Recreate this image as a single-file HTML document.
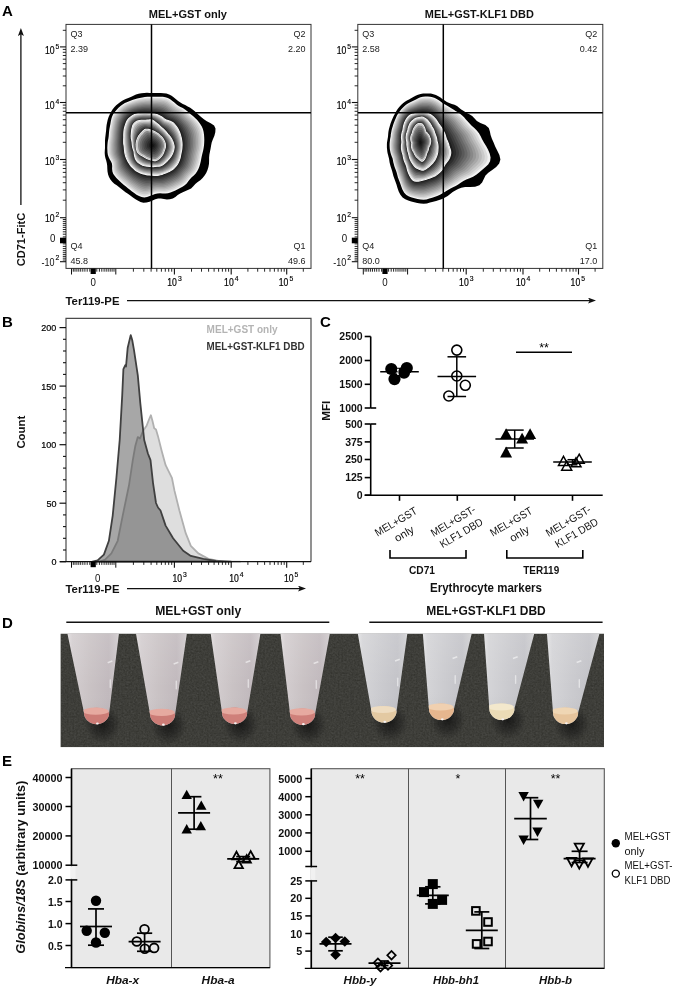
<!DOCTYPE html><html><head><meta charset="utf-8"><title>Figure</title><style>html,body{margin:0;padding:0;background:#fff}svg{display:block}text{font-family:"Liberation Sans",sans-serif}</style></head><body>
<svg width="675" height="989" viewBox="0 0 675 989">
<rect width="675" height="989" fill="#fff"/>
<defs>
<marker id="ah" markerWidth="8" markerHeight="6" refX="2" refY="3" orient="auto" markerUnits="userSpaceOnUse"><path d="M0,0 L8,3 L0,6 L1.8,3 Z" fill="#111"/></marker>
</defs>
<text x="2.0" y="15.8" font-size="15" font-weight="bold" text-anchor="start" fill="#000" >A</text>
<text x="187.8" y="17.7" font-size="11" font-weight="bold" text-anchor="middle" fill="#111" textLength="78.2" lengthAdjust="spacingAndGlyphs" >MEL+GST only</text>
<text x="479.3" y="17.7" font-size="11" font-weight="bold" text-anchor="middle" fill="#111" textLength="109.0" lengthAdjust="spacingAndGlyphs" >MEL+GST-KLF1 DBD</text>
<line x1="20.9" y1="205.0" x2="20.9" y2="34.0" stroke="#111" stroke-width="1.3" marker-end="url(#ah)"/>
<text transform="translate(25,266.3) rotate(-90)" font-size="11.5" font-weight="bold" fill="#111" textLength="53.5" lengthAdjust="spacingAndGlyphs">CD71-FitC</text>
<text x="65.5" y="304.7" font-size="11.5" font-weight="bold" text-anchor="start" fill="#111" textLength="54.0" lengthAdjust="spacingAndGlyphs" >Ter119-PE</text>
<line x1="127.0" y1="300.6" x2="590.0" y2="300.6" stroke="#111" stroke-width="1.3" marker-end="url(#ah)"/>
<polygon points="105.0,145.5 105.0,143.0 105.0,140.5 105.2,138.0 105.5,135.5 105.8,133.0 106.1,130.4 106.3,127.8 106.6,125.1 107.1,122.4 107.7,119.7 108.6,117.0 109.7,114.4 111.0,111.9 112.5,109.5 114.3,107.3 116.2,105.2 118.4,103.4 120.7,101.7 123.1,100.3 125.7,99.0 128.3,97.9 130.8,96.9 133.4,95.7 136.0,94.6 138.6,93.8 141.4,93.2 144.2,93.0 147.0,92.8 149.7,92.9 152.5,93.0 155.2,93.1 158.0,93.1 160.8,93.1 163.6,93.2 166.4,93.6 169.1,94.4 171.6,95.8 173.9,97.5 176.0,99.3 178.1,101.1 180.4,102.6 182.8,103.9 185.2,105.1 187.7,106.4 190.2,107.8 192.6,109.4 194.8,111.2 196.9,113.2 199.1,115.3 201.4,117.3 203.9,119.3 206.8,121.3 210.7,123.2 214.1,125.5 215.5,128.6 215.3,132.2 214.4,135.7 212.9,139.2 211.7,142.4 211.1,145.5 210.6,148.5 210.0,151.5 209.4,154.5 209.1,157.5 209.1,160.7 209.0,163.8 208.4,167.0 207.5,170.0 206.2,172.9 204.6,175.6 202.6,178.0 200.3,180.2 197.7,182.1 195.3,184.1 193.3,186.3 191.1,188.4 188.4,189.8 185.6,191.0 182.8,192.2 180.2,193.5 177.7,195.0 175.4,196.9 172.8,198.4 169.9,199.2 166.9,199.4 163.9,199.0 160.9,198.4 158.1,198.4 155.3,199.2 152.5,200.5 149.6,201.8 146.5,202.5 143.4,202.7 140.5,201.9 137.7,200.6 135.1,199.1 132.6,197.2 130.3,195.5 127.9,193.8 125.5,192.2 123.3,190.5 121.1,188.7 118.9,186.9 116.7,185.3 114.3,183.7 112.2,181.8 110.4,179.6 109.0,177.1 108.1,174.4 107.5,171.5 107.3,168.5 107.2,165.7 106.8,163.0 106.2,160.6 105.4,158.1 104.9,155.6 104.7,153.1 104.8,150.5 105.0,148.0" fill="#000"/>
<polygon points="107.4,145.5 107.6,143.1 107.9,140.8 108.4,138.5 108.7,136.2 108.9,133.8 109.1,131.4 109.4,129.0 109.9,126.5 110.4,124.0 110.8,121.4 111.4,118.8 112.2,116.2 113.4,113.8 115.0,111.7 116.7,109.7 118.5,107.8 120.5,105.9 122.6,104.4 124.9,103.1 127.4,102.0 129.8,101.0 132.3,100.1 134.7,99.3 137.2,98.5 139.7,97.9 142.3,97.4 144.8,97.0 147.4,96.8 149.9,96.7 152.5,96.7 155.1,96.8 157.6,96.7 160.2,96.7 162.8,96.8 165.4,97.2 167.9,98.0 170.2,99.3 172.4,100.9 174.4,102.5 176.3,104.2 178.3,105.7 180.5,106.9 182.8,108.1 185.0,109.4 187.0,111.0 189.0,112.7 191.0,114.4 193.0,116.1 195.1,117.9 197.0,119.8 198.8,121.9 200.4,124.2 201.8,126.6 202.9,129.1 203.6,131.8 204.0,134.6 204.2,137.3 204.3,140.1 204.2,142.8 204.0,145.5 203.6,148.2 203.1,150.8 202.4,153.4 201.8,156.0 201.3,158.6 200.8,161.2 200.2,163.8 199.4,166.4 198.4,168.9 197.2,171.3 195.7,173.6 193.8,175.5 191.7,177.3 189.9,179.2 188.3,181.3 186.7,183.5 184.7,185.3 182.5,186.7 180.1,188.0 177.8,189.3 175.4,190.5 173.0,191.5 170.5,192.4 168.0,193.2 165.4,193.6 162.7,193.6 160.1,193.3 157.5,193.4 155.0,194.0 152.5,195.0 149.8,196.1 147.1,197.0 144.3,197.5 141.5,197.1 139.0,196.0 136.5,194.7 134.2,193.1 132.0,191.5 129.9,189.8 127.9,188.2 125.9,186.5 123.9,184.9 121.9,183.2 120.0,181.6 118.2,179.8 116.4,178.0 114.8,176.1 113.3,174.0 112.4,171.5 112.1,168.8 112.2,166.1 111.9,163.6 111.0,161.4 109.8,159.4 108.7,157.2 107.9,155.0 107.5,152.6 107.4,150.2 107.3,147.9" fill="rgb(242,242,242)"/>
<polygon points="108.6,145.5 108.8,143.2 109.1,140.9 109.5,138.7 109.8,136.4 109.9,134.1 110.1,131.7 110.4,129.4 110.9,127.0 111.3,124.5 111.8,122.0 112.3,119.4 113.1,116.9 114.3,114.6 115.8,112.5 117.5,110.5 119.3,108.6 121.1,106.8 123.2,105.2 125.5,103.9 127.9,102.9 130.3,101.9 132.7,101.1 135.1,100.3 137.6,99.6 140.0,99.0 142.5,98.5 145.0,98.2 147.5,98.0 150.0,97.9 152.5,97.9 155.0,98.0 157.5,98.0 160.0,98.0 162.6,98.2 165.1,98.5 167.5,99.3 169.7,100.6 171.8,102.2 173.8,103.8 175.7,105.3 177.7,106.8 179.8,107.9 182.0,109.1 184.1,110.4 186.1,111.9 188.0,113.5 189.9,115.2 191.9,116.9 193.8,118.6 195.7,120.6 197.4,122.6 198.9,124.8 200.2,127.2 201.3,129.6 202.0,132.2 202.4,134.9 202.6,137.6 202.7,140.2 202.6,142.9 202.4,145.5 202.1,148.1 201.5,150.7 200.9,153.2 200.3,155.7 199.8,158.2 199.4,160.7 198.7,163.3 198.0,165.8 197.1,168.2 195.9,170.6 194.5,172.8 192.6,174.7 190.7,176.4 188.9,178.3 187.4,180.4 185.7,182.4 183.8,184.1 181.6,185.6 179.3,186.8 177.1,188.0 174.8,189.2 172.4,190.2 170.0,191.1 167.6,191.8 165.0,192.3 162.4,192.3 159.9,192.0 157.4,192.1 155.0,192.6 152.5,193.6 149.9,194.6 147.2,195.5 144.5,195.9 141.9,195.5 139.4,194.5 137.0,193.2 134.7,191.7 132.6,190.1 130.6,188.6 128.6,187.0 126.6,185.4 124.7,183.8 122.8,182.2 120.9,180.6 119.1,178.9 117.4,177.1 115.8,175.2 114.4,173.2 113.5,170.8 113.2,168.2 113.2,165.5 112.9,163.1 112.0,161.0 110.9,159.0 109.9,156.9 109.1,154.7 108.7,152.4 108.6,150.1 108.5,147.8" fill="rgb(220,220,220)"/>
<polygon points="109.8,145.5 109.9,143.3 110.2,141.1 110.5,138.9 110.8,136.6 111.0,134.4 111.2,132.1 111.5,129.7 111.9,127.4 112.3,125.0 112.7,122.5 113.3,120.0 114.0,117.6 115.2,115.3 116.6,113.2 118.2,111.2 120.0,109.4 121.8,107.6 123.9,106.1 126.1,104.8 128.4,103.8 130.8,102.9 133.1,102.0 135.5,101.3 137.9,100.6 140.3,100.1 142.8,99.6 145.2,99.3 147.6,99.2 150.1,99.1 152.5,99.2 154.9,99.2 157.4,99.2 159.8,99.3 162.3,99.5 164.7,99.9 167.1,100.7 169.2,102.0 171.2,103.5 173.1,105.0 175.0,106.5 177.0,107.8 179.1,108.9 181.2,110.0 183.3,111.3 185.2,112.8 187.0,114.4 188.8,116.1 190.7,117.7 192.6,119.4 194.4,121.3 196.0,123.3 197.5,125.5 198.7,127.8 199.7,130.2 200.4,132.7 200.8,135.2 201.0,137.8 201.1,140.4 201.1,143.0 200.9,145.5 200.5,148.0 200.0,150.5 199.4,152.9 198.8,155.4 198.4,157.8 197.9,160.3 197.3,162.7 196.6,165.1 195.7,167.5 194.7,169.8 193.2,172.0 191.5,173.8 189.6,175.5 187.9,177.4 186.4,179.4 184.8,181.4 182.9,183.0 180.8,184.4 178.6,185.6 176.3,186.8 174.1,187.9 171.8,188.9 169.5,189.8 167.1,190.5 164.7,190.9 162.2,190.9 159.7,190.8 157.3,190.8 154.9,191.3 152.5,192.2 150.0,193.1 147.4,193.9 144.8,194.2 142.2,193.9 139.8,192.9 137.5,191.7 135.3,190.3 133.2,188.8 131.2,187.3 129.2,185.8 127.3,184.2 125.5,182.7 123.6,181.2 121.8,179.6 120.1,177.9 118.4,176.2 116.9,174.3 115.5,172.4 114.7,170.1 114.3,167.5 114.2,165.0 113.9,162.7 113.1,160.6 112.0,158.7 111.1,156.6 110.3,154.5 109.9,152.2 109.8,150.0 109.7,147.7" fill="rgb(202,202,202)"/>
<polygon points="111.0,145.5 111.1,143.3 111.3,141.2 111.6,139.0 111.9,136.9 112.1,134.7 112.2,132.4 112.5,130.1 112.9,127.9 113.3,125.5 113.7,123.1 114.2,120.6 115.0,118.2 116.1,116.0 117.5,114.0 119.0,112.0 120.7,110.2 122.5,108.4 124.5,106.9 126.7,105.7 128.9,104.7 131.2,103.8 133.6,103.0 135.9,102.3 138.3,101.6 140.6,101.2 143.0,100.8 145.4,100.5 147.8,100.4 150.1,100.3 152.5,100.4 154.9,100.4 157.2,100.5 159.6,100.6 162.0,100.8 164.4,101.3 166.6,102.0 168.7,103.3 170.6,104.7 172.5,106.2 174.4,107.6 176.3,108.9 178.3,110.0 180.4,111.0 182.4,112.3 184.3,113.7 186.0,115.3 187.8,116.9 189.6,118.5 191.4,120.2 193.1,122.1 194.6,124.0 196.0,126.1 197.2,128.3 198.1,130.7 198.8,133.1 199.2,135.6 199.4,138.1 199.5,140.6 199.5,143.0 199.3,145.5 199.0,147.9 198.5,150.3 197.9,152.7 197.4,155.0 196.9,157.4 196.5,159.8 195.9,162.2 195.2,164.5 194.4,166.8 193.4,169.1 192.0,171.2 190.3,173.0 188.5,174.7 186.9,176.4 185.4,178.4 183.8,180.3 182.0,181.9 179.9,183.3 177.8,184.5 175.6,185.6 173.5,186.6 171.2,187.6 169.0,188.4 166.7,189.1 164.3,189.6 161.9,189.6 159.5,189.5 157.1,189.5 154.8,190.0 152.5,190.8 150.1,191.6 147.6,192.3 145.0,192.6 142.6,192.3 140.2,191.4 138.0,190.3 135.8,188.9 133.8,187.5 131.8,186.0 129.9,184.6 128.1,183.1 126.3,181.6 124.5,180.1 122.7,178.6 121.0,177.0 119.4,175.3 117.9,173.5 116.6,171.6 115.8,169.4 115.4,166.9 115.3,164.5 114.9,162.2 114.1,160.2 113.1,158.3 112.2,156.3 111.5,154.2 111.2,152.0 111.0,149.9 110.9,147.7" fill="rgb(185,185,185)"/>
<polygon points="112.2,145.5 112.3,143.4 112.5,141.3 112.7,139.2 113.0,137.1 113.1,134.9 113.3,132.8 113.5,130.5 113.9,128.3 114.3,126.0 114.7,123.7 115.2,121.3 115.9,118.9 116.9,116.7 118.3,114.7 119.8,112.8 121.4,110.9 123.2,109.3 125.1,107.8 127.2,106.6 129.4,105.6 131.7,104.7 134.0,104.0 136.3,103.3 138.6,102.7 140.9,102.2 143.2,101.9 145.6,101.7 147.9,101.5 150.2,101.5 152.5,101.6 154.8,101.7 157.1,101.8 159.4,101.9 161.7,102.2 164.0,102.6 166.2,103.4 168.2,104.6 170.1,106.0 171.9,107.4 173.7,108.8 175.6,110.0 177.6,111.0 179.6,112.0 181.6,113.2 183.4,114.6 185.0,116.2 186.7,117.8 188.5,119.4 190.2,121.0 191.8,122.8 193.2,124.7 194.5,126.8 195.7,128.9 196.6,131.2 197.2,133.5 197.6,135.9 197.8,138.3 197.9,140.7 197.9,143.1 197.7,145.5 197.4,147.9 197.0,150.2 196.4,152.5 195.9,154.7 195.5,157.0 195.1,159.3 194.5,161.6 193.8,163.9 193.0,166.2 192.1,168.3 190.8,170.4 189.2,172.1 187.5,173.8 185.9,175.5 184.4,177.4 182.9,179.2 181.1,180.8 179.1,182.1 177.0,183.3 174.9,184.3 172.8,185.4 170.7,186.3 168.5,187.1 166.2,187.8 164.0,188.2 161.6,188.3 159.3,188.2 157.0,188.2 154.8,188.6 152.5,189.4 150.2,190.1 147.7,190.7 145.3,191.0 142.9,190.7 140.6,189.8 138.4,188.8 136.4,187.5 134.4,186.2 132.5,184.8 130.6,183.4 128.8,182.0 127.0,180.5 125.3,179.1 123.6,177.6 122.0,176.0 120.5,174.4 119.0,172.6 117.7,170.8 116.9,168.6 116.5,166.3 116.3,163.9 115.9,161.8 115.2,159.8 114.2,157.9 113.4,156.0 112.7,154.0 112.4,151.9 112.2,149.7 112.2,147.6" fill="rgb(168,168,168)"/>
<polygon points="113.4,145.5 113.4,143.5 113.6,141.4 113.8,139.4 114.0,137.3 114.2,135.2 114.3,133.1 114.5,130.9 114.9,128.7 115.2,126.5 115.6,124.2 116.1,121.9 116.8,119.6 117.8,117.4 119.1,115.4 120.5,113.5 122.1,111.7 123.8,110.1 125.7,108.7 127.8,107.5 130.0,106.5 132.2,105.6 134.4,104.9 136.7,104.3 138.9,103.7 141.2,103.3 143.5,103.0 145.7,102.8 148.0,102.7 150.3,102.7 152.5,102.8 154.7,102.9 157.0,103.0 159.2,103.2 161.4,103.5 163.6,104.0 165.7,104.8 167.7,105.9 169.5,107.3 171.3,108.7 173.0,109.9 174.9,111.0 176.8,112.0 178.8,113.0 180.7,114.2 182.4,115.6 184.1,117.1 185.7,118.6 187.3,120.2 189.0,121.8 190.5,123.6 191.8,125.5 193.1,127.4 194.1,129.5 195.0,131.7 195.6,134.0 196.0,136.3 196.2,138.6 196.3,140.9 196.3,143.2 196.1,145.5 195.9,147.8 195.5,150.0 195.0,152.2 194.5,154.4 194.0,156.6 193.6,158.9 193.1,161.1 192.5,163.3 191.7,165.5 190.8,167.6 189.5,169.6 188.0,171.3 186.4,172.9 184.8,174.6 183.4,176.4 181.9,178.2 180.2,179.7 178.3,181.0 176.3,182.1 174.2,183.1 172.2,184.1 170.1,185.0 168.0,185.8 165.8,186.5 163.6,186.9 161.3,187.0 159.1,186.9 156.9,186.9 154.7,187.3 152.5,187.9 150.2,188.6 147.9,189.2 145.5,189.4 143.2,189.1 141.0,188.3 138.9,187.3 136.9,186.1 135.0,184.8 133.1,183.5 131.3,182.2 129.5,180.9 127.8,179.5 126.1,178.1 124.5,176.6 122.9,175.1 121.5,173.4 120.1,171.8 118.8,170.0 118.0,167.9 117.6,165.7 117.3,163.4 117.0,161.3 116.2,159.4 115.3,157.6 114.5,155.7 113.9,153.7 113.6,151.7 113.4,149.6 113.4,147.6" fill="rgb(152,152,152)"/>
<polygon points="114.5,145.5 114.6,143.5 114.7,141.5 114.9,139.5 115.1,137.6 115.2,135.5 115.4,133.4 115.6,131.3 115.9,129.2 116.2,127.0 116.6,124.8 117.1,122.5 117.7,120.2 118.7,118.1 119.9,116.2 121.3,114.3 122.8,112.5 124.5,110.9 126.4,109.5 128.4,108.3 130.5,107.4 132.7,106.6 134.9,105.9 137.1,105.3 139.3,104.8 141.5,104.4 143.7,104.1 145.9,104.0 148.1,103.9 150.3,103.9 152.5,104.0 154.7,104.1 156.8,104.3 159.0,104.5 161.1,104.8 163.3,105.3 165.3,106.1 167.2,107.3 168.9,108.6 170.7,109.9 172.4,111.1 174.2,112.1 176.1,113.0 178.0,114.0 179.8,115.1 181.5,116.5 183.1,118.0 184.6,119.5 186.2,121.0 187.7,122.6 189.2,124.3 190.4,126.2 191.6,128.1 192.6,130.1 193.4,132.2 194.0,134.4 194.3,136.6 194.6,138.8 194.7,141.1 194.7,143.3 194.6,145.5 194.3,147.7 194.0,149.9 193.5,152.0 193.0,154.1 192.6,156.2 192.2,158.4 191.7,160.5 191.1,162.7 190.4,164.8 189.5,166.8 188.3,168.8 186.9,170.5 185.3,172.1 183.8,173.7 182.4,175.4 181.0,177.1 179.3,178.6 177.4,179.8 175.5,180.9 173.5,181.9 171.5,182.8 169.5,183.7 167.5,184.5 165.4,185.1 163.2,185.6 161.0,185.7 158.9,185.6 156.7,185.6 154.6,186.0 152.5,186.5 150.3,187.1 148.1,187.6 145.8,187.8 143.6,187.4 141.5,186.7 139.4,185.8 137.5,184.7 135.6,183.5 133.8,182.3 132.0,181.0 130.3,179.7 128.6,178.4 127.0,177.0 125.4,175.6 123.9,174.1 122.5,172.5 121.1,170.9 119.9,169.2 119.1,167.2 118.6,165.1 118.4,162.9 118.0,160.9 117.2,159.0 116.4,157.2 115.7,155.4 115.1,153.4 114.8,151.5 114.7,149.5 114.6,147.5" fill="rgb(136,136,136)"/>
<polygon points="115.7,145.5 115.7,143.6 115.8,141.6 116.0,139.7 116.2,137.8 116.3,135.8 116.4,133.8 116.6,131.7 116.9,129.6 117.2,127.5 117.6,125.3 118.0,123.1 118.7,120.9 119.6,118.9 120.8,116.9 122.1,115.1 123.5,113.3 125.2,111.8 127.0,110.4 128.9,109.2 131.0,108.3 133.1,107.5 135.3,106.8 137.4,106.3 139.6,105.8 141.8,105.5 143.9,105.2 146.1,105.1 148.3,105.1 150.4,105.1 152.5,105.2 154.6,105.3 156.7,105.5 158.8,105.8 160.9,106.2 162.9,106.7 164.8,107.5 166.7,108.6 168.4,109.9 170.0,111.1 171.7,112.2 173.5,113.2 175.3,114.1 177.2,115.0 179.0,116.1 180.6,117.4 182.1,118.9 183.6,120.3 185.1,121.8 186.5,123.4 187.9,125.1 189.1,126.9 190.1,128.7 191.1,130.7 191.8,132.7 192.4,134.8 192.7,136.9 193.0,139.1 193.1,141.2 193.1,143.4 193.0,145.5 192.8,147.6 192.4,149.7 192.0,151.8 191.5,153.8 191.1,155.9 190.8,157.9 190.3,160.0 189.7,162.1 189.0,164.1 188.2,166.1 187.1,168.0 185.7,169.6 184.2,171.2 182.8,172.8 181.5,174.5 180.0,176.1 178.4,177.5 176.6,178.7 174.7,179.7 172.8,180.7 170.9,181.6 168.9,182.4 166.9,183.1 164.9,183.8 162.9,184.2 160.8,184.3 158.6,184.3 156.6,184.4 154.6,184.6 152.5,185.1 150.4,185.6 148.2,186.0 146.1,186.2 143.9,185.8 141.9,185.2 139.9,184.3 138.0,183.3 136.2,182.2 134.4,181.0 132.7,179.9 131.0,178.6 129.4,177.3 127.8,176.0 126.3,174.6 124.9,173.1 123.5,171.6 122.2,170.0 121.0,168.4 120.2,166.5 119.7,164.4 119.4,162.4 119.0,160.4 118.3,158.6 117.5,156.9 116.8,155.1 116.3,153.2 116.0,151.3 115.9,149.3 115.8,147.4" fill="rgb(120,120,120)"/>
<polygon points="116.9,145.5 116.9,143.6 117.0,141.8 117.1,139.9 117.3,138.0 117.4,136.1 117.5,134.1 117.6,132.1 117.9,130.1 118.2,128.0 118.5,125.9 119.0,123.7 119.6,121.6 120.5,119.6 121.6,117.7 122.8,115.8 124.2,114.1 125.9,112.6 127.6,111.3 129.5,110.1 131.5,109.2 133.6,108.4 135.7,107.8 137.8,107.3 139.9,106.9 142.1,106.6 144.2,106.4 146.3,106.3 148.4,106.3 150.4,106.3 152.5,106.4 154.5,106.6 156.6,106.8 158.6,107.1 160.6,107.5 162.5,108.0 164.4,108.9 166.1,109.9 167.8,111.2 169.4,112.3 171.1,113.3 172.8,114.2 174.6,115.1 176.4,116.0 178.1,117.0 179.7,118.3 181.1,119.7 182.5,121.2 183.9,122.7 185.3,124.2 186.5,125.8 187.7,127.6 188.7,129.4 189.5,131.3 190.3,133.2 190.8,135.2 191.1,137.3 191.4,139.3 191.5,141.4 191.5,143.5 191.4,145.5 191.2,147.5 190.9,149.5 190.5,151.5 190.1,153.5 189.7,155.5 189.3,157.5 188.9,159.5 188.3,161.5 187.7,163.4 186.9,165.3 185.8,167.2 184.6,168.8 183.2,170.3 181.8,171.9 180.5,173.5 179.1,175.0 177.5,176.4 175.7,177.5 173.9,178.5 172.1,179.4 170.2,180.3 168.3,181.1 166.4,181.8 164.5,182.4 162.5,182.9 160.5,183.0 158.4,183.0 156.4,183.1 154.5,183.3 152.5,183.7 150.5,184.1 148.4,184.5 146.3,184.5 144.3,184.2 142.3,183.6 140.4,182.8 138.5,181.9 136.8,180.8 135.0,179.8 133.4,178.7 131.7,177.5 130.2,176.2 128.7,174.9 127.2,173.6 125.8,172.2 124.5,170.7 123.2,169.2 122.1,167.6 121.3,165.7 120.8,163.8 120.4,161.8 120.0,160.0 119.3,158.2 118.6,156.5 118.0,154.7 117.5,152.9 117.2,151.1 117.1,149.2 117.0,147.4" fill="rgb(104,104,104)"/>
<polygon points="118.1,145.5 118.0,143.7 118.1,141.9 118.2,140.1 118.3,138.2 118.4,136.4 118.5,134.5 118.7,132.5 118.9,130.5 119.1,128.5 119.5,126.4 119.9,124.3 120.5,122.3 121.4,120.3 122.4,118.4 123.6,116.6 125.0,114.9 126.5,113.4 128.2,112.1 130.1,111.0 132.0,110.1 134.1,109.3 136.1,108.8 138.2,108.3 140.3,107.9 142.4,107.6 144.4,107.5 146.5,107.4 148.5,107.4 150.5,107.5 152.5,107.6 154.5,107.8 156.4,108.0 158.4,108.4 160.3,108.8 162.2,109.4 164.0,110.2 165.6,111.3 167.2,112.5 168.8,113.6 170.4,114.5 172.1,115.3 173.9,116.1 175.6,116.9 177.3,118.0 178.8,119.2 180.1,120.6 181.5,122.0 182.8,123.5 184.1,125.0 185.2,126.6 186.3,128.3 187.2,130.0 188.0,131.9 188.7,133.7 189.2,135.7 189.5,137.6 189.8,139.6 189.9,141.6 189.9,143.5 189.9,145.5 189.7,147.4 189.4,149.4 189.0,151.3 188.6,153.2 188.2,155.1 187.9,157.0 187.5,158.9 187.0,160.8 186.3,162.7 185.6,164.6 184.6,166.4 183.4,168.0 182.1,169.5 180.8,171.0 179.5,172.5 178.1,174.0 176.6,175.3 174.9,176.3 173.2,177.3 171.4,178.2 169.6,179.0 167.8,179.8 165.9,180.5 164.1,181.1 162.2,181.5 160.2,181.7 158.2,181.7 156.3,181.8 154.4,182.0 152.5,182.3 150.6,182.6 148.6,182.9 146.6,182.9 144.6,182.6 142.7,182.1 140.9,181.3 139.1,180.5 137.4,179.5 135.7,178.5 134.0,177.5 132.5,176.4 131.0,175.2 129.5,173.9 128.1,172.6 126.8,171.2 125.5,169.8 124.3,168.3 123.2,166.8 122.4,165.0 121.9,163.2 121.5,161.3 121.0,159.5 120.4,157.8 119.7,156.2 119.1,154.4 118.7,152.7 118.4,150.9 118.3,149.1 118.2,147.3" fill="rgb(89,89,89)"/>
<polygon points="119.3,145.5 119.2,143.8 119.2,142.0 119.3,140.2 119.4,138.5 119.5,136.7 119.6,134.8 119.7,132.9 119.9,131.0 120.1,129.0 120.4,127.0 120.9,125.0 121.5,122.9 122.2,121.0 123.2,119.1 124.3,117.3 125.7,115.7 127.2,114.3 128.9,113.0 130.7,111.9 132.6,111.0 134.6,110.3 136.6,109.7 138.6,109.3 140.6,108.9 142.6,108.7 144.7,108.6 146.7,108.6 148.6,108.6 150.6,108.7 152.5,108.8 154.4,109.0 156.3,109.3 158.2,109.6 160.0,110.1 161.8,110.8 163.5,111.6 165.1,112.6 166.6,113.7 168.2,114.8 169.7,115.6 171.4,116.4 173.1,117.1 174.8,117.9 176.4,118.9 177.8,120.2 179.1,121.5 180.4,122.9 181.7,124.3 182.9,125.8 183.9,127.4 184.9,129.0 185.8,130.7 186.5,132.5 187.1,134.3 187.6,136.1 187.9,138.0 188.2,139.9 188.3,141.7 188.3,143.6 188.3,145.5 188.1,147.4 187.9,149.2 187.5,151.1 187.2,152.9 186.8,154.7 186.5,156.5 186.1,158.4 185.6,160.2 185.0,162.1 184.3,163.8 183.4,165.6 182.3,167.1 181.0,168.6 179.7,170.0 178.5,171.5 177.2,172.9 175.7,174.1 174.1,175.2 172.4,176.1 170.7,177.0 168.9,177.8 167.2,178.5 165.4,179.2 163.6,179.7 161.8,180.2 159.9,180.4 158.0,180.4 156.2,180.5 154.3,180.6 152.5,180.9 150.6,181.1 148.7,181.3 146.8,181.3 144.9,181.0 143.1,180.5 141.3,179.9 139.6,179.1 137.9,178.2 136.3,177.3 134.7,176.3 133.2,175.2 131.7,174.1 130.3,172.9 129.0,171.6 127.7,170.3 126.5,168.9 125.4,167.5 124.4,165.9 123.5,164.3 123.0,162.6 122.5,160.8 122.0,159.1 121.4,157.4 120.8,155.8 120.3,154.1 119.9,152.4 119.6,150.7 119.5,149.0 119.4,147.2" fill="rgb(74,74,74)"/>
<polygon points="120.5,145.5 120.4,143.8 120.3,142.1 120.4,140.4 120.5,138.7 120.6,136.9 120.6,135.1 120.7,133.3 120.9,131.4 121.1,129.5 121.4,127.5 121.8,125.6 122.4,123.6 123.1,121.7 124.0,119.9 125.1,118.1 126.4,116.5 127.9,115.1 129.5,113.8 131.2,112.8 133.1,111.9 135.0,111.2 137.0,110.7 139.0,110.3 141.0,110.0 142.9,109.8 144.9,109.7 146.8,109.7 148.7,109.8 150.6,109.9 152.5,110.0 154.3,110.2 156.2,110.5 158.0,110.9 159.7,111.5 161.4,112.1 163.1,112.9 164.6,113.9 166.1,115.0 167.5,116.0 169.1,116.8 170.7,117.5 172.4,118.1 174.0,118.9 175.6,119.9 176.9,121.1 178.2,122.4 179.4,123.7 180.5,125.1 181.6,126.6 182.6,128.1 183.5,129.7 184.3,131.3 185.0,133.0 185.5,134.8 186.0,136.5 186.3,138.3 186.5,140.1 186.7,141.9 186.8,143.7 186.7,145.5 186.6,147.3 186.4,149.1 186.1,150.8 185.7,152.6 185.4,154.3 185.0,156.1 184.7,157.8 184.2,159.6 183.6,161.4 183.0,163.1 182.1,164.8 181.1,166.3 179.9,167.7 178.7,169.1 177.5,170.5 176.2,171.9 174.8,173.0 173.2,174.0 171.6,174.9 170.0,175.7 168.3,176.5 166.6,177.2 164.9,177.8 163.2,178.4 161.4,178.8 159.6,179.1 157.8,179.1 156.0,179.2 154.3,179.3 152.5,179.4 150.7,179.6 148.9,179.7 147.1,179.7 145.3,179.4 143.5,179.0 141.8,178.4 140.2,177.7 138.5,176.9 137.0,176.0 135.4,175.1 133.9,174.1 132.5,173.0 131.2,171.8 129.9,170.6 128.7,169.3 127.5,168.0 126.4,166.6 125.5,165.1 124.7,163.6 124.0,161.9 123.6,160.2 123.1,158.6 122.5,157.0 121.9,155.4 121.4,153.8 121.1,152.2 120.9,150.5 120.7,148.8 120.6,147.2" fill="rgb(59,59,59)"/>
<polygon points="121.7,145.5 121.5,143.9 121.5,142.2 121.5,140.6 121.5,138.9 121.6,137.2 121.7,135.5 121.7,133.7 121.9,131.9 122.1,130.0 122.4,128.1 122.8,126.2 123.3,124.3 124.0,122.4 124.9,120.6 125.9,118.9 127.1,117.3 128.5,115.9 130.1,114.7 131.8,113.6 133.6,112.8 135.5,112.1 137.4,111.7 139.4,111.3 141.3,111.0 143.2,110.9 145.1,110.8 147.0,110.9 148.9,111.0 150.7,111.1 152.5,111.2 154.3,111.4 156.0,111.8 157.8,112.2 159.4,112.8 161.1,113.5 162.6,114.3 164.1,115.3 165.5,116.3 166.9,117.2 168.4,117.9 170.0,118.5 171.6,119.2 173.2,119.9 174.7,120.9 176.0,122.0 177.2,123.3 178.3,124.6 179.4,125.9 180.4,127.4 181.3,128.9 182.1,130.4 182.8,132.0 183.4,133.6 183.9,135.3 184.4,137.0 184.7,138.7 184.9,140.4 185.1,142.1 185.2,143.8 185.1,145.5 185.0,147.2 184.9,148.9 184.6,150.6 184.2,152.2 183.9,153.9 183.6,155.6 183.3,157.3 182.8,159.0 182.3,160.7 181.7,162.3 180.9,163.9 180.0,165.5 178.9,166.9 177.7,168.2 176.5,169.5 175.3,170.8 173.9,171.9 172.4,172.9 170.8,173.7 169.2,174.5 167.6,175.2 166.0,175.9 164.4,176.5 162.8,177.1 161.1,177.5 159.4,177.7 157.6,177.9 155.9,177.9 154.2,178.0 152.5,178.0 150.8,178.1 149.1,178.2 147.3,178.1 145.6,177.8 143.9,177.4 142.3,176.9 140.7,176.3 139.1,175.5 137.6,174.8 136.1,173.9 134.7,173.0 133.3,171.9 132.0,170.8 130.8,169.6 129.6,168.4 128.5,167.1 127.5,165.7 126.6,164.3 125.8,162.9 125.1,161.3 124.6,159.7 124.1,158.2 123.5,156.6 123.0,155.1 122.6,153.5 122.3,151.9 122.1,150.3 122.0,148.7 121.8,147.1" fill="rgb(44,44,44)"/>
<polygon points="122.9,145.5 122.7,143.9 122.6,142.4 122.6,140.8 122.6,139.1 122.7,137.5 122.7,135.8 122.8,134.1 122.9,132.3 123.0,130.5 123.3,128.7 123.7,126.8 124.2,125.0 124.9,123.2 125.7,121.4 126.6,119.6 127.8,118.1 129.2,116.7 130.8,115.6 132.4,114.5 134.1,113.7 136.0,113.1 137.9,112.6 139.8,112.3 141.6,112.1 143.5,112.0 145.4,111.9 147.2,112.0 149.0,112.2 150.8,112.3 152.5,112.4 154.2,112.7 155.9,113.0 157.6,113.5 159.2,114.1 160.7,114.8 162.2,115.7 163.6,116.6 164.9,117.6 166.3,118.5 167.8,119.1 169.3,119.6 170.9,120.2 172.4,120.9 173.8,121.8 175.1,122.9 176.2,124.2 177.3,125.4 178.3,126.8 179.2,128.2 180.0,129.6 180.7,131.1 181.4,132.6 181.9,134.2 182.4,135.8 182.8,137.4 183.1,139.0 183.3,140.6 183.5,142.2 183.6,143.9 183.6,145.5 183.5,147.1 183.3,148.7 183.1,150.3 182.8,151.9 182.5,153.5 182.2,155.1 181.8,156.8 181.4,158.4 181.0,160.0 180.4,161.6 179.7,163.1 178.8,164.6 177.8,166.0 176.7,167.3 175.6,168.6 174.3,169.7 173.0,170.8 171.6,171.7 170.1,172.5 168.5,173.3 167.0,173.9 165.4,174.6 163.9,175.2 162.3,175.7 160.7,176.1 159.1,176.4 157.4,176.6 155.8,176.6 154.1,176.6 152.5,176.6 150.9,176.6 149.2,176.6 147.6,176.5 146.0,176.2 144.4,175.9 142.8,175.4 141.2,174.8 139.7,174.2 138.2,173.5 136.8,172.7 135.4,171.8 134.1,170.8 132.9,169.8 131.7,168.6 130.6,167.4 129.5,166.2 128.6,164.9 127.7,163.5 126.9,162.1 126.2,160.7 125.6,159.2 125.1,157.7 124.6,156.2 124.1,154.7 123.8,153.2 123.5,151.7 123.3,150.1 123.2,148.6 123.1,147.0" fill="rgb(29,29,29)"/>
<polygon points="124.1,145.5 123.8,144.0 123.7,142.5 123.7,140.9 123.7,139.4 123.8,137.8 123.8,136.2 123.8,134.5 123.9,132.7 124.0,131.0 124.3,129.2 124.7,127.4 125.2,125.6 125.8,123.9 126.5,122.1 127.4,120.4 128.5,118.9 129.9,117.6 131.4,116.4 132.9,115.4 134.6,114.6 136.4,114.0 138.3,113.6 140.1,113.3 142.0,113.1 143.8,113.0 145.6,113.1 147.4,113.2 149.1,113.3 150.8,113.5 152.5,113.7 154.2,113.9 155.8,114.3 157.4,114.8 158.9,115.5 160.4,116.2 161.8,117.0 163.1,117.9 164.4,118.9 165.7,119.7 167.1,120.2 168.6,120.7 170.2,121.2 171.6,121.9 173.0,122.8 174.2,123.8 175.2,125.0 176.2,126.3 177.1,127.6 178.0,129.0 178.7,130.4 179.3,131.8 179.9,133.3 180.4,134.8 180.8,136.3 181.2,137.8 181.5,139.3 181.7,140.9 181.9,142.4 182.0,144.0 182.0,145.5 181.9,147.0 181.8,148.6 181.6,150.1 181.3,151.6 181.0,153.1 180.7,154.7 180.4,156.2 180.1,157.8 179.6,159.3 179.1,160.8 178.4,162.3 177.7,163.8 176.7,165.1 175.7,166.4 174.6,167.6 173.4,168.7 172.1,169.7 170.7,170.6 169.3,171.4 167.8,172.0 166.3,172.7 164.9,173.3 163.4,173.8 161.9,174.4 160.3,174.8 158.8,175.1 157.2,175.3 155.6,175.3 154.1,175.3 152.5,175.2 150.9,175.1 149.4,175.0 147.8,174.9 146.3,174.6 144.8,174.3 143.3,173.9 141.8,173.4 140.3,172.9 138.9,172.3 137.5,171.5 136.1,170.7 134.9,169.8 133.7,168.7 132.6,167.6 131.5,166.5 130.5,165.3 129.6,164.0 128.8,162.7 128.0,161.4 127.3,160.1 126.7,158.7 126.1,157.3 125.6,155.8 125.2,154.4 124.9,152.9 124.7,151.4 124.5,149.9 124.4,148.5 124.3,147.0" fill="none" stroke="#fff" stroke-width="1.15"/>
<polygon points="124.1,145.5 123.8,144.0 123.7,142.5 123.7,140.9 123.7,139.4 123.8,137.8 123.8,136.2 123.8,134.5 123.9,132.7 124.0,131.0 124.3,129.2 124.7,127.4 125.2,125.6 125.8,123.9 126.5,122.1 127.4,120.4 128.5,118.9 129.9,117.6 131.4,116.4 132.9,115.4 134.6,114.6 136.4,114.0 138.3,113.6 140.1,113.3 142.0,113.1 143.8,113.0 145.6,113.1 147.4,113.2 149.1,113.3 150.8,113.5 152.5,113.7 154.2,113.9 155.8,114.3 157.4,114.8 158.9,115.5 160.4,116.2 161.8,117.0 163.1,117.9 164.4,118.9 165.7,119.7 167.1,120.2 168.6,120.7 170.2,121.2 171.6,121.9 173.0,122.8 174.2,123.8 175.2,125.0 176.2,126.3 177.1,127.6 178.0,129.0 178.7,130.4 179.3,131.8 179.9,133.3 180.4,134.8 180.8,136.3 181.2,137.8 181.5,139.3 181.7,140.9 181.9,142.4 182.0,144.0 182.0,145.5 181.9,147.0 181.8,148.6 181.6,150.1 181.3,151.6 181.0,153.1 180.7,154.7 180.4,156.2 180.1,157.8 179.6,159.3 179.1,160.8 178.4,162.3 177.7,163.8 176.7,165.1 175.7,166.4 174.6,167.6 173.4,168.7 172.1,169.7 170.7,170.6 169.3,171.4 167.8,172.0 166.3,172.7 164.9,173.3 163.4,173.8 161.9,174.4 160.3,174.8 158.8,175.1 157.2,175.3 155.6,175.3 154.1,175.3 152.5,175.2 150.9,175.1 149.4,175.0 147.8,174.9 146.3,174.6 144.8,174.3 143.3,173.9 141.8,173.4 140.3,172.9 138.9,172.3 137.5,171.5 136.1,170.7 134.9,169.8 133.7,168.7 132.6,167.6 131.5,166.5 130.5,165.3 129.6,164.0 128.8,162.7 128.0,161.4 127.3,160.1 126.7,158.7 126.1,157.3 125.6,155.8 125.2,154.4 124.9,152.9 124.7,151.4 124.5,149.9 124.4,148.5 124.3,147.0" fill="rgb(232,232,232)"/>
<polygon points="125.1,145.5 124.9,144.1 124.8,142.6 124.7,141.1 124.7,139.6 124.7,138.1 124.8,136.5 124.7,134.8 124.8,133.2 124.9,131.4 125.2,129.7 125.5,128.0 126.0,126.2 126.6,124.5 127.2,122.8 128.1,121.1 129.1,119.5 130.4,118.3 131.9,117.1 133.4,116.1 135.1,115.3 136.9,114.8 138.7,114.4 140.5,114.2 142.3,114.0 144.0,113.9 145.8,113.9 147.5,114.0 149.2,114.2 150.9,114.3 152.5,114.5 154.1,114.8 155.7,115.2 157.2,115.8 158.7,116.5 160.1,117.2 161.4,118.1 162.7,119.0 163.9,119.9 165.1,120.7 166.5,121.2 168.0,121.7 169.4,122.3 170.8,122.9 172.0,123.8 173.1,124.9 174.2,126.0 175.1,127.2 176.0,128.4 176.8,129.7 177.5,131.0 178.2,132.4 178.7,133.8 179.2,135.2 179.7,136.7 180.0,138.1 180.4,139.6 180.6,141.0 180.8,142.5 181.0,144.0 181.0,145.5 181.0,147.0 180.9,148.5 180.7,150.0 180.4,151.4 180.1,152.9 179.8,154.4 179.5,155.8 179.1,157.3 178.6,158.8 178.1,160.3 177.4,161.7 176.7,163.1 175.8,164.3 174.8,165.5 173.7,166.7 172.6,167.8 171.3,168.8 170.0,169.6 168.7,170.4 167.3,171.1 165.9,171.7 164.4,172.3 163.0,172.8 161.5,173.3 160.1,173.7 158.6,174.0 157.0,174.2 155.5,174.2 154.0,174.2 152.5,174.1 151.0,174.0 149.5,174.0 148.0,173.8 146.5,173.6 145.1,173.3 143.6,172.9 142.1,172.5 140.7,172.0 139.3,171.4 138.0,170.7 136.7,169.9 135.4,169.0 134.3,168.0 133.2,166.9 132.2,165.8 131.2,164.6 130.4,163.4 129.6,162.2 128.9,160.9 128.2,159.5 127.6,158.2 127.1,156.8 126.7,155.4 126.3,154.0 126.0,152.6 125.8,151.2 125.6,149.8 125.4,148.3 125.3,146.9" fill="rgb(194,194,194)"/>
<polygon points="126.1,145.5 125.9,144.1 125.8,142.7 125.8,141.3 125.7,139.8 125.7,138.3 125.7,136.8 125.7,135.2 125.7,133.6 125.8,131.9 126.1,130.2 126.4,128.5 126.8,126.8 127.3,125.1 128.0,123.4 128.7,121.7 129.7,120.2 131.0,119.0 132.4,117.8 133.9,116.9 135.5,116.1 137.3,115.6 139.0,115.3 140.8,115.0 142.5,114.9 144.3,114.8 146.0,114.8 147.7,114.9 149.3,115.0 150.9,115.1 152.5,115.3 154.1,115.7 155.6,116.2 157.0,116.8 158.5,117.5 159.8,118.3 161.1,119.1 162.3,120.0 163.5,120.9 164.6,121.7 165.9,122.2 167.3,122.7 168.6,123.3 169.9,124.0 171.1,124.8 172.1,125.9 173.1,127.0 174.0,128.1 174.8,129.3 175.6,130.5 176.4,131.7 177.0,133.0 177.6,134.3 178.1,135.7 178.5,137.0 178.9,138.4 179.3,139.8 179.6,141.2 179.8,142.6 179.9,144.1 180.0,145.5 180.0,146.9 179.9,148.4 179.7,149.8 179.4,151.2 179.1,152.6 178.8,154.0 178.5,155.5 178.1,156.9 177.6,158.3 177.1,159.7 176.4,161.0 175.7,162.4 174.8,163.6 173.8,164.7 172.8,165.8 171.7,166.9 170.6,167.8 169.3,168.7 168.0,169.4 166.7,170.1 165.4,170.7 164.0,171.3 162.6,171.9 161.2,172.3 159.8,172.7 158.3,172.9 156.9,173.0 155.4,173.1 153.9,173.1 152.5,173.1 151.1,173.0 149.6,172.9 148.2,172.7 146.8,172.5 145.3,172.3 143.9,171.9 142.5,171.5 141.1,171.0 139.8,170.5 138.5,169.8 137.2,169.1 136.0,168.2 134.9,167.2 133.9,166.2 132.9,165.1 131.9,164.0 131.1,162.8 130.4,161.6 129.7,160.3 129.1,159.0 128.6,157.7 128.2,156.3 127.8,155.0 127.4,153.6 127.1,152.3 126.9,151.0 126.6,149.6 126.5,148.2 126.3,146.9" fill="rgb(163,163,163)"/>
<polygon points="127.2,145.5 127.0,144.2 126.9,142.8 126.8,141.4 126.8,140.0 126.7,138.6 126.7,137.1 126.6,135.6 126.6,134.0 126.7,132.4 126.9,130.7 127.2,129.1 127.6,127.4 128.1,125.7 128.7,124.1 129.4,122.4 130.4,120.9 131.6,119.7 132.9,118.6 134.4,117.6 136.0,116.9 137.7,116.4 139.4,116.1 141.1,115.9 142.8,115.8 144.5,115.7 146.2,115.7 147.8,115.7 149.4,115.8 150.9,115.9 152.5,116.1 154.0,116.5 155.5,117.1 156.9,117.8 158.2,118.5 159.5,119.3 160.8,120.1 161.9,121.0 163.0,121.9 164.1,122.7 165.3,123.3 166.6,123.8 167.8,124.4 169.0,125.1 170.2,125.9 171.1,126.9 172.0,127.9 172.9,129.0 173.7,130.1 174.5,131.2 175.2,132.4 175.8,133.6 176.4,134.8 176.9,136.1 177.4,137.4 177.8,138.7 178.2,140.0 178.5,141.4 178.7,142.7 178.9,144.1 179.0,145.5 179.0,146.9 178.9,148.3 178.7,149.7 178.5,151.0 178.2,152.4 177.8,153.7 177.5,155.1 177.1,156.5 176.6,157.8 176.1,159.1 175.4,160.4 174.7,161.6 173.9,162.8 172.9,163.9 171.9,164.9 170.9,165.9 169.8,166.9 168.6,167.7 167.4,168.5 166.2,169.2 164.9,169.8 163.6,170.4 162.2,170.9 160.9,171.3 159.5,171.6 158.1,171.8 156.7,171.9 155.3,172.0 153.9,172.0 152.5,172.0 151.1,171.9 149.7,171.8 148.4,171.7 147.0,171.5 145.6,171.2 144.2,170.9 142.9,170.5 141.5,170.1 140.2,169.6 139.0,169.0 137.7,168.2 136.6,167.4 135.5,166.5 134.5,165.5 133.5,164.5 132.6,163.4 131.9,162.2 131.2,161.0 130.6,159.7 130.0,158.5 129.6,157.2 129.2,155.9 128.8,154.6 128.6,153.3 128.2,152.0 127.9,150.7 127.7,149.4 127.5,148.1 127.4,146.8" fill="rgb(135,135,135)"/>
<polygon points="128.2,145.5 128.1,144.2 128.0,142.9 127.9,141.6 127.8,140.2 127.7,138.9 127.6,137.4 127.6,135.9 127.5,134.4 127.6,132.8 127.8,131.3 128.1,129.7 128.4,128.0 128.9,126.4 129.4,124.7 130.1,123.1 131.0,121.6 132.1,120.3 133.4,119.3 134.9,118.3 136.4,117.7 138.1,117.2 139.8,116.9 141.5,116.7 143.1,116.6 144.8,116.6 146.4,116.6 147.9,116.6 149.5,116.6 151.0,116.7 152.5,117.0 154.0,117.4 155.4,118.1 156.7,118.8 158.0,119.5 159.3,120.3 160.4,121.1 161.5,122.0 162.6,122.9 163.6,123.7 164.8,124.3 165.9,124.8 167.1,125.4 168.2,126.1 169.2,126.9 170.1,127.9 171.0,128.9 171.8,129.9 172.5,130.9 173.3,132.0 174.0,133.1 174.7,134.2 175.3,135.4 175.8,136.6 176.3,137.8 176.7,139.0 177.1,140.3 177.4,141.6 177.7,142.9 177.9,144.2 178.0,145.5 178.0,146.8 178.0,148.2 177.8,149.5 177.5,150.8 177.2,152.1 176.9,153.4 176.5,154.7 176.1,156.0 175.6,157.3 175.1,158.5 174.4,159.7 173.7,160.9 172.9,162.0 172.0,163.0 171.0,164.0 170.1,165.0 169.0,165.9 167.9,166.7 166.8,167.5 165.6,168.2 164.4,168.8 163.1,169.4 161.9,169.9 160.5,170.2 159.2,170.5 157.9,170.7 156.5,170.8 155.2,170.9 153.8,170.9 152.5,170.9 151.2,170.8 149.8,170.8 148.5,170.6 147.2,170.4 145.9,170.2 144.6,169.9 143.3,169.6 142.0,169.2 140.7,168.7 139.5,168.1 138.3,167.4 137.2,166.6 136.1,165.7 135.1,164.8 134.2,163.8 133.4,162.7 132.6,161.6 132.0,160.4 131.4,159.2 131.0,157.9 130.5,156.7 130.2,155.4 129.9,154.2 129.7,152.9 129.3,151.7 129.0,150.5 128.8,149.3 128.6,148.0 128.4,146.8" fill="rgb(108,108,108)"/>
<polygon points="129.3,145.5 129.1,144.3 129.0,143.0 128.9,141.8 128.8,140.5 128.7,139.1 128.6,137.7 128.5,136.3 128.5,134.8 128.5,133.3 128.7,131.8 129.0,130.2 129.3,128.6 129.6,127.0 130.1,125.4 130.7,123.7 131.6,122.3 132.7,121.0 133.9,120.0 135.3,119.1 136.9,118.5 138.5,118.1 140.2,117.8 141.8,117.6 143.4,117.5 145.0,117.5 146.5,117.5 148.1,117.4 149.5,117.4 151.0,117.5 152.5,117.8 153.9,118.3 155.3,119.0 156.6,119.8 157.8,120.6 159.0,121.3 160.1,122.1 161.1,123.0 162.1,123.9 163.1,124.7 164.2,125.3 165.3,125.9 166.3,126.5 167.3,127.2 168.3,128.0 169.1,128.9 169.9,129.8 170.6,130.8 171.4,131.8 172.2,132.7 172.9,133.7 173.5,134.8 174.1,135.9 174.7,137.0 175.1,138.1 175.6,139.3 176.0,140.5 176.3,141.7 176.6,143.0 176.8,144.2 177.0,145.5 177.0,146.8 177.0,148.1 176.8,149.4 176.6,150.6 176.3,151.9 175.9,153.1 175.6,154.4 175.1,155.6 174.6,156.8 174.1,158.0 173.4,159.1 172.7,160.2 171.9,161.2 171.1,162.2 170.2,163.2 169.2,164.1 168.3,165.0 167.2,165.8 166.2,166.5 165.0,167.2 163.9,167.9 162.7,168.4 161.5,168.9 160.2,169.2 158.9,169.4 157.6,169.6 156.3,169.7 155.1,169.8 153.8,169.8 152.5,169.8 151.2,169.8 150.0,169.7 148.7,169.6 147.4,169.4 146.1,169.2 144.9,168.9 143.6,168.6 142.4,168.2 141.2,167.8 140.0,167.2 138.8,166.6 137.8,165.8 136.7,165.0 135.8,164.1 134.9,163.1 134.1,162.1 133.4,161.0 132.8,159.8 132.3,158.6 131.9,157.4 131.5,156.2 131.2,155.0 131.0,153.8 130.8,152.6 130.5,151.4 130.1,150.3 129.9,149.1 129.6,147.9 129.5,146.7" fill="rgb(83,83,83)"/>
<polygon points="130.3,145.5 130.2,144.3 130.1,143.1 130.0,141.9 129.9,140.7 129.7,139.4 129.5,138.0 129.4,136.6 129.4,135.2 129.5,133.8 129.6,132.3 129.8,130.8 130.1,129.2 130.4,127.6 130.8,126.0 131.4,124.4 132.2,123.0 133.3,121.7 134.5,120.7 135.8,119.8 137.3,119.2 138.9,118.9 140.5,118.6 142.1,118.5 143.7,118.4 145.2,118.4 146.7,118.4 148.2,118.3 149.6,118.2 151.1,118.3 152.5,118.6 153.9,119.2 155.2,120.0 156.4,120.8 157.6,121.6 158.7,122.4 159.8,123.2 160.7,124.0 161.7,124.9 162.6,125.7 163.6,126.3 164.6,126.9 165.5,127.5 166.5,128.3 167.3,129.0 168.1,129.9 168.8,130.8 169.5,131.7 170.3,132.6 171.0,133.5 171.7,134.4 172.4,135.4 173.0,136.4 173.5,137.4 174.0,138.5 174.5,139.6 174.9,140.7 175.2,141.9 175.6,143.1 175.8,144.3 176.0,145.5 176.1,146.7 176.0,148.0 175.9,149.2 175.6,150.4 175.3,151.6 175.0,152.8 174.6,154.0 174.1,155.1 173.6,156.3 173.1,157.4 172.4,158.4 171.7,159.5 171.0,160.5 170.1,161.4 169.3,162.3 168.4,163.2 167.5,164.0 166.5,164.8 165.5,165.6 164.5,166.3 163.4,166.9 162.3,167.5 161.1,167.9 159.9,168.2 158.6,168.4 157.4,168.5 156.2,168.6 154.9,168.7 153.7,168.8 152.5,168.8 151.3,168.7 150.1,168.6 148.9,168.5 147.6,168.4 146.4,168.2 145.2,168.0 144.0,167.7 142.8,167.3 141.6,166.9 140.5,166.4 139.4,165.7 138.3,165.0 137.3,164.2 136.4,163.4 135.5,162.5 134.8,161.5 134.1,160.4 133.6,159.2 133.2,158.1 132.8,156.9 132.5,155.7 132.2,154.5 132.1,153.3 131.9,152.2 131.6,151.1 131.2,150.0 130.9,148.9 130.7,147.8 130.5,146.7" fill="rgb(58,58,58)"/>
<polygon points="131.3,145.5 131.2,144.4 131.1,143.3 131.1,142.1 130.9,140.9 130.7,139.7 130.5,138.3 130.4,137.0 130.3,135.6 130.4,134.2 130.5,132.8 130.7,131.3 130.9,129.8 131.2,128.2 131.6,126.7 132.1,125.1 132.8,123.6 133.8,122.4 135.0,121.4 136.3,120.5 137.8,120.0 139.3,119.7 140.9,119.5 142.5,119.3 144.0,119.3 145.5,119.3 146.9,119.3 148.3,119.2 149.7,119.1 151.1,119.1 152.5,119.4 153.8,120.1 155.1,120.9 156.3,121.8 157.4,122.6 158.4,123.4 159.4,124.2 160.3,125.1 161.2,125.9 162.1,126.7 163.0,127.3 163.9,127.9 164.8,128.6 165.6,129.3 166.4,130.1 167.1,130.9 167.8,131.8 168.4,132.6 169.1,133.4 169.8,134.2 170.5,135.1 171.2,136.0 171.8,136.9 172.4,137.9 172.9,138.9 173.4,139.9 173.8,141.0 174.2,142.1 174.5,143.2 174.8,144.3 175.0,145.5 175.1,146.7 175.1,147.9 174.9,149.0 174.7,150.2 174.4,151.4 174.0,152.5 173.6,153.6 173.1,154.7 172.6,155.8 172.1,156.8 171.4,157.8 170.8,158.8 170.0,159.7 169.2,160.6 168.4,161.4 167.6,162.3 166.7,163.1 165.9,163.9 164.9,164.6 163.9,165.3 162.9,165.9 161.8,166.5 160.7,166.9 159.5,167.1 158.3,167.3 157.2,167.4 156.0,167.5 154.8,167.6 153.7,167.7 152.5,167.7 151.3,167.7 150.2,167.6 149.0,167.4 147.9,167.3 146.7,167.2 145.5,167.0 144.4,166.7 143.2,166.4 142.1,166.0 141.0,165.5 139.9,164.9 138.9,164.2 138.0,163.5 137.0,162.7 136.2,161.8 135.5,160.8 134.9,159.8 134.4,158.6 134.0,157.5 133.7,156.3 133.5,155.2 133.3,154.1 133.1,152.9 133.0,151.8 132.7,150.8 132.3,149.8 132.0,148.7 131.7,147.7 131.5,146.6" fill="rgb(33,33,33)"/>
<polygon points="132.4,145.5 132.3,144.4 132.2,143.4 132.1,142.3 131.9,141.1 131.7,139.9 131.4,138.7 131.3,137.4 131.2,136.0 131.3,134.7 131.4,133.3 131.5,131.9 131.7,130.4 131.9,128.9 132.3,127.3 132.7,125.7 133.4,124.3 134.4,123.1 135.5,122.1 136.8,121.3 138.2,120.8 139.8,120.5 141.3,120.3 142.8,120.2 144.3,120.2 145.7,120.2 147.1,120.1 148.5,120.0 149.8,119.9 151.2,119.9 152.5,120.3 153.8,121.0 155.0,121.9 156.1,122.8 157.2,123.6 158.2,124.4 159.1,125.2 160.0,126.1 160.8,126.9 161.6,127.7 162.4,128.3 163.2,129.0 164.0,129.7 164.7,130.4 165.4,131.1 166.1,131.9 166.7,132.7 167.3,133.5 168.0,134.3 168.7,135.0 169.4,135.8 170.0,136.6 170.6,137.4 171.2,138.3 171.8,139.2 172.2,140.2 172.7,141.2 173.1,142.2 173.4,143.3 173.7,144.4 174.0,145.5 174.1,146.6 174.1,147.8 173.9,148.9 173.7,150.0 173.4,151.1 173.0,152.2 172.6,153.2 172.2,154.3 171.6,155.3 171.1,156.2 170.4,157.2 169.8,158.0 169.1,158.9 168.3,159.7 167.5,160.5 166.8,161.3 166.0,162.1 165.2,162.9 164.3,163.6 163.4,164.3 162.4,165.0 161.4,165.5 160.3,165.9 159.2,166.1 158.1,166.2 156.9,166.3 155.8,166.4 154.7,166.5 153.6,166.6 152.5,166.6 151.4,166.6 150.3,166.5 149.2,166.4 148.1,166.3 147.0,166.1 145.8,166.0 144.7,165.7 143.6,165.4 142.5,165.1 141.5,164.6 140.4,164.1 139.5,163.4 138.6,162.7 137.7,162.0 136.9,161.1 136.2,160.2 135.6,159.1 135.2,158.0 134.9,156.9 134.6,155.8 134.4,154.7 134.3,153.6 134.2,152.5 134.1,151.5 133.8,150.5 133.4,149.6 133.1,148.6 132.8,147.6 132.6,146.5" fill="none" stroke="#fff" stroke-width="1.15"/>
<polygon points="132.4,145.5 132.3,144.4 132.2,143.4 132.1,142.3 131.9,141.1 131.7,139.9 131.4,138.7 131.3,137.4 131.2,136.0 131.3,134.7 131.4,133.3 131.5,131.9 131.7,130.4 131.9,128.9 132.3,127.3 132.7,125.7 133.4,124.3 134.4,123.1 135.5,122.1 136.8,121.3 138.2,120.8 139.8,120.5 141.3,120.3 142.8,120.2 144.3,120.2 145.7,120.2 147.1,120.1 148.5,120.0 149.8,119.9 151.2,119.9 152.5,120.3 153.8,121.0 155.0,121.9 156.1,122.8 157.2,123.6 158.2,124.4 159.1,125.2 160.0,126.1 160.8,126.9 161.6,127.7 162.4,128.3 163.2,129.0 164.0,129.7 164.7,130.4 165.4,131.1 166.1,131.9 166.7,132.7 167.3,133.5 168.0,134.3 168.7,135.0 169.4,135.8 170.0,136.6 170.6,137.4 171.2,138.3 171.8,139.2 172.2,140.2 172.7,141.2 173.1,142.2 173.4,143.3 173.7,144.4 174.0,145.5 174.1,146.6 174.1,147.8 173.9,148.9 173.7,150.0 173.4,151.1 173.0,152.2 172.6,153.2 172.2,154.3 171.6,155.3 171.1,156.2 170.4,157.2 169.8,158.0 169.1,158.9 168.3,159.7 167.5,160.5 166.8,161.3 166.0,162.1 165.2,162.9 164.3,163.6 163.4,164.3 162.4,165.0 161.4,165.5 160.3,165.9 159.2,166.1 158.1,166.2 156.9,166.3 155.8,166.4 154.7,166.5 153.6,166.6 152.5,166.6 151.4,166.6 150.3,166.5 149.2,166.4 148.1,166.3 147.0,166.1 145.8,166.0 144.7,165.7 143.6,165.4 142.5,165.1 141.5,164.6 140.4,164.1 139.5,163.4 138.6,162.7 137.7,162.0 136.9,161.1 136.2,160.2 135.6,159.1 135.2,158.0 134.9,156.9 134.6,155.8 134.4,154.7 134.3,153.6 134.2,152.5 134.1,151.5 133.8,150.5 133.4,149.6 133.1,148.6 132.8,147.6 132.6,146.5" fill="rgb(228,228,228)"/>
<polygon points="132.9,145.5 132.8,144.5 132.8,143.4 132.7,142.4 132.6,141.3 132.4,140.1 132.2,138.9 132.1,137.7 132.1,136.4 132.2,135.1 132.3,133.9 132.5,132.5 132.7,131.1 133.0,129.7 133.4,128.3 133.9,126.9 134.5,125.6 135.4,124.4 136.5,123.5 137.7,122.7 139.0,122.2 140.4,121.8 141.9,121.6 143.3,121.5 144.7,121.5 146.1,121.5 147.4,121.5 148.7,121.4 150.0,121.3 151.2,121.4 152.5,121.8 153.7,122.4 154.8,123.2 155.9,124.0 156.9,124.8 157.8,125.6 158.7,126.3 159.6,127.1 160.3,127.9 161.1,128.6 161.9,129.2 162.7,129.8 163.4,130.5 164.1,131.2 164.8,131.9 165.4,132.6 166.0,133.4 166.6,134.1 167.2,134.8 167.9,135.5 168.5,136.3 169.1,137.0 169.7,137.8 170.2,138.7 170.7,139.6 171.2,140.5 171.6,141.4 172.0,142.4 172.3,143.4 172.5,144.5 172.7,145.5 172.9,146.6 172.9,147.6 172.7,148.7 172.5,149.7 172.2,150.8 171.8,151.8 171.5,152.8 171.0,153.7 170.5,154.7 170.0,155.6 169.5,156.5 168.8,157.4 168.2,158.2 167.5,159.0 166.8,159.8 166.0,160.5 165.3,161.3 164.5,162.1 163.7,162.8 162.9,163.4 162.0,164.1 161.0,164.6 160.0,165.0 158.9,165.2 157.8,165.4 156.7,165.5 155.7,165.5 154.6,165.6 153.6,165.7 152.5,165.7 151.4,165.7 150.4,165.6 149.3,165.4 148.3,165.3 147.2,165.2 146.2,165.0 145.1,164.7 144.1,164.4 143.0,164.1 142.0,163.6 141.1,163.1 140.2,162.5 139.3,161.8 138.4,161.1 137.6,160.4 136.9,159.5 136.4,158.5 135.9,157.5 135.6,156.5 135.2,155.5 135.0,154.4 134.8,153.4 134.6,152.4 134.5,151.3 134.2,150.4 133.9,149.5 133.5,148.5 133.3,147.5 133.1,146.5" fill="rgb(186,186,186)"/>
<polygon points="133.5,145.5 133.4,144.5 133.3,143.5 133.3,142.5 133.2,141.4 133.1,140.3 133.0,139.2 132.9,138.0 133.0,136.8 133.1,135.6 133.3,134.4 133.5,133.2 133.8,131.9 134.1,130.6 134.5,129.3 135.0,128.0 135.7,126.8 136.5,125.7 137.5,124.8 138.6,124.1 139.8,123.5 141.1,123.2 142.4,122.9 143.8,122.8 145.1,122.7 146.4,122.8 147.7,122.8 148.9,122.8 150.1,122.8 151.3,122.9 152.5,123.3 153.6,123.9 154.7,124.6 155.7,125.3 156.6,126.0 157.5,126.7 158.4,127.4 159.2,128.1 159.9,128.8 160.7,129.5 161.4,130.1 162.1,130.7 162.8,131.3 163.5,131.9 164.1,132.6 164.7,133.3 165.3,134.0 165.8,134.7 166.4,135.4 167.1,136.1 167.7,136.8 168.2,137.5 168.7,138.3 169.2,139.1 169.7,139.9 170.1,140.8 170.5,141.7 170.8,142.6 171.1,143.5 171.3,144.5 171.5,145.5 171.6,146.5 171.6,147.5 171.5,148.5 171.3,149.5 171.0,150.5 170.6,151.4 170.3,152.3 169.9,153.2 169.5,154.1 169.0,155.0 168.5,155.9 167.9,156.7 167.3,157.5 166.7,158.3 166.0,159.0 165.3,159.7 164.6,160.5 163.9,161.2 163.1,161.9 162.3,162.5 161.5,163.1 160.6,163.7 159.6,164.1 158.6,164.3 157.6,164.5 156.6,164.7 155.5,164.7 154.5,164.8 153.5,164.8 152.5,164.8 151.5,164.7 150.5,164.6 149.5,164.5 148.5,164.3 147.5,164.2 146.5,164.0 145.5,163.7 144.5,163.4 143.5,163.1 142.6,162.7 141.7,162.1 140.8,161.5 140.0,160.9 139.2,160.3 138.4,159.6 137.7,158.8 137.1,158.0 136.6,157.0 136.2,156.1 135.8,155.1 135.5,154.2 135.2,153.2 135.1,152.2 134.9,151.2 134.6,150.3 134.3,149.4 134.0,148.4 133.8,147.5 133.6,146.5" fill="rgb(152,152,152)"/>
<polygon points="134.0,145.5 133.9,144.5 133.9,143.5 133.9,142.6 133.8,141.5 133.8,140.5 133.7,139.4 133.8,138.3 133.9,137.2 134.0,136.1 134.2,135.0 134.5,133.8 134.8,132.7 135.2,131.5 135.6,130.3 136.1,129.1 136.8,128.0 137.6,127.1 138.5,126.2 139.5,125.5 140.6,124.9 141.8,124.5 143.0,124.2 144.3,124.0 145.5,124.0 146.8,124.1 148.0,124.2 149.1,124.2 150.3,124.3 151.4,124.4 152.5,124.8 153.6,125.3 154.6,125.9 155.5,126.6 156.4,127.2 157.2,127.9 158.0,128.5 158.8,129.1 159.5,129.8 160.2,130.4 160.9,130.9 161.6,131.5 162.2,132.1 162.8,132.7 163.5,133.3 164.0,134.0 164.6,134.6 165.1,135.3 165.7,135.9 166.2,136.6 166.8,137.2 167.3,138.0 167.8,138.7 168.3,139.5 168.7,140.2 169.0,141.1 169.4,141.9 169.7,142.8 169.9,143.7 170.1,144.6 170.3,145.5 170.4,146.4 170.4,147.4 170.2,148.3 170.0,149.2 169.8,150.1 169.4,151.0 169.1,151.9 168.7,152.7 168.4,153.6 168.0,154.4 167.5,155.2 167.0,156.0 166.4,156.8 165.8,157.5 165.2,158.2 164.6,158.9 164.0,159.7 163.3,160.3 162.6,161.0 161.8,161.6 161.0,162.2 160.2,162.7 159.3,163.2 158.3,163.5 157.4,163.7 156.4,163.8 155.4,163.9 154.4,163.9 153.5,164.0 152.5,163.9 151.5,163.8 150.6,163.7 149.6,163.5 148.7,163.4 147.8,163.2 146.8,163.0 145.9,162.7 145.0,162.4 144.0,162.1 143.2,161.7 142.3,161.2 141.5,160.6 140.7,160.0 139.9,159.5 139.2,158.8 138.5,158.1 137.9,157.4 137.3,156.5 136.9,155.7 136.4,154.8 136.0,153.9 135.7,153.0 135.5,152.0 135.3,151.1 135.0,150.2 134.8,149.3 134.5,148.4 134.3,147.4 134.1,146.5" fill="rgb(121,121,121)"/>
<polygon points="134.5,145.5 134.5,144.6 134.5,143.6 134.5,142.6 134.5,141.7 134.5,140.7 134.5,139.7 134.6,138.6 134.7,137.6 134.9,136.6 135.2,135.5 135.5,134.5 135.9,133.4 136.3,132.3 136.7,131.3 137.2,130.2 137.9,129.3 138.6,128.4 139.5,127.6 140.4,126.8 141.4,126.3 142.5,125.8 143.6,125.5 144.8,125.3 145.9,125.3 147.1,125.4 148.3,125.5 149.4,125.6 150.4,125.7 151.5,125.9 152.5,126.3 153.5,126.7 154.4,127.3 155.3,127.9 156.1,128.5 156.9,129.0 157.7,129.6 158.4,130.1 159.1,130.7 159.7,131.3 160.4,131.8 161.0,132.4 161.6,132.9 162.2,133.5 162.8,134.1 163.3,134.7 163.9,135.3 164.4,135.9 164.9,136.5 165.4,137.1 165.9,137.7 166.4,138.4 166.9,139.1 167.3,139.8 167.6,140.6 168.0,141.4 168.3,142.1 168.5,143.0 168.8,143.8 168.9,144.6 169.1,145.5 169.1,146.4 169.1,147.2 169.0,148.1 168.8,149.0 168.5,149.8 168.3,150.6 167.9,151.4 167.6,152.2 167.3,153.0 166.9,153.8 166.5,154.6 166.1,155.3 165.6,156.1 165.0,156.8 164.5,157.5 163.9,158.2 163.3,158.8 162.7,159.5 162.0,160.1 161.3,160.7 160.6,161.3 159.8,161.8 158.9,162.2 158.1,162.6 157.1,162.9 156.2,163.0 155.3,163.1 154.3,163.1 153.4,163.1 152.5,163.0 151.6,162.9 150.7,162.7 149.8,162.6 148.9,162.4 148.0,162.2 147.1,162.0 146.3,161.7 145.4,161.4 144.6,161.1 143.7,160.7 142.9,160.2 142.2,159.7 141.4,159.2 140.7,158.6 139.9,158.1 139.2,157.5 138.6,156.8 138.0,156.0 137.5,155.2 137.0,154.4 136.6,153.6 136.2,152.8 136.0,151.9 135.7,150.9 135.5,150.1 135.2,149.2 135.0,148.3 134.8,147.4 134.6,146.4" fill="rgb(92,92,92)"/>
<polygon points="135.1,145.5 135.0,144.6 135.0,143.7 135.1,142.7 135.1,141.8 135.2,140.9 135.3,139.9 135.4,138.9 135.6,138.0 135.9,137.0 136.2,136.1 136.5,135.1 136.9,134.2 137.3,133.2 137.8,132.3 138.4,131.4 139.0,130.5 139.7,129.7 140.5,128.9 141.3,128.2 142.2,127.7 143.2,127.2 144.2,126.8 145.2,126.6 146.4,126.6 147.5,126.7 148.5,126.9 149.6,127.0 150.6,127.2 151.6,127.5 152.5,127.8 153.4,128.2 154.3,128.6 155.1,129.2 155.9,129.7 156.6,130.2 157.3,130.7 158.0,131.2 158.7,131.7 159.3,132.2 159.9,132.7 160.5,133.2 161.0,133.7 161.6,134.3 162.1,134.8 162.7,135.3 163.2,135.9 163.7,136.5 164.1,137.0 164.6,137.6 165.1,138.2 165.5,138.9 165.9,139.5 166.3,140.2 166.6,140.9 166.9,141.6 167.2,142.4 167.4,143.1 167.6,143.9 167.7,144.7 167.9,145.5 167.9,146.3 167.9,147.1 167.8,147.9 167.6,148.7 167.3,149.5 167.1,150.2 166.8,151.0 166.5,151.7 166.2,152.5 165.9,153.2 165.5,154.0 165.1,154.7 164.7,155.4 164.2,156.0 163.7,156.7 163.2,157.4 162.6,158.0 162.0,158.6 161.4,159.2 160.8,159.8 160.1,160.4 159.4,160.9 158.6,161.3 157.8,161.7 156.9,162.0 156.0,162.2 155.2,162.3 154.3,162.2 153.4,162.2 152.5,162.1 151.6,162.0 150.8,161.8 149.9,161.6 149.1,161.4 148.3,161.2 147.5,161.0 146.6,160.7 145.8,160.4 145.1,160.1 144.3,159.7 143.6,159.3 142.9,158.8 142.2,158.3 141.4,157.8 140.7,157.3 140.0,156.8 139.3,156.2 138.7,155.5 138.2,154.8 137.6,154.1 137.1,153.3 136.7,152.5 136.4,151.7 136.1,150.8 135.9,149.9 135.7,149.1 135.5,148.2 135.3,147.3 135.2,146.4" fill="rgb(64,64,64)"/>
<polygon points="135.6,145.5 135.6,144.6 135.6,143.7 135.7,142.8 135.8,141.9 135.9,141.0 136.0,140.1 136.2,139.3 136.5,138.4 136.8,137.5 137.1,136.6 137.5,135.8 137.9,134.9 138.4,134.1 138.9,133.3 139.5,132.5 140.1,131.7 140.8,131.0 141.4,130.3 142.2,129.6 143.0,129.0 143.8,128.5 144.7,128.1 145.7,127.9 146.8,127.9 147.8,128.1 148.8,128.2 149.8,128.4 150.7,128.7 151.6,129.0 152.5,129.3 153.3,129.6 154.1,130.0 154.9,130.4 155.6,130.9 156.3,131.3 157.0,131.7 157.6,132.2 158.2,132.6 158.8,133.1 159.4,133.6 159.9,134.1 160.4,134.6 161.0,135.1 161.5,135.5 162.0,136.0 162.5,136.5 162.9,137.1 163.4,137.6 163.8,138.1 164.2,138.7 164.6,139.3 165.0,140.0 165.3,140.6 165.6,141.3 165.8,141.9 166.1,142.6 166.3,143.3 166.4,144.0 166.5,144.8 166.6,145.5 166.7,146.2 166.6,147.0 166.5,147.7 166.4,148.4 166.1,149.2 165.9,149.8 165.6,150.5 165.3,151.2 165.1,151.9 164.8,152.6 164.5,153.3 164.2,154.0 163.8,154.7 163.4,155.3 162.9,155.9 162.5,156.6 161.9,157.2 161.4,157.8 160.9,158.4 160.3,158.9 159.6,159.5 158.9,160.0 158.2,160.4 157.5,160.8 156.7,161.2 155.9,161.4 155.0,161.4 154.2,161.4 153.3,161.3 152.5,161.2 151.7,161.1 150.9,160.9 150.1,160.6 149.3,160.4 148.6,160.2 147.8,160.0 147.0,159.7 146.3,159.4 145.6,159.1 144.9,158.7 144.2,158.3 143.5,157.8 142.9,157.4 142.2,157.0 141.4,156.6 140.7,156.1 140.1,155.6 139.4,155.0 138.8,154.4 138.2,153.7 137.7,153.1 137.2,152.3 136.8,151.5 136.6,150.7 136.3,149.8 136.1,149.0 135.9,148.1 135.8,147.3 135.7,146.4" fill="rgb(36,36,36)"/>
<polygon points="136.2,145.5 136.1,144.6 136.2,143.8 136.3,142.9 136.4,142.1 136.6,141.2 136.8,140.4 137.1,139.6 137.4,138.8 137.7,138.0 138.1,137.2 138.5,136.4 139.0,135.7 139.5,135.0 140.0,134.3 140.6,133.6 141.2,133.0 141.8,132.3 142.4,131.7 143.1,131.0 143.8,130.4 144.5,129.8 145.3,129.4 146.2,129.2 147.2,129.2 148.2,129.4 149.1,129.6 150.0,129.8 150.9,130.2 151.7,130.5 152.5,130.8 153.3,131.1 154.0,131.4 154.7,131.7 155.4,132.1 156.0,132.5 156.6,132.8 157.2,133.2 157.8,133.6 158.4,134.0 158.9,134.4 159.4,134.9 159.9,135.4 160.3,135.8 160.8,136.3 161.3,136.7 161.8,137.2 162.2,137.6 162.6,138.1 163.0,138.7 163.4,139.2 163.7,139.8 164.0,140.4 164.3,141.0 164.5,141.6 164.8,142.2 165.0,142.8 165.1,143.5 165.3,144.2 165.4,144.8 165.4,145.5 165.4,146.2 165.4,146.9 165.3,147.5 165.1,148.2 164.9,148.8 164.7,149.5 164.4,150.1 164.2,150.7 164.0,151.4 163.8,152.0 163.5,152.7 163.3,153.3 162.9,153.9 162.6,154.6 162.2,155.2 161.7,155.8 161.3,156.3 160.8,156.9 160.3,157.5 159.7,158.0 159.2,158.6 158.5,159.1 157.9,159.5 157.2,160.0 156.5,160.3 155.7,160.6 154.9,160.6 154.1,160.6 153.3,160.5 152.5,160.3 151.7,160.1 151.0,159.9 150.3,159.7 149.5,159.5 148.8,159.2 148.1,159.0 147.4,158.7 146.7,158.4 146.1,158.1 145.4,157.7 144.8,157.3 144.2,156.9 143.6,156.5 142.9,156.1 142.2,155.8 141.5,155.4 140.8,155.0 140.1,154.5 139.5,154.0 138.8,153.4 138.2,152.8 137.7,152.1 137.3,151.4 137.0,150.5 136.7,149.7 136.5,148.9 136.4,148.0 136.3,147.2 136.2,146.4" fill="none" stroke="#fff" stroke-width="1.15"/>
<polygon points="136.2,145.5 136.1,144.6 136.2,143.8 136.3,142.9 136.4,142.1 136.6,141.2 136.8,140.4 137.1,139.6 137.4,138.8 137.7,138.0 138.1,137.2 138.5,136.4 139.0,135.7 139.5,135.0 140.0,134.3 140.6,133.6 141.2,133.0 141.8,132.3 142.4,131.7 143.1,131.0 143.8,130.4 144.5,129.8 145.3,129.4 146.2,129.2 147.2,129.2 148.2,129.4 149.1,129.6 150.0,129.8 150.9,130.2 151.7,130.5 152.5,130.8 153.3,131.1 154.0,131.4 154.7,131.7 155.4,132.1 156.0,132.5 156.6,132.8 157.2,133.2 157.8,133.6 158.4,134.0 158.9,134.4 159.4,134.9 159.9,135.4 160.3,135.8 160.8,136.3 161.3,136.7 161.8,137.2 162.2,137.6 162.6,138.1 163.0,138.7 163.4,139.2 163.7,139.8 164.0,140.4 164.3,141.0 164.5,141.6 164.8,142.2 165.0,142.8 165.1,143.5 165.3,144.2 165.4,144.8 165.4,145.5 165.4,146.2 165.4,146.9 165.3,147.5 165.1,148.2 164.9,148.8 164.7,149.5 164.4,150.1 164.2,150.7 164.0,151.4 163.8,152.0 163.5,152.7 163.3,153.3 162.9,153.9 162.6,154.6 162.2,155.2 161.7,155.8 161.3,156.3 160.8,156.9 160.3,157.5 159.7,158.0 159.2,158.6 158.5,159.1 157.9,159.5 157.2,160.0 156.5,160.3 155.7,160.6 154.9,160.6 154.1,160.6 153.3,160.5 152.5,160.3 151.7,160.1 151.0,159.9 150.3,159.7 149.5,159.5 148.8,159.2 148.1,159.0 147.4,158.7 146.7,158.4 146.1,158.1 145.4,157.7 144.8,157.3 144.2,156.9 143.6,156.5 142.9,156.1 142.2,155.8 141.5,155.4 140.8,155.0 140.1,154.5 139.5,154.0 138.8,153.4 138.2,152.8 137.7,152.1 137.3,151.4 137.0,150.5 136.7,149.7 136.5,148.9 136.4,148.0 136.3,147.2 136.2,146.4" fill="rgb(200,200,200)"/>
<polygon points="138.0,145.5 138.0,144.7 138.0,144.0 138.1,143.2 138.2,142.5 138.3,141.7 138.5,141.0 138.8,140.2 139.0,139.5 139.3,138.8 139.7,138.1 140.1,137.4 140.5,136.8 140.9,136.1 141.4,135.5 141.9,134.9 142.5,134.4 143.0,133.8 143.6,133.2 144.1,132.6 144.8,132.1 145.4,131.6 146.1,131.2 146.9,131.0 147.8,131.0 148.7,131.2 149.5,131.4 150.3,131.6 151.1,131.9 151.8,132.1 152.5,132.4 153.2,132.7 153.8,132.9 154.4,133.2 155.0,133.6 155.6,133.9 156.2,134.2 156.7,134.6 157.2,134.9 157.7,135.3 158.2,135.7 158.6,136.1 159.0,136.5 159.4,136.9 159.9,137.3 160.3,137.7 160.7,138.1 161.1,138.5 161.5,139.0 161.8,139.4 162.2,139.9 162.5,140.4 162.7,140.9 163.0,141.5 163.2,142.0 163.4,142.6 163.6,143.1 163.7,143.7 163.8,144.3 163.9,144.9 164.0,145.5 164.0,146.1 164.0,146.7 163.9,147.3 163.7,147.9 163.5,148.5 163.3,149.0 163.1,149.6 162.9,150.1 162.7,150.7 162.5,151.3 162.3,151.9 162.1,152.4 161.8,153.0 161.5,153.6 161.1,154.1 160.7,154.6 160.3,155.1 159.9,155.6 159.4,156.2 158.9,156.6 158.4,157.1 157.9,157.5 157.3,158.0 156.7,158.3 156.0,158.7 155.3,158.9 154.6,158.9 153.9,158.9 153.2,158.8 152.5,158.7 151.8,158.5 151.2,158.3 150.5,158.1 149.9,157.9 149.2,157.7 148.6,157.5 148.0,157.3 147.4,157.0 146.8,156.7 146.2,156.4 145.7,156.0 145.1,155.6 144.6,155.3 144.0,155.0 143.4,154.6 142.7,154.3 142.1,153.9 141.5,153.5 140.9,153.0 140.3,152.5 139.8,152.0 139.3,151.4 139.0,150.7 138.7,150.0 138.5,149.3 138.3,148.5 138.2,147.8 138.1,147.0 138.0,146.3" fill="rgb(136,136,136)"/>
<polygon points="139.8,145.5 139.8,144.8 139.8,144.2 139.9,143.5 140.0,142.8 140.1,142.2 140.3,141.5 140.5,140.9 140.7,140.3 141.0,139.6 141.3,139.0 141.6,138.4 142.0,137.9 142.4,137.3 142.8,136.8 143.2,136.2 143.7,135.7 144.2,135.2 144.7,134.7 145.2,134.2 145.7,133.8 146.3,133.3 146.9,133.0 147.6,132.8 148.4,132.8 149.1,133.0 149.9,133.1 150.6,133.3 151.2,133.6 151.9,133.8 152.5,134.0 153.1,134.3 153.7,134.5 154.2,134.8 154.7,135.1 155.2,135.4 155.7,135.6 156.2,135.9 156.6,136.2 157.1,136.6 157.5,136.9 157.9,137.3 158.2,137.6 158.6,138.0 159.0,138.3 159.3,138.7 159.7,139.0 160.0,139.4 160.4,139.8 160.7,140.2 161.0,140.6 161.2,141.1 161.5,141.5 161.7,142.0 161.9,142.5 162.0,142.9 162.2,143.4 162.3,143.9 162.4,144.5 162.5,145.0 162.5,145.5 162.6,146.0 162.5,146.6 162.5,147.1 162.3,147.6 162.2,148.1 162.0,148.6 161.8,149.1 161.6,149.6 161.5,150.1 161.3,150.6 161.1,151.1 160.9,151.6 160.6,152.1 160.3,152.6 160.0,153.0 159.7,153.5 159.3,153.9 158.9,154.4 158.6,154.8 158.1,155.2 157.7,155.7 157.2,156.0 156.7,156.4 156.2,156.7 155.6,157.0 155.0,157.2 154.4,157.2 153.7,157.2 153.1,157.1 152.5,157.0 151.9,156.9 151.3,156.7 150.8,156.5 150.2,156.4 149.6,156.2 149.1,156.0 148.5,155.8 148.0,155.6 147.5,155.3 147.0,155.0 146.5,154.7 146.1,154.4 145.6,154.0 145.1,153.8 144.5,153.5 143.9,153.2 143.4,152.9 142.9,152.5 142.4,152.1 141.9,151.6 141.4,151.2 141.0,150.6 140.6,150.1 140.4,149.4 140.2,148.8 140.1,148.1 140.0,147.5 139.9,146.8 139.8,146.2" fill="rgb(110,110,110)"/>
<polygon points="141.6,145.5 141.6,144.9 141.6,144.4 141.7,143.8 141.8,143.2 141.9,142.7 142.0,142.1 142.2,141.5 142.4,141.0 142.6,140.5 142.9,140.0 143.2,139.4 143.5,138.9 143.8,138.5 144.2,138.0 144.6,137.6 145.0,137.1 145.4,136.7 145.8,136.3 146.2,135.8 146.7,135.4 147.2,135.1 147.7,134.8 148.3,134.6 149.0,134.6 149.6,134.7 150.2,134.9 150.8,135.1 151.4,135.3 152.0,135.5 152.5,135.7 153.0,135.9 153.5,136.1 154.0,136.3 154.4,136.6 154.8,136.8 155.2,137.0 155.7,137.3 156.0,137.6 156.4,137.8 156.8,138.1 157.1,138.4 157.4,138.8 157.7,139.1 158.0,139.4 158.4,139.6 158.7,139.9 159.0,140.3 159.2,140.6 159.5,140.9 159.7,141.3 160.0,141.7 160.2,142.1 160.4,142.5 160.5,142.9 160.7,143.3 160.8,143.7 160.9,144.2 161.0,144.6 161.1,145.1 161.1,145.5 161.1,146.0 161.1,146.4 161.0,146.9 160.9,147.3 160.8,147.7 160.6,148.1 160.4,148.5 160.3,149.0 160.2,149.4 160.0,149.8 159.9,150.3 159.7,150.7 159.5,151.1 159.2,151.5 158.9,151.9 158.7,152.3 158.3,152.7 158.0,153.1 157.7,153.5 157.3,153.9 156.9,154.2 156.5,154.5 156.1,154.8 155.6,155.1 155.1,155.4 154.6,155.5 154.1,155.6 153.6,155.5 153.0,155.5 152.5,155.4 152.0,155.3 151.5,155.1 151.0,155.0 150.5,154.8 150.0,154.7 149.6,154.5 149.1,154.3 148.7,154.1 148.2,153.9 147.8,153.7 147.4,153.4 147.0,153.1 146.6,152.8 146.1,152.6 145.6,152.4 145.2,152.1 144.7,151.8 144.2,151.5 143.8,151.1 143.4,150.8 143.0,150.4 142.6,149.9 142.3,149.4 142.1,148.9 142.0,148.3 141.9,147.8 141.8,147.2 141.7,146.6 141.6,146.1" fill="rgb(90,90,90)"/>
<polygon points="143.4,145.5 143.4,145.0 143.4,144.5 143.5,144.1 143.6,143.6 143.7,143.1 143.8,142.7 143.9,142.2 144.1,141.8 144.3,141.3 144.5,140.9 144.7,140.5 145.0,140.0 145.3,139.6 145.6,139.3 145.9,138.9 146.2,138.5 146.6,138.2 146.9,137.8 147.3,137.5 147.7,137.1 148.1,136.8 148.5,136.5 149.0,136.4 149.6,136.5 150.1,136.5 150.6,136.7 151.1,136.8 151.6,137.0 152.1,137.2 152.5,137.3 152.9,137.5 153.3,137.6 153.7,137.8 154.1,138.0 154.4,138.3 154.8,138.5 155.1,138.7 155.4,138.9 155.8,139.1 156.0,139.4 156.3,139.6 156.6,139.9 156.8,140.1 157.1,140.4 157.4,140.6 157.6,140.9 157.9,141.1 158.1,141.4 158.3,141.7 158.5,142.0 158.7,142.3 158.9,142.7 159.1,143.0 159.2,143.3 159.3,143.7 159.4,144.0 159.5,144.4 159.6,144.8 159.6,145.1 159.7,145.5 159.7,145.9 159.7,146.3 159.6,146.6 159.5,147.0 159.4,147.3 159.3,147.7 159.1,148.0 159.0,148.4 158.9,148.8 158.8,149.1 158.6,149.5 158.5,149.8 158.3,150.2 158.1,150.5 157.9,150.9 157.6,151.2 157.4,151.5 157.1,151.8 156.8,152.2 156.5,152.5 156.2,152.8 155.9,153.0 155.5,153.3 155.1,153.5 154.7,153.7 154.3,153.9 153.8,153.9 153.4,153.9 152.9,153.8 152.5,153.7 152.1,153.6 151.7,153.5 151.3,153.4 150.9,153.3 150.5,153.1 150.1,153.0 149.7,152.9 149.3,152.7 148.9,152.5 148.6,152.3 148.2,152.1 147.9,151.8 147.6,151.6 147.2,151.4 146.8,151.2 146.4,151.0 146.0,150.8 145.6,150.5 145.3,150.2 144.9,149.9 144.6,149.5 144.3,149.2 144.0,148.8 143.9,148.3 143.7,147.8 143.6,147.4 143.6,146.9 143.5,146.4 143.4,146.0" fill="rgb(73,73,73)"/>
<polygon points="145.2,145.5 145.2,145.1 145.2,144.7 145.3,144.4 145.3,144.0 145.4,143.6 145.5,143.2 145.6,142.9 145.8,142.5 145.9,142.1 146.1,141.8 146.3,141.5 146.5,141.1 146.7,140.8 147.0,140.5 147.2,140.2 147.5,139.9 147.8,139.6 148.0,139.3 148.3,139.1 148.6,138.8 149.0,138.5 149.3,138.3 149.7,138.2 150.1,138.3 150.6,138.3 151.0,138.4 151.4,138.5 151.8,138.7 152.2,138.8 152.5,139.0 152.8,139.1 153.2,139.2 153.5,139.4 153.8,139.5 154.1,139.7 154.3,139.9 154.6,140.0 154.9,140.2 155.1,140.4 155.3,140.6 155.6,140.8 155.8,141.0 156.0,141.2 156.2,141.4 156.4,141.6 156.6,141.8 156.8,142.0 157.0,142.2 157.2,142.5 157.3,142.7 157.5,143.0 157.6,143.2 157.7,143.5 157.9,143.8 158.0,144.0 158.0,144.3 158.1,144.6 158.2,144.9 158.2,145.2 158.2,145.5 158.2,145.8 158.2,146.1 158.2,146.4 158.1,146.7 158.0,147.0 157.9,147.3 157.8,147.5 157.7,147.8 157.6,148.1 157.5,148.4 157.4,148.7 157.3,149.0 157.1,149.3 157.0,149.5 156.8,149.8 156.6,150.1 156.4,150.3 156.2,150.6 156.0,150.8 155.7,151.1 155.5,151.3 155.2,151.5 154.9,151.7 154.6,151.9 154.3,152.1 153.9,152.2 153.6,152.2 153.2,152.2 152.8,152.1 152.5,152.1 152.2,152.0 151.8,151.9 151.5,151.8 151.2,151.7 150.9,151.6 150.5,151.5 150.2,151.4 149.9,151.3 149.6,151.1 149.4,150.9 149.1,150.8 148.8,150.6 148.5,150.4 148.2,150.2 147.9,150.1 147.6,149.9 147.3,149.7 147.0,149.5 146.7,149.3 146.4,149.0 146.1,148.7 145.9,148.4 145.7,148.1 145.6,147.7 145.5,147.4 145.4,147.0 145.3,146.6 145.3,146.3 145.3,145.9" fill="rgb(58,58,58)"/>
<polygon points="147.1,145.5 147.0,145.2 147.1,144.9 147.1,144.6 147.1,144.4 147.2,144.1 147.3,143.8 147.4,143.5 147.5,143.3 147.6,143.0 147.7,142.7 147.8,142.5 148.0,142.2 148.2,142.0 148.3,141.8 148.5,141.5 148.7,141.3 148.9,141.1 149.1,140.9 149.4,140.7 149.6,140.5 149.8,140.3 150.1,140.1 150.4,140.1 150.7,140.1 151.1,140.1 151.4,140.2 151.7,140.3 152.0,140.4 152.2,140.5 152.5,140.6 152.8,140.7 153.0,140.8 153.2,140.9 153.5,141.0 153.7,141.2 153.9,141.3 154.1,141.4 154.3,141.5 154.5,141.7 154.6,141.8 154.8,142.0 155.0,142.1 155.1,142.3 155.3,142.4 155.4,142.6 155.6,142.7 155.7,142.9 155.9,143.0 156.0,143.2 156.1,143.4 156.2,143.6 156.3,143.8 156.4,144.0 156.5,144.2 156.6,144.4 156.7,144.6 156.7,144.8 156.8,145.1 156.8,145.3 156.8,145.5 156.8,145.7 156.8,146.0 156.8,146.2 156.7,146.4 156.6,146.6 156.6,146.8 156.5,147.0 156.4,147.2 156.3,147.5 156.3,147.7 156.2,147.9 156.1,148.1 156.0,148.3 155.9,148.5 155.7,148.7 155.6,148.9 155.4,149.1 155.3,149.3 155.1,149.5 154.9,149.7 154.7,149.9 154.5,150.0 154.3,150.2 154.1,150.3 153.8,150.4 153.6,150.5 153.3,150.5 153.0,150.5 152.8,150.5 152.5,150.4 152.2,150.4 152.0,150.3 151.8,150.2 151.5,150.2 151.3,150.1 151.0,150.0 150.8,149.9 150.6,149.8 150.4,149.7 150.1,149.6 149.9,149.4 149.7,149.3 149.5,149.2 149.3,149.0 149.1,148.9 148.8,148.8 148.6,148.7 148.4,148.5 148.2,148.3 147.9,148.1 147.7,147.9 147.6,147.7 147.4,147.5 147.3,147.2 147.2,146.9 147.2,146.6 147.1,146.3 147.1,146.1 147.1,145.8" fill="rgb(44,44,44)"/>
<polygon points="148.9,145.5 148.9,145.3 148.9,145.1 148.9,144.9 148.9,144.7 149.0,144.6 149.0,144.4 149.1,144.2 149.1,144.0 149.2,143.8 149.3,143.7 149.4,143.5 149.5,143.3 149.6,143.2 149.7,143.0 149.9,142.9 150.0,142.7 150.1,142.6 150.3,142.4 150.4,142.3 150.6,142.1 150.7,142.0 150.9,141.9 151.1,141.9 151.3,141.9 151.5,141.9 151.7,142.0 151.9,142.0 152.1,142.1 152.3,142.2 152.5,142.2 152.7,142.3 152.8,142.4 153.0,142.4 153.1,142.5 153.3,142.6 153.4,142.7 153.6,142.8 153.7,142.9 153.8,142.9 153.9,143.0 154.0,143.1 154.1,143.3 154.2,143.4 154.3,143.5 154.5,143.5 154.6,143.6 154.7,143.8 154.7,143.9 154.8,144.0 154.9,144.1 155.0,144.2 155.1,144.4 155.1,144.5 155.2,144.6 155.2,144.8 155.3,144.9 155.3,145.1 155.3,145.2 155.4,145.4 155.4,145.5 155.4,145.7 155.4,145.8 155.3,146.0 155.3,146.1 155.3,146.2 155.2,146.4 155.1,146.5 155.1,146.7 155.1,146.8 155.0,146.9 155.0,147.1 154.9,147.2 154.8,147.4 154.7,147.5 154.6,147.6 154.6,147.8 154.4,147.9 154.3,148.0 154.2,148.2 154.1,148.3 154.0,148.4 153.8,148.5 153.7,148.6 153.5,148.7 153.4,148.8 153.2,148.8 153.0,148.9 152.9,148.8 152.7,148.8 152.5,148.8 152.3,148.8 152.2,148.7 152.0,148.7 151.8,148.6 151.7,148.6 151.5,148.5 151.4,148.4 151.2,148.4 151.1,148.3 150.9,148.2 150.8,148.1 150.7,148.0 150.5,147.9 150.4,147.9 150.2,147.8 150.1,147.7 149.9,147.6 149.7,147.5 149.6,147.4 149.5,147.3 149.3,147.1 149.2,147.0 149.1,146.8 149.0,146.6 149.0,146.4 149.0,146.3 148.9,146.1 148.9,145.9 148.9,145.7" fill="rgb(32,32,32)"/>
<polygon points="150.7,145.5 150.7,145.4 150.7,145.3 150.7,145.2 150.7,145.1 150.7,145.0 150.8,144.9 150.8,144.8 150.8,144.8 150.9,144.7 150.9,144.6 150.9,144.5 151.0,144.4 151.1,144.3 151.1,144.3 151.2,144.2 151.2,144.1 151.3,144.0 151.4,144.0 151.5,143.9 151.5,143.8 151.6,143.8 151.7,143.7 151.8,143.7 151.9,143.7 152.0,143.7 152.1,143.7 152.2,143.8 152.3,143.8 152.4,143.8 152.5,143.9 152.6,143.9 152.7,143.9 152.7,144.0 152.8,144.0 152.9,144.1 153.0,144.1 153.0,144.1 153.1,144.2 153.2,144.2 153.2,144.3 153.3,144.3 153.3,144.4 153.4,144.4 153.4,144.5 153.5,144.5 153.5,144.6 153.6,144.6 153.6,144.7 153.7,144.7 153.7,144.8 153.7,144.9 153.8,144.9 153.8,145.0 153.8,145.1 153.9,145.1 153.9,145.2 153.9,145.3 153.9,145.4 153.9,145.4 153.9,145.5 153.9,145.6 153.9,145.7 153.9,145.7 153.9,145.8 153.9,145.9 153.9,145.9 153.8,146.0 153.8,146.1 153.8,146.2 153.8,146.2 153.7,146.3 153.7,146.4 153.7,146.4 153.6,146.5 153.6,146.6 153.5,146.6 153.5,146.7 153.4,146.8 153.4,146.8 153.3,146.9 153.2,147.0 153.2,147.0 153.1,147.1 153.0,147.1 152.9,147.1 152.9,147.2 152.8,147.2 152.7,147.2 152.6,147.2 152.5,147.1 152.4,147.1 152.3,147.1 152.3,147.1 152.2,147.1 152.1,147.0 152.0,147.0 151.9,147.0 151.9,146.9 151.8,146.9 151.7,146.9 151.6,146.8 151.6,146.8 151.5,146.7 151.4,146.7 151.4,146.6 151.3,146.6 151.2,146.6 151.1,146.5 151.1,146.4 151.0,146.4 150.9,146.3 150.9,146.2 150.8,146.2 150.8,146.1 150.7,146.0 150.7,145.9 150.7,145.8 150.7,145.7 150.7,145.6" fill="rgb(20,20,20)"/>
<rect x="66" y="24.4" width="245" height="244" fill="none" stroke="#333" stroke-width="1"/>
<line x1="151.5" y1="24.4" x2="151.5" y2="268.4" stroke="#000" stroke-width="1.5" />
<line x1="66.0" y1="112.8" x2="311.0" y2="112.8" stroke="#000" stroke-width="1.5" />
<text x="70.5" y="37.3" font-size="9" font-weight="normal" text-anchor="start" fill="#222" >Q3</text>
<text x="70.5" y="51.8" font-size="9" font-weight="normal" text-anchor="start" fill="#222" >2.39</text>
<text x="305.5" y="37.3" font-size="9" font-weight="normal" text-anchor="end" fill="#222" >Q2</text>
<text x="305.5" y="51.8" font-size="9" font-weight="normal" text-anchor="end" fill="#222" >2.20</text>
<text x="70.5" y="249.3" font-size="9" font-weight="normal" text-anchor="start" fill="#222" >Q4</text>
<text x="70.5" y="263.5" font-size="9" font-weight="normal" text-anchor="start" fill="#222" >45.8</text>
<text x="305.5" y="249.3" font-size="9" font-weight="normal" text-anchor="end" fill="#222" >Q1</text>
<text x="305.5" y="263.5" font-size="9" font-weight="normal" text-anchor="end" fill="#222" >49.6</text>
<line x1="71.5" y1="268.5" x2="71.5" y2="274.5" stroke="#111" stroke-width="1.0" />
<line x1="115.8" y1="268.5" x2="115.8" y2="274.5" stroke="#111" stroke-width="1.0" />
<line x1="96.8" y1="268.5" x2="96.8" y2="271.7" stroke="#111" stroke-width="0.9" />
<line x1="89.8" y1="268.5" x2="89.8" y2="271.7" stroke="#111" stroke-width="0.9" />
<line x1="99.4" y1="268.5" x2="99.4" y2="271.7" stroke="#111" stroke-width="0.9" />
<line x1="87.2" y1="268.5" x2="87.2" y2="271.7" stroke="#111" stroke-width="0.9" />
<line x1="101.8" y1="268.5" x2="101.8" y2="271.7" stroke="#111" stroke-width="0.9" />
<line x1="84.9" y1="268.5" x2="84.9" y2="271.7" stroke="#111" stroke-width="0.9" />
<line x1="104.1" y1="268.5" x2="104.1" y2="271.7" stroke="#111" stroke-width="0.9" />
<line x1="82.8" y1="268.5" x2="82.8" y2="271.7" stroke="#111" stroke-width="0.9" />
<line x1="106.2" y1="268.5" x2="106.2" y2="271.7" stroke="#111" stroke-width="0.9" />
<line x1="80.7" y1="268.5" x2="80.7" y2="271.7" stroke="#111" stroke-width="0.9" />
<line x1="108.2" y1="268.5" x2="108.2" y2="271.7" stroke="#111" stroke-width="0.9" />
<line x1="78.8" y1="268.5" x2="78.8" y2="271.7" stroke="#111" stroke-width="0.9" />
<line x1="110.2" y1="268.5" x2="110.2" y2="271.7" stroke="#111" stroke-width="0.9" />
<line x1="76.9" y1="268.5" x2="76.9" y2="271.7" stroke="#111" stroke-width="0.9" />
<line x1="112.1" y1="268.5" x2="112.1" y2="271.7" stroke="#111" stroke-width="0.9" />
<line x1="75.0" y1="268.5" x2="75.0" y2="271.7" stroke="#111" stroke-width="0.9" />
<line x1="114.0" y1="268.5" x2="114.0" y2="271.7" stroke="#111" stroke-width="0.9" />
<line x1="73.3" y1="268.5" x2="73.3" y2="271.7" stroke="#111" stroke-width="0.9" />
<rect x="90.6" y="268.5" width="5.2" height="5.5" fill="#000"/>
<line x1="133.4" y1="268.5" x2="133.4" y2="271.7" stroke="#111" stroke-width="0.9" />
<line x1="143.8" y1="268.5" x2="143.8" y2="271.7" stroke="#111" stroke-width="0.9" />
<line x1="151.1" y1="268.5" x2="151.1" y2="271.7" stroke="#111" stroke-width="0.9" />
<line x1="156.8" y1="268.5" x2="156.8" y2="271.7" stroke="#111" stroke-width="0.9" />
<line x1="161.4" y1="268.5" x2="161.4" y2="271.7" stroke="#111" stroke-width="0.9" />
<line x1="165.3" y1="268.5" x2="165.3" y2="271.7" stroke="#111" stroke-width="0.9" />
<line x1="168.7" y1="268.5" x2="168.7" y2="271.7" stroke="#111" stroke-width="0.9" />
<line x1="171.7" y1="268.5" x2="171.7" y2="271.7" stroke="#111" stroke-width="0.9" />
<line x1="174.4" y1="268.5" x2="174.4" y2="274.5" stroke="#111" stroke-width="1.1" />
<line x1="191.5" y1="268.5" x2="191.5" y2="271.7" stroke="#111" stroke-width="0.9" />
<line x1="201.5" y1="268.5" x2="201.5" y2="271.7" stroke="#111" stroke-width="0.9" />
<line x1="208.6" y1="268.5" x2="208.6" y2="271.7" stroke="#111" stroke-width="0.9" />
<line x1="214.1" y1="268.5" x2="214.1" y2="271.7" stroke="#111" stroke-width="0.9" />
<line x1="218.6" y1="268.5" x2="218.6" y2="271.7" stroke="#111" stroke-width="0.9" />
<line x1="222.4" y1="268.5" x2="222.4" y2="271.7" stroke="#111" stroke-width="0.9" />
<line x1="225.7" y1="268.5" x2="225.7" y2="271.7" stroke="#111" stroke-width="0.9" />
<line x1="228.6" y1="268.5" x2="228.6" y2="271.7" stroke="#111" stroke-width="0.9" />
<line x1="231.2" y1="268.5" x2="231.2" y2="274.5" stroke="#111" stroke-width="1.1" />
<line x1="247.9" y1="268.5" x2="247.9" y2="271.7" stroke="#111" stroke-width="0.9" />
<line x1="257.7" y1="268.5" x2="257.7" y2="271.7" stroke="#111" stroke-width="0.9" />
<line x1="264.6" y1="268.5" x2="264.6" y2="271.7" stroke="#111" stroke-width="0.9" />
<line x1="270.0" y1="268.5" x2="270.0" y2="271.7" stroke="#111" stroke-width="0.9" />
<line x1="274.4" y1="268.5" x2="274.4" y2="271.7" stroke="#111" stroke-width="0.9" />
<line x1="278.1" y1="268.5" x2="278.1" y2="271.7" stroke="#111" stroke-width="0.9" />
<line x1="281.3" y1="268.5" x2="281.3" y2="271.7" stroke="#111" stroke-width="0.9" />
<line x1="284.2" y1="268.5" x2="284.2" y2="271.7" stroke="#111" stroke-width="0.9" />
<line x1="286.7" y1="268.5" x2="286.7" y2="274.5" stroke="#111" stroke-width="1.1" />
<line x1="303.3" y1="268.5" x2="303.3" y2="271.7" stroke="#111" stroke-width="0.9" />
<text x="93.2" y="286.1" font-size="10" font-weight="normal" text-anchor="middle" fill="#111" textLength="5.4" lengthAdjust="spacingAndGlyphs" >0</text>
<text x="167.3" y="286.1" font-size="10" fill="#000" stroke="#000" stroke-width="0.2" textLength="9.6" lengthAdjust="spacingAndGlyphs">10</text>
<text x="177.9" y="280.9" font-size="6.8" fill="#000" stroke="#000" stroke-width="0.15">3</text>
<text x="224.1" y="286.1" font-size="10" fill="#000" stroke="#000" stroke-width="0.2" textLength="9.6" lengthAdjust="spacingAndGlyphs">10</text>
<text x="234.7" y="280.9" font-size="6.8" fill="#000" stroke="#000" stroke-width="0.15">4</text>
<text x="278.8" y="286.1" font-size="10" fill="#000" stroke="#000" stroke-width="0.2" textLength="9.6" lengthAdjust="spacingAndGlyphs">10</text>
<text x="289.4" y="280.9" font-size="6.8" fill="#000" stroke="#000" stroke-width="0.15">5</text>
<line x1="60.0" y1="46.9" x2="66.0" y2="46.9" stroke="#111" stroke-width="1.1" />
<line x1="62.8" y1="30.3" x2="66.0" y2="30.3" stroke="#111" stroke-width="0.9" />
<line x1="60.0" y1="102.5" x2="66.0" y2="102.5" stroke="#111" stroke-width="1.1" />
<line x1="62.8" y1="85.8" x2="66.0" y2="85.8" stroke="#111" stroke-width="0.9" />
<line x1="62.8" y1="76.0" x2="66.0" y2="76.0" stroke="#111" stroke-width="0.9" />
<line x1="62.8" y1="69.0" x2="66.0" y2="69.0" stroke="#111" stroke-width="0.9" />
<line x1="62.8" y1="63.6" x2="66.0" y2="63.6" stroke="#111" stroke-width="0.9" />
<line x1="62.8" y1="59.2" x2="66.0" y2="59.2" stroke="#111" stroke-width="0.9" />
<line x1="62.8" y1="55.5" x2="66.0" y2="55.5" stroke="#111" stroke-width="0.9" />
<line x1="62.8" y1="52.3" x2="66.0" y2="52.3" stroke="#111" stroke-width="0.9" />
<line x1="62.8" y1="49.4" x2="66.0" y2="49.4" stroke="#111" stroke-width="0.9" />
<line x1="60.0" y1="159.5" x2="66.0" y2="159.5" stroke="#111" stroke-width="1.1" />
<line x1="62.8" y1="142.3" x2="66.0" y2="142.3" stroke="#111" stroke-width="0.9" />
<line x1="62.8" y1="132.3" x2="66.0" y2="132.3" stroke="#111" stroke-width="0.9" />
<line x1="62.8" y1="125.2" x2="66.0" y2="125.2" stroke="#111" stroke-width="0.9" />
<line x1="62.8" y1="119.7" x2="66.0" y2="119.7" stroke="#111" stroke-width="0.9" />
<line x1="62.8" y1="115.1" x2="66.0" y2="115.1" stroke="#111" stroke-width="0.9" />
<line x1="62.8" y1="111.3" x2="66.0" y2="111.3" stroke="#111" stroke-width="0.9" />
<line x1="62.8" y1="108.0" x2="66.0" y2="108.0" stroke="#111" stroke-width="0.9" />
<line x1="62.8" y1="105.1" x2="66.0" y2="105.1" stroke="#111" stroke-width="0.9" />
<line x1="60.0" y1="217.7" x2="66.0" y2="217.7" stroke="#111" stroke-width="1.1" />
<line x1="62.8" y1="200.2" x2="66.0" y2="200.2" stroke="#111" stroke-width="0.9" />
<line x1="62.8" y1="189.9" x2="66.0" y2="189.9" stroke="#111" stroke-width="0.9" />
<line x1="62.8" y1="182.7" x2="66.0" y2="182.7" stroke="#111" stroke-width="0.9" />
<line x1="62.8" y1="177.0" x2="66.0" y2="177.0" stroke="#111" stroke-width="0.9" />
<line x1="62.8" y1="172.4" x2="66.0" y2="172.4" stroke="#111" stroke-width="0.9" />
<line x1="62.8" y1="168.5" x2="66.0" y2="168.5" stroke="#111" stroke-width="0.9" />
<line x1="62.8" y1="165.1" x2="66.0" y2="165.1" stroke="#111" stroke-width="0.9" />
<line x1="62.8" y1="162.2" x2="66.0" y2="162.2" stroke="#111" stroke-width="0.9" />
<line x1="62.8" y1="236.9" x2="66.0" y2="236.9" stroke="#111" stroke-width="0.9" />
<line x1="62.8" y1="243.9" x2="66.0" y2="243.9" stroke="#111" stroke-width="0.9" />
<line x1="62.8" y1="234.2" x2="66.0" y2="234.2" stroke="#111" stroke-width="0.9" />
<line x1="62.8" y1="246.4" x2="66.0" y2="246.4" stroke="#111" stroke-width="0.9" />
<line x1="62.8" y1="231.8" x2="66.0" y2="231.8" stroke="#111" stroke-width="0.9" />
<line x1="62.8" y1="248.6" x2="66.0" y2="248.6" stroke="#111" stroke-width="0.9" />
<line x1="62.8" y1="229.5" x2="66.0" y2="229.5" stroke="#111" stroke-width="0.9" />
<line x1="62.8" y1="250.7" x2="66.0" y2="250.7" stroke="#111" stroke-width="0.9" />
<line x1="62.8" y1="227.4" x2="66.0" y2="227.4" stroke="#111" stroke-width="0.9" />
<line x1="62.8" y1="252.7" x2="66.0" y2="252.7" stroke="#111" stroke-width="0.9" />
<line x1="62.8" y1="225.3" x2="66.0" y2="225.3" stroke="#111" stroke-width="0.9" />
<line x1="62.8" y1="254.6" x2="66.0" y2="254.6" stroke="#111" stroke-width="0.9" />
<line x1="62.8" y1="223.4" x2="66.0" y2="223.4" stroke="#111" stroke-width="0.9" />
<line x1="62.8" y1="256.4" x2="66.0" y2="256.4" stroke="#111" stroke-width="0.9" />
<line x1="62.8" y1="221.4" x2="66.0" y2="221.4" stroke="#111" stroke-width="0.9" />
<line x1="62.8" y1="258.2" x2="66.0" y2="258.2" stroke="#111" stroke-width="0.9" />
<line x1="62.8" y1="219.5" x2="66.0" y2="219.5" stroke="#111" stroke-width="0.9" />
<line x1="62.8" y1="260.0" x2="66.0" y2="260.0" stroke="#111" stroke-width="0.9" />
<line x1="60.0" y1="261.7" x2="66.0" y2="261.7" stroke="#111" stroke-width="1.1" />
<rect x="60.0" y="237.7" width="6" height="5.6" fill="#000"/>
<text x="45.0" y="54.2" font-size="10" fill="#000" stroke="#000" stroke-width="0.2" textLength="9.6" lengthAdjust="spacingAndGlyphs">10</text>
<text x="55.4" y="49.0" font-size="6.8" fill="#000" stroke="#000" stroke-width="0.15">5</text>
<text x="45.0" y="108.7" font-size="10" fill="#000" stroke="#000" stroke-width="0.2" textLength="9.6" lengthAdjust="spacingAndGlyphs">10</text>
<text x="55.4" y="103.5" font-size="6.8" fill="#000" stroke="#000" stroke-width="0.15">4</text>
<text x="45.0" y="165.0" font-size="10" fill="#000" stroke="#000" stroke-width="0.2" textLength="9.6" lengthAdjust="spacingAndGlyphs">10</text>
<text x="55.4" y="159.8" font-size="6.8" fill="#000" stroke="#000" stroke-width="0.15">3</text>
<text x="45.0" y="222.3" font-size="10" fill="#000" stroke="#000" stroke-width="0.2" textLength="9.6" lengthAdjust="spacingAndGlyphs">10</text>
<text x="55.4" y="217.1" font-size="6.8" fill="#000" stroke="#000" stroke-width="0.15">2</text>
<text x="52.6" y="242.2" font-size="10" font-weight="normal" text-anchor="middle" fill="#111" textLength="5.4" lengthAdjust="spacingAndGlyphs" >0</text>
<text x="41.4" y="265.6" font-size="10" fill="#111" textLength="13" lengthAdjust="spacingAndGlyphs">-10</text>
<text x="55.4" y="260.4" font-size="6.8" fill="#000" stroke="#000" stroke-width="0.15">2</text>
<polygon points="387.0,142.5 387.3,140.8 387.6,139.0 387.9,137.3 388.1,135.6 388.2,133.9 388.4,132.1 388.7,130.3 389.1,128.5 389.6,126.7 390.1,124.9 390.7,123.1 391.4,121.3 392.1,119.5 392.9,117.7 393.8,115.8 394.8,114.0 395.8,112.1 397.0,110.1 398.2,108.2 399.7,106.5 401.3,104.8 403.0,103.2 404.9,101.8 406.9,100.6 409.0,99.4 411.1,98.3 413.3,97.0 415.6,95.8 418.0,94.7 420.5,93.9 423.1,93.5 425.7,93.4 428.3,93.4 430.9,93.6 433.5,94.2 435.9,95.0 438.3,96.2 440.5,97.6 442.6,99.2 444.7,100.6 446.9,101.9 449.2,103.0 451.8,103.9 454.5,104.7 457.0,106.0 459.1,107.7 461.2,109.5 463.7,111.1 466.4,112.7 469.4,114.3 472.2,116.1 474.6,118.4 476.9,120.9 480.4,123.0 485.4,125.1 488.8,128.0 489.9,131.5 490.6,135.1 491.9,138.8 493.6,142.5 495.2,146.4 497.2,150.6 499.4,155.0 500.4,159.5 499.2,163.6 496.2,167.1 492.2,170.0 488.3,172.7 485.5,175.6 483.8,179.0 482.1,182.5 479.4,185.3 475.1,186.7 469.9,187.0 465.1,187.1 461.3,187.8 458.1,188.9 455.3,190.4 452.7,192.1 450.2,194.0 447.7,195.9 445.0,197.6 442.1,198.9 439.1,199.9 436.1,200.9 433.1,201.8 430.0,202.6 426.9,203.4 423.7,203.8 420.5,203.6 417.3,203.0 414.2,202.2 411.2,201.4 408.2,200.5 405.3,199.3 402.6,197.5 400.4,194.8 398.7,191.5 397.4,187.8 396.4,184.3 395.3,181.3 394.3,178.6 393.4,176.0 392.7,173.3 392.1,170.9 391.4,168.7 390.7,166.7 390.1,164.6 389.6,162.6 389.3,160.5 389.0,158.6 388.5,156.7 388.1,155.0 387.6,153.2 387.3,151.4 387.1,149.6 386.9,147.8 386.9,146.0 386.9,144.3" fill="#000"/>
<polygon points="389.7,142.5 389.9,140.9 390.1,139.3 390.4,137.7 390.7,136.2 390.8,134.6 391.1,132.9 391.4,131.3 391.7,129.7 392.2,128.1 392.7,126.5 393.2,124.8 393.8,123.1 394.4,121.4 395.1,119.7 395.9,117.9 396.7,116.1 397.7,114.3 398.8,112.6 400.0,110.9 401.3,109.3 402.8,107.7 404.3,106.2 406.0,104.8 407.9,103.6 409.8,102.5 411.8,101.5 413.9,100.5 416.0,99.4 418.2,98.3 420.5,97.3 422.9,96.8 425.3,96.6 427.8,96.6 430.2,96.8 432.6,97.3 434.9,98.1 437.1,99.2 439.2,100.5 441.2,102.0 443.1,103.4 445.1,104.6 447.2,105.8 449.3,107.0 451.3,108.3 453.4,109.6 455.6,110.9 457.9,112.2 460.1,113.7 462.2,115.4 464.1,117.3 465.9,119.4 467.8,121.5 469.6,123.6 471.7,125.8 474.3,128.1 476.8,130.5 479.0,133.2 480.7,136.2 482.1,139.3 483.9,142.5 486.1,145.9 488.0,149.6 489.7,153.5 490.6,157.4 490.1,161.2 488.2,164.5 485.2,167.3 482.0,169.9 479.1,172.4 476.3,174.7 473.1,176.7 469.6,178.2 466.3,179.6 463.4,181.1 460.7,182.7 458.2,184.4 455.7,185.9 453.0,187.3 450.5,188.6 448.0,190.0 445.5,191.5 443.0,193.0 440.5,194.5 437.8,195.8 435.1,196.8 432.2,197.8 429.4,198.6 426.5,199.4 423.5,199.8 420.5,199.6 417.5,199.0 414.6,198.3 411.8,197.5 409.0,196.6 406.4,195.0 404.2,192.7 402.4,189.6 401.1,186.0 400.0,182.7 398.9,179.9 397.9,177.3 397.2,174.6 396.5,172.1 395.8,169.9 395.0,168.0 394.3,166.0 393.8,164.1 393.3,162.2 393.0,160.4 392.6,158.6 392.0,157.0 391.4,155.5 390.9,153.9 390.4,152.3 390.1,150.6 389.8,149.0 389.7,147.4 389.6,145.7 389.6,144.1" fill="rgb(242,242,242)"/>
<polygon points="390.6,142.5 390.7,140.9 391.0,139.4 391.2,137.9 391.5,136.3 391.6,134.8 391.8,133.2 392.1,131.6 392.5,130.0 392.9,128.5 393.4,126.9 393.9,125.2 394.4,123.6 395.0,121.9 395.7,120.2 396.5,118.5 397.3,116.7 398.2,114.9 399.2,113.2 400.4,111.5 401.7,109.9 403.1,108.4 404.7,106.9 406.3,105.6 408.1,104.4 410.0,103.3 412.0,102.4 414.0,101.4 416.1,100.4 418.2,99.3 420.5,98.4 422.8,97.9 425.2,97.8 427.6,97.8 430.0,98.0 432.3,98.5 434.5,99.3 436.7,100.3 438.7,101.6 440.6,103.0 442.5,104.5 444.4,105.7 446.4,106.8 448.4,108.0 450.4,109.3 452.4,110.6 454.5,111.9 456.6,113.3 458.8,114.7 460.7,116.4 462.5,118.2 464.3,120.2 466.1,122.2 467.8,124.3 469.8,126.5 472.2,128.6 474.6,131.0 476.7,133.6 478.3,136.4 479.6,139.4 481.3,142.5 483.4,145.8 485.2,149.3 486.8,153.0 487.7,156.8 487.3,160.4 485.5,163.6 482.7,166.4 479.7,168.9 477.0,171.3 474.4,173.6 471.3,175.5 468.0,177.0 464.9,178.4 462.1,179.9 459.6,181.6 457.1,183.2 454.7,184.7 452.2,186.1 449.7,187.5 447.3,188.9 444.9,190.3 442.5,191.8 440.0,193.2 437.4,194.4 434.7,195.5 432.0,196.4 429.2,197.2 426.3,198.0 423.4,198.4 420.5,198.2 417.6,197.7 414.8,197.1 412.0,196.3 409.3,195.4 406.8,193.8 404.6,191.5 402.9,188.4 401.6,185.0 400.5,181.7 399.5,178.9 398.5,176.4 397.7,173.8 397.1,171.4 396.4,169.2 395.7,167.3 395.0,165.5 394.5,163.6 394.0,161.7 393.7,159.9 393.3,158.2 392.8,156.6 392.1,155.1 391.6,153.6 391.2,152.0 390.9,150.4 390.7,148.8 390.5,147.2 390.5,145.7 390.5,144.1" fill="rgb(220,220,220)"/>
<polygon points="391.4,142.5 391.6,141.0 391.8,139.5 392.0,138.0 392.2,136.5 392.4,135.0 392.6,133.4 392.8,131.9 393.2,130.3 393.6,128.8 394.1,127.3 394.6,125.7 395.1,124.0 395.7,122.4 396.3,120.7 397.0,119.0 397.8,117.3 398.7,115.6 399.7,113.9 400.8,112.2 402.1,110.6 403.5,109.1 405.0,107.6 406.6,106.3 408.4,105.1 410.2,104.1 412.2,103.3 414.1,102.4 416.2,101.4 418.3,100.4 420.5,99.5 422.8,99.1 425.1,98.9 427.4,99.0 429.7,99.1 432.0,99.6 434.2,100.4 436.3,101.4 438.2,102.7 440.1,104.1 441.9,105.5 443.7,106.7 445.7,107.8 447.6,109.1 449.4,110.4 451.3,111.7 453.3,113.0 455.4,114.3 457.4,115.7 459.3,117.3 461.0,119.1 462.7,121.0 464.4,123.0 466.0,125.0 467.9,127.1 470.2,129.2 472.4,131.5 474.3,134.0 475.8,136.7 477.1,139.5 478.8,142.5 480.7,145.7 482.4,149.0 483.9,152.5 484.8,156.2 484.5,159.6 482.8,162.7 480.3,165.4 477.5,167.9 474.9,170.2 472.4,172.5 469.5,174.4 466.4,175.8 463.4,177.3 460.8,178.8 458.4,180.4 456.1,182.0 453.7,183.5 451.3,184.9 448.9,186.3 446.6,187.7 444.3,189.1 441.9,190.6 439.5,191.9 436.9,193.1 434.3,194.1 431.7,195.0 428.9,195.8 426.2,196.6 423.4,197.0 420.5,196.9 417.7,196.4 414.9,195.9 412.2,195.2 409.5,194.1 407.1,192.6 405.0,190.2 403.3,187.3 402.1,183.9 401.1,180.7 400.0,177.9 399.1,175.5 398.3,173.0 397.7,170.7 397.0,168.6 396.3,166.7 395.7,164.9 395.1,163.0 394.7,161.2 394.4,159.5 394.0,157.8 393.5,156.3 392.9,154.8 392.4,153.3 392.0,151.8 391.7,150.2 391.5,148.7 391.4,147.1 391.3,145.6 391.3,144.0" fill="rgb(202,202,202)"/>
<polygon points="392.3,142.5 392.5,141.0 392.6,139.6 392.8,138.1 393.0,136.7 393.1,135.2 393.3,133.7 393.6,132.2 393.9,130.7 394.3,129.2 394.8,127.7 395.3,126.1 395.8,124.5 396.3,122.9 396.9,121.3 397.6,119.6 398.3,117.9 399.2,116.2 400.1,114.5 401.2,112.9 402.5,111.3 403.8,109.8 405.3,108.4 406.9,107.0 408.6,105.9 410.4,105.0 412.3,104.1 414.3,103.3 416.3,102.3 418.3,101.4 420.5,100.6 422.7,100.2 425.0,100.1 427.2,100.1 429.5,100.3 431.7,100.8 433.8,101.6 435.8,102.6 437.7,103.8 439.5,105.2 441.3,106.6 443.1,107.7 444.9,108.9 446.7,110.1 448.5,111.4 450.3,112.7 452.2,114.0 454.1,115.3 456.1,116.7 457.8,118.3 459.5,120.0 461.1,121.8 462.7,123.7 464.2,125.7 466.0,127.7 468.1,129.7 470.2,131.9 472.0,134.3 473.4,136.9 474.6,139.7 476.2,142.5 478.0,145.5 479.6,148.7 481.0,152.1 481.9,155.6 481.6,158.9 480.1,161.9 477.8,164.5 475.2,166.9 472.8,169.1 470.5,171.3 467.8,173.2 464.8,174.7 462.0,176.1 459.4,177.6 457.2,179.2 455.0,180.8 452.8,182.4 450.5,183.8 448.2,185.1 445.9,186.5 443.6,187.9 441.4,189.3 439.0,190.7 436.5,191.8 434.0,192.8 431.4,193.6 428.7,194.5 426.0,195.2 423.3,195.6 420.5,195.5 417.7,195.2 415.0,194.7 412.3,194.0 409.8,192.9 407.4,191.3 405.4,189.0 403.8,186.1 402.6,182.8 401.6,179.7 400.6,177.0 399.7,174.6 398.9,172.2 398.3,169.9 397.6,167.9 396.9,166.1 396.3,164.3 395.8,162.5 395.4,160.7 395.1,159.0 394.7,157.4 394.2,155.9 393.6,154.5 393.2,153.0 392.8,151.5 392.5,150.0 392.3,148.5 392.2,147.0 392.2,145.5 392.2,144.0" fill="rgb(185,185,185)"/>
<polygon points="393.2,142.5 393.3,141.1 393.5,139.7 393.6,138.2 393.8,136.8 393.9,135.4 394.1,133.9 394.3,132.4 394.6,131.0 395.0,129.5 395.5,128.1 395.9,126.5 396.4,125.0 396.9,123.4 397.5,121.8 398.1,120.1 398.8,118.4 399.7,116.8 400.6,115.1 401.7,113.5 402.9,112.0 404.2,110.5 405.6,109.1 407.2,107.8 408.9,106.7 410.7,105.8 412.5,105.0 414.4,104.2 416.4,103.3 418.4,102.4 420.5,101.7 422.7,101.4 424.8,101.2 427.0,101.3 429.2,101.5 431.4,101.9 433.4,102.7 435.4,103.7 437.2,104.9 439.0,106.3 440.6,107.6 442.4,108.8 444.2,109.9 445.9,111.2 447.5,112.5 449.3,113.7 451.0,115.0 452.9,116.3 454.7,117.6 456.4,119.2 457.9,120.9 459.5,122.7 460.9,124.5 462.4,126.4 464.1,128.3 466.0,130.3 468.0,132.4 469.6,134.7 471.0,137.2 472.1,139.8 473.6,142.5 475.4,145.4 476.9,148.4 478.1,151.6 479.0,154.9 478.8,158.1 477.5,161.0 475.3,163.5 472.9,165.8 470.7,168.1 468.5,170.2 466.0,172.0 463.1,173.5 460.5,174.9 458.1,176.4 456.0,178.0 453.9,179.6 451.8,181.2 449.6,182.6 447.4,183.9 445.2,185.3 443.0,186.7 440.8,188.1 438.5,189.4 436.1,190.5 433.6,191.4 431.1,192.3 428.5,193.1 425.9,193.8 423.2,194.2 420.5,194.2 417.8,193.9 415.1,193.4 412.5,192.8 410.0,191.7 407.7,190.1 405.8,187.8 404.2,184.9 403.0,181.7 402.1,178.6 401.2,176.0 400.3,173.7 399.5,171.4 398.9,169.2 398.2,167.2 397.6,165.4 397.0,163.7 396.5,161.9 396.1,160.2 395.8,158.5 395.4,157.0 394.9,155.5 394.4,154.1 393.9,152.7 393.6,151.2 393.3,149.8 393.2,148.3 393.1,146.8 393.0,145.4 393.1,143.9" fill="rgb(168,168,168)"/>
<polygon points="394.1,142.5 394.2,141.1 394.3,139.7 394.4,138.4 394.6,137.0 394.7,135.6 394.8,134.2 395.0,132.7 395.4,131.3 395.7,129.9 396.2,128.5 396.6,127.0 397.1,125.5 397.6,123.9 398.1,122.3 398.7,120.7 399.4,119.0 400.2,117.4 401.1,115.7 402.1,114.2 403.3,112.6 404.5,111.2 405.9,109.8 407.5,108.5 409.1,107.5 410.9,106.6 412.7,105.9 414.6,105.1 416.5,104.3 418.5,103.5 420.5,102.9 422.6,102.5 424.7,102.4 426.8,102.4 429.0,102.6 431.1,103.1 433.1,103.9 435.0,104.8 436.7,106.0 438.4,107.3 440.0,108.6 441.7,109.8 443.4,111.0 445.0,112.2 446.6,113.5 448.2,114.8 449.9,116.0 451.7,117.3 453.4,118.6 455.0,120.1 456.4,121.8 457.8,123.5 459.2,125.3 460.6,127.1 462.2,129.0 464.0,130.8 465.8,132.9 467.3,135.1 468.5,137.4 469.7,139.9 471.0,142.5 472.7,145.2 474.1,148.1 475.3,151.2 476.1,154.3 476.0,157.4 474.8,160.1 472.8,162.6 470.6,164.8 468.6,167.0 466.5,169.1 464.2,170.9 461.5,172.3 459.0,173.7 456.8,175.2 454.8,176.8 452.8,178.4 450.8,180.0 448.8,181.4 446.6,182.7 444.5,184.1 442.4,185.5 440.2,186.9 438.0,188.1 435.7,189.2 433.2,190.1 430.8,190.9 428.3,191.7 425.7,192.4 423.1,192.8 420.5,192.9 417.9,192.6 415.3,192.2 412.7,191.6 410.3,190.5 408.1,188.9 406.2,186.6 404.7,183.8 403.5,180.6 402.6,177.6 401.7,175.0 400.9,172.8 400.1,170.6 399.5,168.5 398.8,166.6 398.2,164.8 397.6,163.1 397.2,161.4 396.8,159.7 396.5,158.1 396.1,156.6 395.6,155.2 395.1,153.8 394.7,152.4 394.4,151.0 394.1,149.6 394.0,148.1 393.9,146.7 393.9,145.3 393.9,143.9" fill="rgb(152,152,152)"/>
<polygon points="394.9,142.5 395.0,141.2 395.1,139.8 395.2,138.5 395.3,137.2 395.4,135.8 395.6,134.4 395.8,133.0 396.1,131.6 396.4,130.2 396.9,128.8 397.3,127.4 397.7,126.0 398.2,124.4 398.7,122.9 399.3,121.3 399.9,119.6 400.6,118.0 401.5,116.4 402.5,114.8 403.6,113.3 404.9,111.9 406.3,110.5 407.7,109.3 409.4,108.3 411.1,107.4 412.9,106.7 414.7,106.0 416.6,105.3 418.5,104.5 420.5,104.0 422.5,103.6 424.6,103.6 426.7,103.6 428.7,103.8 430.7,104.3 432.7,105.0 434.5,106.0 436.3,107.1 437.9,108.4 439.4,109.7 441.0,110.9 442.6,112.0 444.2,113.3 445.7,114.6 447.2,115.8 448.8,117.1 450.4,118.3 452.0,119.6 453.5,121.1 454.9,122.6 456.2,124.3 457.5,126.0 458.8,127.8 460.3,129.6 461.9,131.4 463.5,133.4 465.0,135.5 466.1,137.7 467.2,140.1 468.5,142.5 470.0,145.1 471.3,147.8 472.4,150.7 473.2,153.7 473.1,156.6 472.1,159.3 470.4,161.6 468.4,163.8 466.5,165.9 464.6,168.0 462.4,169.7 459.9,171.1 457.6,172.5 455.5,174.0 453.6,175.6 451.8,177.2 449.9,178.8 447.9,180.2 445.9,181.6 443.8,182.9 441.8,184.3 439.7,185.6 437.5,186.8 435.2,187.8 432.9,188.7 430.5,189.5 428.1,190.3 425.6,191.0 423.1,191.4 420.5,191.5 417.9,191.3 415.4,191.0 412.9,190.4 410.5,189.3 408.4,187.6 406.6,185.4 405.1,182.6 404.0,179.6 403.1,176.6 402.3,174.1 401.4,171.9 400.7,169.8 400.1,167.7 399.4,165.9 398.8,164.2 398.3,162.5 397.9,160.8 397.5,159.2 397.2,157.6 396.8,156.2 396.4,154.8 395.9,153.5 395.5,152.1 395.2,150.7 395.0,149.3 394.8,148.0 394.7,146.6 394.7,145.2 394.8,143.8" fill="rgb(136,136,136)"/>
<polygon points="395.8,142.5 395.9,141.2 396.0,139.9 396.0,138.6 396.1,137.3 396.2,136.0 396.3,134.6 396.5,133.3 396.8,131.9 397.1,130.6 397.5,129.2 398.0,127.9 398.4,126.4 398.8,125.0 399.3,123.4 399.8,121.8 400.4,120.2 401.1,118.6 402.0,117.0 402.9,115.5 404.0,114.0 405.2,112.6 406.6,111.2 408.0,110.0 409.6,109.1 411.3,108.3 413.1,107.6 414.9,106.9 416.7,106.2 418.6,105.6 420.5,105.1 422.5,104.8 424.5,104.7 426.5,104.8 428.5,105.0 430.4,105.4 432.3,106.1 434.1,107.1 435.8,108.2 437.3,109.5 438.8,110.7 440.4,111.9 441.9,113.1 443.3,114.3 444.7,115.6 446.1,116.9 447.6,118.1 449.2,119.3 450.7,120.6 452.1,122.0 453.4,123.5 454.6,125.1 455.8,126.8 457.0,128.5 458.4,130.2 459.9,132.0 461.3,133.8 462.6,135.8 463.7,138.0 464.7,140.2 465.9,142.5 467.3,145.0 468.5,147.5 469.5,150.3 470.3,153.1 470.3,155.8 469.4,158.4 467.9,160.7 466.1,162.8 464.4,164.9 462.6,166.8 460.6,168.5 458.3,170.0 456.1,171.3 454.2,172.8 452.4,174.4 450.7,176.0 448.9,177.6 447.0,179.0 445.1,180.4 443.2,181.7 441.2,183.1 439.1,184.4 437.0,185.5 434.8,186.5 432.5,187.3 430.2,188.1 427.8,188.9 425.4,189.6 423.0,190.0 420.5,190.2 418.0,190.0 415.5,189.8 413.1,189.2 410.8,188.1 408.7,186.4 407.0,184.2 405.5,181.5 404.5,178.5 403.6,175.6 402.8,173.1 402.0,171.0 401.3,168.9 400.7,167.0 400.0,165.2 399.5,163.5 398.9,161.9 398.6,160.3 398.2,158.7 397.9,157.2 397.5,155.8 397.1,154.4 396.6,153.1 396.3,151.8 396.0,150.5 395.8,149.1 395.6,147.8 395.6,146.4 395.6,145.1 395.7,143.8" fill="rgb(120,120,120)"/>
<polygon points="396.7,142.5 396.8,141.3 396.8,140.0 396.8,138.8 396.9,137.5 397.0,136.2 397.1,134.9 397.3,133.6 397.5,132.3 397.8,131.0 398.2,129.6 398.6,128.3 399.1,126.9 399.5,125.5 399.9,123.9 400.4,122.4 400.9,120.8 401.6,119.2 402.4,117.6 403.4,116.1 404.4,114.7 405.6,113.3 406.9,111.9 408.3,110.8 409.9,109.8 411.5,109.1 413.3,108.5 415.0,107.8 416.8,107.2 418.6,106.6 420.5,106.2 422.4,105.9 424.4,105.9 426.3,105.9 428.2,106.1 430.1,106.6 431.9,107.3 433.7,108.2 435.3,109.3 436.8,110.5 438.2,111.8 439.7,113.0 441.1,114.1 442.5,115.4 443.8,116.6 445.1,117.9 446.5,119.1 447.9,120.3 449.3,121.5 450.6,122.9 451.8,124.4 453.0,125.9 454.1,127.5 455.3,129.2 456.5,130.8 457.8,132.5 459.1,134.3 460.3,136.2 461.3,138.2 462.2,140.3 463.3,142.5 464.6,144.8 465.7,147.2 466.6,149.8 467.4,152.5 467.5,155.1 466.8,157.5 465.4,159.7 463.8,161.8 462.3,163.8 460.7,165.7 458.8,167.4 456.7,168.8 454.7,170.2 452.9,171.6 451.2,173.2 449.6,174.8 448.0,176.4 446.2,177.9 444.3,179.2 442.5,180.5 440.6,181.9 438.6,183.1 436.5,184.3 434.4,185.2 432.2,186.0 429.9,186.7 427.6,187.5 425.3,188.2 422.9,188.7 420.5,188.8 418.1,188.7 415.7,188.6 413.3,188.0 411.1,186.9 409.1,185.2 407.4,182.9 406.0,180.3 405.0,177.4 404.1,174.6 403.4,172.1 402.6,170.1 401.9,168.1 401.2,166.3 400.7,164.5 400.1,162.9 399.6,161.3 399.2,159.7 398.9,158.2 398.6,156.7 398.2,155.4 397.8,154.1 397.4,152.8 397.0,151.5 396.8,150.2 396.6,148.9 396.5,147.6 396.4,146.3 396.5,145.0 396.5,143.8" fill="rgb(104,104,104)"/>
<polygon points="397.5,142.5 397.6,141.3 397.6,140.1 397.6,138.9 397.7,137.6 397.7,136.4 397.8,135.1 398.0,133.9 398.2,132.6 398.5,131.3 398.9,130.0 399.3,128.7 399.7,127.4 400.1,126.0 400.5,124.5 400.9,122.9 401.5,121.4 402.1,119.8 402.9,118.3 403.8,116.8 404.8,115.3 406.0,114.0 407.2,112.6 408.6,111.5 410.1,110.6 411.8,109.9 413.4,109.3 415.2,108.8 416.9,108.2 418.7,107.7 420.5,107.3 422.4,107.1 424.2,107.0 426.1,107.1 428.0,107.3 429.8,107.7 431.6,108.4 433.2,109.4 434.8,110.4 436.2,111.6 437.6,112.8 439.0,114.0 440.3,115.2 441.6,116.4 442.8,117.7 444.1,118.9 445.4,120.1 446.7,121.3 448.0,122.5 449.2,123.9 450.3,125.3 451.4,126.8 452.4,128.3 453.5,129.8 454.5,131.4 455.7,133.1 456.9,134.8 457.9,136.6 458.8,138.5 459.7,140.4 460.8,142.5 461.9,144.7 462.9,147.0 463.8,149.4 464.5,151.8 464.6,154.3 464.1,156.7 462.9,158.8 461.5,160.8 460.2,162.7 458.7,164.6 457.0,166.2 455.1,167.6 453.2,169.0 451.5,170.4 450.0,172.0 448.6,173.7 447.0,175.2 445.3,176.7 443.6,178.0 441.8,179.4 439.9,180.7 438.0,181.9 436.0,183.0 433.9,183.9 431.8,184.6 429.6,185.4 427.4,186.1 425.2,186.8 422.8,187.3 420.5,187.5 418.1,187.5 415.8,187.3 413.5,186.8 411.3,185.7 409.4,183.9 407.8,181.7 406.4,179.1 405.4,176.3 404.7,173.6 403.9,171.2 403.2,169.2 402.5,167.3 401.8,165.5 401.3,163.9 400.7,162.3 400.3,160.7 399.9,159.2 399.6,157.7 399.3,156.3 398.9,155.0 398.5,153.7 398.1,152.5 397.8,151.2 397.6,150.0 397.4,148.7 397.3,147.4 397.3,146.2 397.3,144.9 397.4,143.7" fill="rgb(89,89,89)"/>
<polygon points="398.4,142.5 398.5,141.3 398.5,140.2 398.4,139.0 398.5,137.8 398.5,136.6 398.6,135.4 398.7,134.1 399.0,132.9 399.2,131.7 399.6,130.4 400.0,129.2 400.4,127.9 400.7,126.5 401.1,125.0 401.5,123.5 402.0,121.9 402.6,120.4 403.3,118.9 404.2,117.4 405.2,116.0 406.3,114.7 407.5,113.4 408.9,112.2 410.4,111.4 412.0,110.7 413.6,110.2 415.3,109.7 417.0,109.2 418.7,108.7 420.5,108.4 422.3,108.2 424.1,108.2 425.9,108.3 427.7,108.5 429.5,108.9 431.2,109.6 432.8,110.5 434.3,111.5 435.7,112.7 437.0,113.9 438.3,115.0 439.6,116.2 440.8,117.5 441.9,118.7 443.0,120.0 444.2,121.1 445.5,122.3 446.6,123.5 447.8,124.8 448.8,126.2 449.8,127.6 450.7,129.0 451.7,130.5 452.6,132.1 453.7,133.6 454.7,135.2 455.6,136.9 456.4,138.7 457.3,140.6 458.2,142.5 459.2,144.5 460.1,146.7 460.9,148.9 461.6,151.2 461.8,153.6 461.4,155.8 460.5,157.8 459.3,159.8 458.1,161.6 456.8,163.4 455.2,165.0 453.4,166.4 451.7,167.8 450.2,169.3 448.8,170.8 447.5,172.5 446.0,174.0 444.5,175.5 442.8,176.9 441.1,178.2 439.3,179.5 437.5,180.7 435.5,181.7 433.5,182.6 431.4,183.3 429.3,184.0 427.2,184.7 425.0,185.4 422.8,185.9 420.5,186.1 418.2,186.2 415.9,186.1 413.7,185.7 411.6,184.5 409.7,182.7 408.2,180.5 406.9,178.0 405.9,175.2 405.2,172.6 404.5,170.2 403.8,168.3 403.1,166.5 402.4,164.8 401.9,163.2 401.4,161.6 400.9,160.1 400.6,158.6 400.3,157.2 400.0,155.8 399.6,154.6 399.2,153.3 398.9,152.1 398.6,150.9 398.4,149.7 398.2,148.5 398.1,147.3 398.1,146.0 398.2,144.8 398.3,143.7" fill="rgb(74,74,74)"/>
<polygon points="399.3,142.5 399.3,141.4 399.3,140.3 399.3,139.1 399.2,138.0 399.3,136.8 399.3,135.6 399.5,134.4 399.7,133.2 399.9,132.0 400.3,130.8 400.7,129.6 401.0,128.4 401.4,127.0 401.7,125.5 402.0,124.0 402.5,122.5 403.1,121.0 403.8,119.5 404.6,118.1 405.6,116.7 406.7,115.4 407.8,114.1 409.2,113.0 410.6,112.2 412.2,111.6 413.8,111.1 415.4,110.6 417.1,110.2 418.8,109.8 420.5,109.5 422.2,109.3 424.0,109.3 425.7,109.4 427.5,109.6 429.2,110.0 430.8,110.7 432.4,111.6 433.8,112.6 435.1,113.8 436.4,114.9 437.7,116.1 438.8,117.3 439.9,118.5 441.0,119.8 442.0,121.0 443.1,122.2 444.2,123.3 445.3,124.5 446.3,125.7 447.2,127.1 448.1,128.4 449.0,129.8 449.9,131.2 450.7,132.7 451.6,134.2 452.5,135.7 453.2,137.3 454.0,139.0 454.8,140.7 455.6,142.5 456.5,144.4 457.3,146.4 458.0,148.4 458.7,150.6 459.0,152.8 458.7,154.9 458.0,156.9 457.0,158.7 456.0,160.6 454.8,162.3 453.4,163.9 451.8,165.3 450.3,166.6 448.9,168.1 447.7,169.7 446.4,171.3 445.1,172.8 443.6,174.3 442.0,175.7 440.4,177.0 438.7,178.2 436.9,179.4 435.1,180.4 433.1,181.2 431.1,181.9 429.0,182.6 427.0,183.3 424.9,184.0 422.7,184.5 420.5,184.8 418.3,184.9 416.0,184.9 413.9,184.5 411.8,183.3 410.1,181.5 408.5,179.3 407.3,176.8 406.4,174.2 405.7,171.6 405.1,169.3 404.4,167.4 403.6,165.7 403.0,164.1 402.5,162.5 402.0,161.0 401.6,159.5 401.3,158.1 401.0,156.7 400.7,155.4 400.3,154.2 399.9,153.0 399.6,151.8 399.3,150.6 399.2,149.4 399.0,148.3 399.0,147.1 399.0,145.9 399.0,144.8 399.2,143.6" fill="rgb(59,59,59)"/>
<polygon points="400.2,142.5 400.2,141.4 400.1,140.4 400.1,139.3 400.0,138.1 400.0,137.0 400.1,135.9 400.2,134.7 400.4,133.5 400.6,132.4 401.0,131.2 401.3,130.1 401.7,128.8 402.0,127.5 402.3,126.1 402.6,124.6 403.0,123.1 403.6,121.6 404.3,120.1 405.1,118.7 406.0,117.4 407.0,116.1 408.2,114.8 409.5,113.7 410.9,113.0 412.4,112.4 414.0,111.9 415.6,111.5 417.2,111.1 418.8,110.8 420.5,110.6 422.2,110.5 423.9,110.5 425.6,110.6 427.2,110.8 428.9,111.2 430.4,111.9 431.9,112.8 433.3,113.7 434.6,114.8 435.8,116.0 437.0,117.1 438.1,118.3 439.1,119.6 440.0,120.8 440.9,122.1 441.9,123.2 443.0,124.3 444.0,125.5 444.9,126.7 445.7,127.9 446.5,129.2 447.3,130.6 448.1,131.9 448.8,133.3 449.6,134.7 450.2,136.2 450.9,137.7 451.6,139.2 452.3,140.8 453.1,142.5 453.8,144.2 454.5,146.1 455.1,148.0 455.7,150.0 456.1,152.1 456.1,154.1 455.5,155.9 454.7,157.7 453.9,159.5 452.9,161.2 451.6,162.7 450.2,164.1 448.8,165.4 447.6,166.9 446.5,168.5 445.3,170.1 444.1,171.6 442.8,173.1 441.3,174.5 439.7,175.8 438.1,177.0 436.4,178.2 434.6,179.1 432.7,179.9 430.7,180.6 428.7,181.2 426.7,181.9 424.7,182.6 422.6,183.1 420.5,183.4 418.3,183.6 416.2,183.7 414.0,183.3 412.1,182.1 410.4,180.2 408.9,178.1 407.8,175.6 406.9,173.1 406.2,170.5 405.6,168.3 404.9,166.5 404.2,164.9 403.6,163.3 403.1,161.8 402.6,160.4 402.2,158.9 402.0,157.5 401.7,156.1 401.4,154.9 401.0,153.7 400.7,152.6 400.4,151.5 400.1,150.3 399.9,149.2 399.8,148.0 399.8,146.9 399.8,145.8 399.9,144.7 400.0,143.6" fill="rgb(44,44,44)"/>
<polygon points="401.0,142.5 401.1,141.5 401.0,140.4 400.9,139.4 400.8,138.3 400.8,137.2 400.8,136.1 400.9,135.0 401.1,133.9 401.4,132.7 401.7,131.6 402.0,130.5 402.4,129.3 402.6,128.0 402.8,126.6 403.2,125.2 403.6,123.7 404.1,122.2 404.7,120.8 405.5,119.4 406.4,118.0 407.4,116.7 408.5,115.5 409.7,114.5 411.2,113.7 412.7,113.2 414.2,112.8 415.7,112.4 417.3,112.1 418.9,111.9 420.5,111.7 422.1,111.6 423.7,111.6 425.4,111.8 427.0,112.0 428.6,112.4 430.1,113.0 431.5,113.9 432.8,114.9 434.1,115.9 435.2,117.0 436.3,118.2 437.3,119.4 438.2,120.6 439.1,121.9 439.9,123.1 440.8,124.2 441.7,125.3 442.6,126.4 443.4,127.6 444.2,128.8 444.9,130.1 445.6,131.3 446.3,132.6 446.9,133.9 447.5,135.3 448.0,136.7 448.5,138.1 449.1,139.5 449.8,141.0 450.5,142.5 451.2,144.1 451.7,145.8 452.2,147.5 452.8,149.4 453.3,151.3 453.4,153.2 453.0,155.0 452.4,156.7 451.8,158.4 450.9,160.1 449.8,161.5 448.6,162.9 447.4,164.2 446.3,165.7 445.3,167.3 444.3,168.9 443.1,170.5 441.9,172.0 440.5,173.3 439.0,174.6 437.5,175.8 435.8,176.9 434.1,177.9 432.2,178.6 430.3,179.2 428.4,179.9 426.5,180.5 424.6,181.2 422.6,181.7 420.5,182.1 418.4,182.3 416.3,182.5 414.2,182.1 412.3,180.9 410.7,179.0 409.3,176.9 408.2,174.5 407.4,172.0 406.7,169.5 406.2,167.3 405.5,165.6 404.8,164.1 404.2,162.6 403.7,161.2 403.2,159.8 402.9,158.4 402.6,157.0 402.4,155.6 402.1,154.5 401.7,153.3 401.4,152.2 401.1,151.1 400.9,150.0 400.7,148.9 400.7,147.8 400.6,146.7 400.7,145.6 400.7,144.6 400.9,143.5" fill="rgb(29,29,29)"/>
<polygon points="401.9,142.5 401.9,141.5 401.8,140.5 401.7,139.5 401.6,138.5 401.5,137.4 401.6,136.4 401.7,135.3 401.8,134.2 402.1,133.1 402.3,132.0 402.7,130.9 403.0,129.8 403.2,128.5 403.4,127.1 403.7,125.7 404.1,124.3 404.6,122.8 405.2,121.4 405.9,120.0 406.8,118.7 407.7,117.4 408.8,116.2 410.0,115.2 411.4,114.5 412.9,114.0 414.4,113.7 415.9,113.3 417.4,113.1 418.9,112.9 420.5,112.8 422.1,112.8 423.6,112.8 425.2,112.9 426.7,113.1 428.3,113.5 429.7,114.2 431.0,115.0 432.3,116.0 433.5,117.0 434.6,118.1 435.6,119.2 436.5,120.4 437.4,121.7 438.1,122.9 438.9,124.1 439.7,125.2 440.5,126.3 441.3,127.4 442.0,128.5 442.7,129.7 443.3,130.9 443.9,132.1 444.5,133.3 445.0,134.5 445.4,135.8 445.8,137.1 446.2,138.4 446.7,139.7 447.3,141.1 447.9,142.5 448.5,144.0 448.9,145.5 449.4,147.1 449.9,148.8 450.5,150.5 450.7,152.3 450.6,154.0 450.2,155.7 449.7,157.4 448.9,158.9 448.0,160.4 447.0,161.7 445.9,163.1 444.9,164.5 444.1,166.1 443.2,167.7 442.2,169.3 441.0,170.8 439.8,172.1 438.4,173.4 436.9,174.6 435.3,175.7 433.6,176.6 431.8,177.3 430.0,177.9 428.1,178.5 426.3,179.1 424.4,179.8 422.5,180.3 420.5,180.8 418.5,181.1 416.4,181.2 414.4,180.9 412.6,179.7 411.1,177.8 409.7,175.6 408.7,173.3 407.8,170.9 407.2,168.5 406.7,166.4 406.1,164.7 405.4,163.3 404.8,161.9 404.3,160.5 403.9,159.1 403.6,157.8 403.3,156.4 403.1,155.1 402.8,154.0 402.4,152.9 402.1,151.9 401.9,150.8 401.7,149.7 401.5,148.7 401.5,147.6 401.5,146.5 401.5,145.5 401.6,144.5 401.8,143.5" fill="none" stroke="#fff" stroke-width="1.15"/>
<polygon points="401.9,142.5 401.9,141.5 401.8,140.5 401.7,139.5 401.6,138.5 401.5,137.4 401.6,136.4 401.7,135.3 401.8,134.2 402.1,133.1 402.3,132.0 402.7,130.9 403.0,129.8 403.2,128.5 403.4,127.1 403.7,125.7 404.1,124.3 404.6,122.8 405.2,121.4 405.9,120.0 406.8,118.7 407.7,117.4 408.8,116.2 410.0,115.2 411.4,114.5 412.9,114.0 414.4,113.7 415.9,113.3 417.4,113.1 418.9,112.9 420.5,112.8 422.1,112.8 423.6,112.8 425.2,112.9 426.7,113.1 428.3,113.5 429.7,114.2 431.0,115.0 432.3,116.0 433.5,117.0 434.6,118.1 435.6,119.2 436.5,120.4 437.4,121.7 438.1,122.9 438.9,124.1 439.7,125.2 440.5,126.3 441.3,127.4 442.0,128.5 442.7,129.7 443.3,130.9 443.9,132.1 444.5,133.3 445.0,134.5 445.4,135.8 445.8,137.1 446.2,138.4 446.7,139.7 447.3,141.1 447.9,142.5 448.5,144.0 448.9,145.5 449.4,147.1 449.9,148.8 450.5,150.5 450.7,152.3 450.6,154.0 450.2,155.7 449.7,157.4 448.9,158.9 448.0,160.4 447.0,161.7 445.9,163.1 444.9,164.5 444.1,166.1 443.2,167.7 442.2,169.3 441.0,170.8 439.8,172.1 438.4,173.4 436.9,174.6 435.3,175.7 433.6,176.6 431.8,177.3 430.0,177.9 428.1,178.5 426.3,179.1 424.4,179.8 422.5,180.3 420.5,180.8 418.5,181.1 416.4,181.2 414.4,180.9 412.6,179.7 411.1,177.8 409.7,175.6 408.7,173.3 407.8,170.9 407.2,168.5 406.7,166.4 406.1,164.7 405.4,163.3 404.8,161.9 404.3,160.5 403.9,159.1 403.6,157.8 403.3,156.4 403.1,155.1 402.8,154.0 402.4,152.9 402.1,151.9 401.9,150.8 401.7,149.7 401.5,148.7 401.5,147.6 401.5,146.5 401.5,145.5 401.6,144.5 401.8,143.5" fill="rgb(232,232,232)"/>
<polygon points="402.5,142.5 402.5,141.6 402.4,140.6 402.3,139.6 402.2,138.6 402.1,137.6 402.2,136.5 402.2,135.5 402.4,134.4 402.6,133.4 402.9,132.3 403.2,131.3 403.5,130.2 403.7,128.9 404.0,127.6 404.2,126.2 404.6,124.8 405.1,123.4 405.6,122.0 406.3,120.7 407.1,119.4 408.1,118.1 409.1,116.9 410.3,115.9 411.6,115.2 413.1,114.7 414.5,114.3 416.0,113.9 417.5,113.7 419.0,113.5 420.5,113.4 422.0,113.3 423.6,113.4 425.1,113.5 426.6,113.8 428.1,114.3 429.4,115.0 430.7,115.8 432.0,116.8 433.1,117.8 434.1,118.9 435.1,120.0 436.0,121.2 436.8,122.4 437.5,123.6 438.2,124.8 438.9,125.9 439.7,126.9 440.4,128.0 441.1,129.1 441.7,130.3 442.3,131.4 442.9,132.5 443.4,133.7 443.9,134.9 444.3,136.1 444.7,137.4 445.0,138.6 445.5,139.9 446.1,141.2 446.6,142.5 447.1,143.9 447.5,145.3 447.9,146.8 448.4,148.4 448.9,150.1 449.1,151.8 449.0,153.4 448.6,155.0 448.2,156.6 447.5,158.1 446.7,159.5 445.7,160.8 444.8,162.1 443.9,163.5 443.1,165.1 442.2,166.6 441.3,168.1 440.2,169.6 439.0,170.9 437.6,172.2 436.2,173.3 434.7,174.4 433.1,175.3 431.4,176.0 429.6,176.6 427.9,177.3 426.1,177.9 424.3,178.6 422.4,179.0 420.5,179.4 418.6,179.6 416.6,179.7 414.7,179.3 412.9,178.1 411.5,176.3 410.2,174.3 409.1,172.1 408.3,169.8 407.7,167.6 407.2,165.5 406.6,163.9 405.9,162.5 405.4,161.2 404.9,159.8 404.5,158.5 404.2,157.2 403.9,155.9 403.7,154.7 403.4,153.6 403.1,152.6 402.8,151.5 402.6,150.5 402.4,149.5 402.2,148.4 402.2,147.4 402.1,146.4 402.2,145.4 402.3,144.4 402.4,143.4" fill="rgb(194,194,194)"/>
<polygon points="403.2,142.5 403.2,141.6 403.0,140.7 402.9,139.7 402.8,138.7 402.7,137.7 402.7,136.7 402.8,135.7 402.9,134.7 403.1,133.6 403.4,132.6 403.7,131.6 404.0,130.5 404.3,129.3 404.5,128.1 404.8,126.8 405.1,125.4 405.5,124.0 406.1,122.7 406.7,121.3 407.5,120.0 408.4,118.8 409.4,117.6 410.6,116.7 411.9,115.9 413.2,115.4 414.6,114.9 416.1,114.5 417.5,114.3 419.0,114.1 420.5,113.9 422.0,113.9 423.5,113.9 425.0,114.2 426.4,114.5 427.9,115.0 429.2,115.7 430.4,116.6 431.6,117.6 432.7,118.6 433.7,119.7 434.6,120.8 435.4,122.0 436.2,123.2 436.9,124.3 437.5,125.5 438.2,126.5 438.9,127.6 439.6,128.6 440.2,129.7 440.7,130.8 441.3,131.9 441.9,133.0 442.4,134.1 442.8,135.3 443.2,136.4 443.5,137.6 443.8,138.8 444.3,140.0 444.8,141.2 445.3,142.5 445.8,143.8 446.1,145.2 446.5,146.6 447.0,148.1 447.4,149.7 447.5,151.3 447.4,152.8 447.1,154.3 446.7,155.8 446.1,157.3 445.4,158.7 444.5,159.9 443.6,161.2 442.8,162.6 442.0,164.0 441.2,165.5 440.3,167.0 439.3,168.4 438.1,169.7 436.9,170.9 435.5,172.0 434.1,173.1 432.6,174.0 431.0,174.7 429.3,175.4 427.6,176.0 425.9,176.8 424.2,177.4 422.3,177.8 420.5,178.0 418.6,178.1 416.8,178.1 414.9,177.7 413.3,176.5 411.9,174.8 410.6,172.9 409.6,170.8 408.8,168.7 408.2,166.7 407.7,164.7 407.1,163.2 406.5,161.8 405.9,160.5 405.5,159.2 405.1,157.9 404.8,156.6 404.6,155.4 404.3,154.2 404.0,153.2 403.7,152.2 403.5,151.2 403.3,150.2 403.1,149.2 402.9,148.2 402.9,147.2 402.8,146.3 402.8,145.3 402.9,144.3 403.0,143.4" fill="rgb(163,163,163)"/>
<polygon points="403.8,142.5 403.8,141.6 403.6,140.7 403.5,139.8 403.4,138.9 403.3,137.9 403.3,136.9 403.4,135.9 403.5,134.9 403.7,133.9 403.9,132.9 404.2,131.9 404.5,130.9 404.8,129.8 405.0,128.5 405.3,127.3 405.6,125.9 406.0,124.6 406.5,123.3 407.2,122.0 407.9,120.7 408.8,119.5 409.7,118.4 410.9,117.4 412.1,116.6 413.4,116.0 414.8,115.5 416.2,115.1 417.6,114.8 419.0,114.6 420.5,114.5 422.0,114.4 423.4,114.5 424.9,114.8 426.3,115.2 427.7,115.8 428.9,116.5 430.1,117.4 431.2,118.4 432.2,119.4 433.2,120.5 434.0,121.7 434.8,122.8 435.5,123.9 436.2,125.0 436.8,126.2 437.5,127.2 438.1,128.2 438.7,129.3 439.3,130.3 439.8,131.4 440.3,132.4 440.8,133.4 441.3,134.5 441.7,135.6 442.1,136.7 442.4,137.8 442.7,139.0 443.1,140.1 443.5,141.3 444.0,142.5 444.4,143.8 444.7,145.0 445.1,146.4 445.5,147.8 445.8,149.3 445.9,150.8 445.8,152.2 445.6,153.7 445.2,155.1 444.7,156.5 444.0,157.8 443.3,159.1 442.5,160.3 441.7,161.6 441.0,163.0 440.3,164.4 439.4,165.8 438.4,167.2 437.3,168.4 436.2,169.6 434.9,170.7 433.5,171.8 432.1,172.6 430.5,173.4 429.0,174.1 427.4,174.8 425.7,175.6 424.0,176.2 422.3,176.5 420.5,176.6 418.7,176.6 416.9,176.5 415.2,176.0 413.6,174.9 412.2,173.3 411.1,171.5 410.1,169.6 409.3,167.7 408.7,165.7 408.1,163.9 407.6,162.4 407.0,161.1 406.5,159.8 406.1,158.5 405.7,157.3 405.4,156.1 405.2,154.9 404.9,153.8 404.7,152.8 404.4,151.8 404.1,150.8 404.0,149.9 403.8,148.9 403.7,148.0 403.6,147.0 403.5,146.1 403.5,145.2 403.6,144.3 403.7,143.4" fill="rgb(135,135,135)"/>
<polygon points="404.4,142.5 404.4,141.7 404.2,140.8 404.1,139.9 404.0,139.0 403.9,138.1 403.9,137.1 403.9,136.1 404.0,135.2 404.2,134.2 404.4,133.2 404.7,132.2 405.0,131.2 405.3,130.2 405.5,129.0 405.8,127.8 406.1,126.5 406.5,125.2 407.0,123.9 407.6,122.6 408.3,121.4 409.1,120.2 410.1,119.1 411.1,118.1 412.3,117.3 413.6,116.7 414.9,116.1 416.3,115.7 417.7,115.4 419.1,115.2 420.5,115.1 421.9,115.0 423.4,115.1 424.8,115.4 426.2,115.9 427.5,116.5 428.7,117.3 429.8,118.2 430.9,119.2 431.8,120.3 432.7,121.4 433.5,122.5 434.2,123.6 434.9,124.7 435.6,125.8 436.2,126.8 436.8,127.9 437.4,128.9 437.9,129.9 438.4,130.9 438.8,131.9 439.3,132.9 439.8,133.9 440.3,134.9 440.6,136.0 441.0,137.0 441.2,138.1 441.5,139.2 441.8,140.3 442.2,141.4 442.7,142.5 443.0,143.7 443.4,144.9 443.7,146.2 444.0,147.5 444.3,148.9 444.4,150.3 444.2,151.6 444.0,153.0 443.7,154.3 443.3,155.7 442.7,156.9 442.1,158.2 441.4,159.4 440.7,160.7 440.0,162.0 439.3,163.4 438.5,164.7 437.6,166.0 436.5,167.2 435.4,168.3 434.2,169.4 432.9,170.4 431.6,171.3 430.1,172.1 428.6,172.9 427.1,173.6 425.5,174.4 423.9,175.0 422.2,175.2 420.5,175.2 418.8,175.1 417.1,174.9 415.4,174.4 414.0,173.3 412.6,171.8 411.5,170.1 410.6,168.4 409.8,166.6 409.1,164.8 408.6,163.1 408.0,161.7 407.5,160.4 407.0,159.1 406.7,157.9 406.4,156.6 406.1,155.5 405.8,154.4 405.6,153.4 405.3,152.4 405.0,151.4 404.8,150.5 404.7,149.6 404.5,148.6 404.4,147.7 404.3,146.9 404.2,146.0 404.2,145.1 404.2,144.2 404.3,143.3" fill="rgb(108,108,108)"/>
<polygon points="405.0,142.5 405.0,141.7 404.9,140.9 404.7,140.0 404.6,139.1 404.5,138.2 404.5,137.3 404.5,136.4 404.6,135.4 404.7,134.5 404.9,133.5 405.2,132.6 405.5,131.6 405.8,130.6 406.0,129.5 406.3,128.3 406.6,127.1 407.0,125.8 407.4,124.5 408.0,123.3 408.7,122.0 409.5,120.9 410.4,119.8 411.4,118.8 412.6,118.0 413.8,117.4 415.0,116.8 416.4,116.3 417.7,116.0 419.1,115.8 420.5,115.6 421.9,115.6 423.3,115.6 424.7,116.0 426.0,116.6 427.3,117.3 428.4,118.1 429.5,119.1 430.5,120.1 431.4,121.1 432.2,122.2 433.0,123.3 433.7,124.4 434.3,125.4 434.9,126.5 435.5,127.5 436.0,128.5 436.6,129.5 437.0,130.5 437.5,131.5 437.9,132.5 438.3,133.4 438.8,134.4 439.2,135.3 439.5,136.3 439.9,137.3 440.1,138.3 440.3,139.4 440.6,140.4 441.0,141.4 441.4,142.5 441.7,143.6 442.0,144.8 442.2,145.9 442.5,147.2 442.7,148.4 442.8,149.7 442.7,151.0 442.5,152.3 442.2,153.6 441.9,154.8 441.4,156.1 440.8,157.3 440.2,158.5 439.6,159.7 439.0,161.0 438.3,162.3 437.6,163.6 436.7,164.8 435.7,166.0 434.7,167.1 433.6,168.1 432.4,169.1 431.1,170.0 429.7,170.8 428.3,171.6 426.9,172.4 425.4,173.2 423.8,173.8 422.1,173.9 420.5,173.8 418.9,173.6 417.3,173.3 415.7,172.8 414.3,171.7 413.0,170.3 412.0,168.8 411.0,167.1 410.3,165.5 409.6,163.9 409.1,162.3 408.5,160.9 408.0,159.7 407.6,158.4 407.3,157.2 407.0,156.0 406.7,154.9 406.4,153.9 406.2,152.9 405.9,152.0 405.7,151.1 405.5,150.1 405.4,149.2 405.2,148.4 405.1,147.5 405.0,146.7 404.9,145.8 404.9,145.0 404.9,144.1 405.0,143.3" fill="rgb(83,83,83)"/>
<polygon points="405.7,142.5 405.6,141.7 405.5,140.9 405.3,140.1 405.2,139.2 405.1,138.4 405.1,137.5 405.1,136.6 405.2,135.7 405.3,134.7 405.5,133.8 405.7,132.9 406.0,132.0 406.3,131.0 406.6,129.9 406.8,128.8 407.1,127.6 407.4,126.4 407.9,125.1 408.4,123.9 409.1,122.7 409.8,121.6 410.7,120.5 411.7,119.5 412.8,118.7 413.9,118.0 415.2,117.4 416.4,116.9 417.8,116.6 419.1,116.4 420.5,116.2 421.9,116.1 423.3,116.2 424.6,116.6 425.9,117.3 427.1,118.0 428.2,118.9 429.2,119.9 430.1,120.9 431.0,121.9 431.8,123.0 432.4,124.1 433.1,125.2 433.7,126.2 434.3,127.2 434.8,128.2 435.3,129.2 435.8,130.1 436.2,131.1 436.5,132.1 436.9,133.0 437.4,133.9 437.8,134.8 438.1,135.7 438.5,136.7 438.7,137.6 439.0,138.6 439.2,139.5 439.4,140.5 439.7,141.5 440.0,142.5 440.3,143.5 440.6,144.6 440.8,145.7 441.0,146.9 441.1,148.0 441.2,149.2 441.1,150.4 441.0,151.6 440.8,152.8 440.5,154.0 440.1,155.2 439.6,156.4 439.1,157.5 438.5,158.7 438.0,160.0 437.3,161.2 436.6,162.4 435.8,163.6 434.9,164.7 434.0,165.8 432.9,166.8 431.8,167.8 430.6,168.7 429.3,169.5 428.0,170.4 426.6,171.2 425.2,172.0 423.7,172.5 422.1,172.6 420.5,172.4 418.9,172.1 417.4,171.8 416.0,171.2 414.6,170.1 413.4,168.8 412.4,167.4 411.5,165.9 410.8,164.4 410.1,162.9 409.5,161.5 409.0,160.2 408.5,159.0 408.1,157.8 407.8,156.6 407.6,155.4 407.3,154.4 407.0,153.4 406.8,152.5 406.5,151.6 406.3,150.7 406.2,149.8 406.1,148.9 405.9,148.1 405.8,147.3 405.7,146.5 405.6,145.7 405.5,144.9 405.6,144.1 405.6,143.3" fill="rgb(58,58,58)"/>
<polygon points="406.3,142.5 406.2,141.8 406.1,141.0 405.9,140.2 405.8,139.4 405.7,138.5 405.6,137.7 405.6,136.8 405.7,135.9 405.8,135.0 406.0,134.1 406.2,133.2 406.5,132.3 406.8,131.4 407.1,130.4 407.3,129.3 407.6,128.2 407.9,127.0 408.3,125.8 408.9,124.6 409.5,123.4 410.2,122.2 411.0,121.2 412.0,120.3 413.0,119.4 414.1,118.7 415.3,118.0 416.5,117.5 417.8,117.2 419.2,116.9 420.5,116.8 421.9,116.7 423.2,116.8 424.5,117.2 425.7,118.0 426.9,118.8 427.9,119.7 428.9,120.7 429.8,121.7 430.6,122.7 431.3,123.8 431.9,124.9 432.5,126.0 433.1,126.9 433.7,127.9 434.1,128.9 434.6,129.8 435.0,130.8 435.3,131.7 435.6,132.7 436.0,133.6 436.4,134.4 436.7,135.3 437.1,136.1 437.4,137.0 437.6,137.9 437.8,138.8 438.0,139.7 438.2,140.6 438.4,141.6 438.7,142.5 439.0,143.5 439.2,144.5 439.4,145.5 439.5,146.5 439.6,147.6 439.6,148.7 439.5,149.8 439.4,150.9 439.3,152.1 439.1,153.2 438.8,154.4 438.4,155.5 437.9,156.6 437.5,157.8 437.0,159.0 436.4,160.1 435.7,161.3 435.0,162.4 434.1,163.5 433.2,164.5 432.2,165.5 431.2,166.5 430.1,167.4 428.9,168.3 427.6,169.1 426.3,170.0 425.0,170.8 423.5,171.3 422.0,171.3 420.5,171.0 419.0,170.7 417.6,170.2 416.2,169.5 415.0,168.6 413.8,167.3 412.9,166.0 412.0,164.7 411.2,163.3 410.6,162.0 410.0,160.7 409.5,159.5 409.0,158.3 408.7,157.1 408.4,155.9 408.2,154.8 407.9,153.8 407.6,152.9 407.4,152.0 407.2,151.2 407.0,150.3 406.9,149.4 406.8,148.6 406.6,147.8 406.5,147.1 406.4,146.3 406.3,145.5 406.2,144.8 406.2,144.0 406.2,143.2" fill="rgb(33,33,33)"/>
<polygon points="406.9,142.5 406.9,141.8 406.7,141.0 406.5,140.3 406.4,139.5 406.3,138.7 406.2,137.9 406.2,137.0 406.3,136.2 406.4,135.3 406.5,134.4 406.7,133.5 407.0,132.7 407.3,131.8 407.6,130.9 407.9,129.9 408.1,128.7 408.4,127.6 408.8,126.4 409.3,125.2 409.8,124.0 410.5,122.9 411.3,121.9 412.2,121.0 413.2,120.1 414.3,119.3 415.4,118.6 416.6,118.1 417.9,117.7 419.2,117.5 420.5,117.3 421.8,117.2 423.1,117.3 424.4,117.9 425.6,118.7 426.7,119.5 427.7,120.5 428.6,121.5 429.4,122.5 430.1,123.6 430.8,124.7 431.4,125.7 431.9,126.8 432.5,127.7 433.0,128.6 433.5,129.5 433.9,130.5 434.2,131.4 434.5,132.3 434.7,133.3 435.0,134.1 435.4,134.9 435.7,135.7 436.0,136.5 436.3,137.4 436.5,138.2 436.7,139.1 436.8,139.9 436.9,140.8 437.1,141.6 437.4,142.5 437.6,143.4 437.8,144.3 437.9,145.3 438.0,146.2 438.0,147.2 438.0,148.2 437.9,149.2 437.9,150.2 437.8,151.3 437.7,152.4 437.4,153.5 437.2,154.6 436.8,155.7 436.4,156.8 435.9,157.9 435.4,159.0 434.8,160.1 434.1,161.2 433.3,162.2 432.5,163.3 431.6,164.2 430.6,165.2 429.6,166.1 428.5,167.0 427.3,167.9 426.1,168.8 424.8,169.6 423.4,170.1 421.9,170.1 420.5,169.7 419.1,169.2 417.8,168.6 416.5,167.9 415.3,167.0 414.2,165.8 413.3,164.6 412.5,163.4 411.7,162.2 411.0,161.1 410.5,159.9 410.0,158.7 409.6,157.6 409.3,156.4 409.0,155.2 408.8,154.2 408.6,153.2 408.3,152.4 408.0,151.6 407.8,150.7 407.7,149.9 407.6,149.1 407.5,148.3 407.3,147.5 407.2,146.8 407.1,146.1 407.0,145.4 406.9,144.7 406.9,143.9 406.9,143.2" fill="none" stroke="#fff" stroke-width="1.15"/>
<polygon points="406.9,142.5 406.9,141.8 406.7,141.0 406.5,140.3 406.4,139.5 406.3,138.7 406.2,137.9 406.2,137.0 406.3,136.2 406.4,135.3 406.5,134.4 406.7,133.5 407.0,132.7 407.3,131.8 407.6,130.9 407.9,129.9 408.1,128.7 408.4,127.6 408.8,126.4 409.3,125.2 409.8,124.0 410.5,122.9 411.3,121.9 412.2,121.0 413.2,120.1 414.3,119.3 415.4,118.6 416.6,118.1 417.9,117.7 419.2,117.5 420.5,117.3 421.8,117.2 423.1,117.3 424.4,117.9 425.6,118.7 426.7,119.5 427.7,120.5 428.6,121.5 429.4,122.5 430.1,123.6 430.8,124.7 431.4,125.7 431.9,126.8 432.5,127.7 433.0,128.6 433.5,129.5 433.9,130.5 434.2,131.4 434.5,132.3 434.7,133.3 435.0,134.1 435.4,134.9 435.7,135.7 436.0,136.5 436.3,137.4 436.5,138.2 436.7,139.1 436.8,139.9 436.9,140.8 437.1,141.6 437.4,142.5 437.6,143.4 437.8,144.3 437.9,145.3 438.0,146.2 438.0,147.2 438.0,148.2 437.9,149.2 437.9,150.2 437.8,151.3 437.7,152.4 437.4,153.5 437.2,154.6 436.8,155.7 436.4,156.8 435.9,157.9 435.4,159.0 434.8,160.1 434.1,161.2 433.3,162.2 432.5,163.3 431.6,164.2 430.6,165.2 429.6,166.1 428.5,167.0 427.3,167.9 426.1,168.8 424.8,169.6 423.4,170.1 421.9,170.1 420.5,169.7 419.1,169.2 417.8,168.6 416.5,167.9 415.3,167.0 414.2,165.8 413.3,164.6 412.5,163.4 411.7,162.2 411.0,161.1 410.5,159.9 410.0,158.7 409.6,157.6 409.3,156.4 409.0,155.2 408.8,154.2 408.6,153.2 408.3,152.4 408.0,151.6 407.8,150.7 407.7,149.9 407.6,149.1 407.5,148.3 407.3,147.5 407.2,146.8 407.1,146.1 407.0,145.4 406.9,144.7 406.9,143.9 406.9,143.2" fill="rgb(228,228,228)"/>
<polygon points="407.6,142.5 407.5,141.8 407.4,141.1 407.2,140.4 407.0,139.6 406.9,138.9 406.9,138.1 406.9,137.3 406.9,136.4 407.0,135.6 407.1,134.8 407.3,133.9 407.6,133.1 407.9,132.3 408.2,131.4 408.4,130.4 408.7,129.4 409.0,128.3 409.3,127.1 409.8,126.0 410.3,124.9 411.0,123.8 411.7,122.8 412.6,121.9 413.5,121.0 414.5,120.2 415.6,119.5 416.8,118.9 418.0,118.6 419.2,118.4 420.5,118.2 421.8,118.2 423.0,118.3 424.2,118.9 425.3,119.8 426.3,120.7 427.3,121.7 428.1,122.7 428.8,123.7 429.5,124.8 430.2,125.8 430.7,126.7 431.3,127.7 431.8,128.5 432.3,129.4 432.8,130.2 433.1,131.1 433.5,132.0 433.7,132.9 434.0,133.7 434.3,134.6 434.6,135.3 434.9,136.1 435.2,136.9 435.4,137.6 435.6,138.4 435.8,139.2 435.9,140.1 436.0,140.9 436.2,141.7 436.4,142.5 436.6,143.3 436.7,144.2 436.8,145.1 436.9,146.0 436.9,146.9 436.8,147.8 436.7,148.7 436.6,149.7 436.5,150.7 436.4,151.7 436.2,152.7 435.9,153.7 435.6,154.7 435.3,155.8 434.8,156.8 434.3,157.9 433.8,158.9 433.1,159.9 432.4,160.9 431.7,161.8 430.8,162.8 430.0,163.8 429.0,164.7 428.0,165.6 426.9,166.6 425.8,167.5 424.6,168.3 423.3,168.8 421.9,168.8 420.5,168.3 419.2,167.8 417.9,167.3 416.7,166.5 415.6,165.6 414.6,164.6 413.7,163.4 412.9,162.3 412.2,161.2 411.6,160.0 411.0,158.9 410.5,157.8 410.1,156.7 409.8,155.7 409.6,154.6 409.4,153.6 409.1,152.8 408.8,152.0 408.6,151.2 408.4,150.4 408.2,149.6 408.1,148.8 408.1,148.0 407.9,147.3 407.8,146.6 407.7,145.9 407.6,145.2 407.6,144.5 407.6,143.9 407.6,143.2" fill="rgb(186,186,186)"/>
<polygon points="408.3,142.5 408.2,141.9 408.0,141.2 407.8,140.5 407.7,139.8 407.6,139.0 407.5,138.3 407.5,137.5 407.6,136.7 407.6,135.9 407.8,135.1 407.9,134.3 408.2,133.5 408.4,132.7 408.7,131.9 409.0,131.0 409.3,130.0 409.6,129.0 409.9,127.9 410.3,126.8 410.8,125.7 411.4,124.7 412.1,123.7 412.9,122.8 413.8,121.9 414.8,121.1 415.8,120.4 416.9,119.8 418.1,119.4 419.3,119.2 420.5,119.1 421.7,119.1 422.9,119.3 424.1,120.0 425.1,120.9 426.0,121.9 426.9,122.9 427.6,123.9 428.3,125.0 428.9,126.0 429.5,126.9 430.1,127.7 430.6,128.6 431.1,129.4 431.6,130.2 432.0,131.0 432.4,131.8 432.7,132.6 433.0,133.4 433.2,134.2 433.5,135.0 433.8,135.7 434.1,136.4 434.4,137.2 434.6,137.9 434.8,138.7 434.9,139.4 435.0,140.2 435.1,141.0 435.3,141.7 435.4,142.5 435.6,143.3 435.7,144.1 435.7,144.9 435.7,145.7 435.7,146.6 435.6,147.4 435.5,148.3 435.4,149.1 435.3,150.0 435.1,150.9 434.9,151.9 434.7,152.8 434.4,153.8 434.1,154.7 433.7,155.7 433.3,156.7 432.7,157.6 432.2,158.6 431.5,159.5 430.8,160.4 430.1,161.3 429.3,162.3 428.5,163.3 427.6,164.3 426.6,165.2 425.5,166.2 424.4,167.0 423.1,167.6 421.8,167.5 420.5,167.0 419.2,166.5 418.0,165.9 416.9,165.2 415.9,164.3 414.9,163.3 414.1,162.2 413.3,161.2 412.7,160.1 412.1,159.0 411.6,158.0 411.1,156.9 410.7,155.9 410.4,155.0 410.2,154.0 409.9,153.1 409.7,152.3 409.4,151.5 409.1,150.7 409.0,150.0 408.8,149.2 408.7,148.5 408.6,147.8 408.6,147.1 408.4,146.4 408.4,145.8 408.3,145.1 408.3,144.4 408.3,143.8 408.3,143.1" fill="rgb(152,152,152)"/>
<polygon points="409.0,142.5 408.8,141.9 408.7,141.3 408.5,140.6 408.3,139.9 408.2,139.2 408.2,138.5 408.2,137.8 408.2,137.0 408.3,136.3 408.4,135.5 408.6,134.7 408.8,134.0 409.0,133.2 409.3,132.4 409.6,131.6 409.8,130.7 410.1,129.7 410.5,128.7 410.8,127.6 411.3,126.6 411.8,125.5 412.5,124.5 413.3,123.6 414.1,122.8 415.0,122.0 416.0,121.2 417.0,120.6 418.2,120.2 419.3,120.1 420.5,120.0 421.7,120.0 422.8,120.3 423.9,121.0 424.9,122.0 425.7,123.0 426.5,124.1 427.1,125.2 427.7,126.2 428.3,127.1 428.9,128.0 429.4,128.8 429.9,129.5 430.4,130.2 430.9,131.0 431.3,131.7 431.7,132.4 432.0,133.2 432.3,134.0 432.5,134.7 432.8,135.4 433.0,136.1 433.3,136.8 433.6,137.5 433.8,138.2 433.9,138.9 434.1,139.6 434.1,140.3 434.2,141.1 434.3,141.8 434.5,142.5 434.6,143.2 434.6,144.0 434.6,144.7 434.6,145.5 434.5,146.3 434.4,147.0 434.3,147.8 434.2,148.6 434.0,149.4 433.8,150.2 433.6,151.0 433.5,151.9 433.2,152.8 432.9,153.7 432.6,154.6 432.2,155.5 431.7,156.4 431.2,157.2 430.6,158.1 430.0,159.0 429.4,159.9 428.7,160.9 428.0,161.9 427.1,162.9 426.2,163.9 425.2,164.8 424.2,165.7 423.0,166.3 421.7,166.2 420.5,165.7 419.3,165.2 418.2,164.5 417.1,163.8 416.1,163.0 415.3,162.0 414.5,161.0 413.8,160.0 413.1,159.0 412.6,158.0 412.1,157.0 411.7,156.1 411.3,155.1 411.0,154.2 410.7,153.4 410.5,152.5 410.2,151.8 409.9,151.0 409.7,150.3 409.5,149.6 409.4,148.9 409.3,148.2 409.2,147.5 409.2,146.9 409.1,146.2 409.0,145.6 409.0,144.9 409.0,144.3 409.0,143.7 409.0,143.1" fill="rgb(121,121,121)"/>
<polygon points="409.6,142.5 409.5,141.9 409.3,141.3 409.1,140.7 409.0,140.1 408.9,139.4 408.8,138.7 408.8,138.0 408.8,137.3 408.9,136.6 409.0,135.9 409.2,135.1 409.4,134.4 409.6,133.7 409.9,132.9 410.1,132.1 410.4,131.3 410.7,130.4 411.0,129.4 411.4,128.4 411.8,127.4 412.3,126.4 412.9,125.4 413.6,124.5 414.4,123.7 415.2,122.9 416.2,122.1 417.2,121.5 418.2,121.1 419.4,120.9 420.5,120.9 421.6,121.0 422.7,121.3 423.7,122.1 424.6,123.1 425.4,124.2 426.1,125.3 426.7,126.4 427.2,127.5 427.7,128.3 428.3,129.1 428.8,129.8 429.3,130.4 429.7,131.1 430.2,131.8 430.6,132.4 430.9,133.1 431.2,133.8 431.5,134.5 431.7,135.2 432.0,135.9 432.3,136.5 432.5,137.1 432.7,137.8 432.9,138.5 433.1,139.1 433.2,139.8 433.3,140.5 433.3,141.2 433.4,141.8 433.5,142.5 433.5,143.2 433.5,143.9 433.5,144.6 433.5,145.3 433.4,145.9 433.2,146.6 433.1,147.3 432.9,148.0 432.7,148.7 432.5,149.4 432.4,150.2 432.2,151.0 432.0,151.8 431.8,152.7 431.5,153.5 431.1,154.3 430.7,155.1 430.2,155.9 429.7,156.7 429.2,157.5 428.6,158.5 428.1,159.5 427.4,160.5 426.7,161.6 425.9,162.6 425.0,163.5 424.0,164.4 422.9,165.0 421.7,164.9 420.5,164.4 419.4,163.8 418.3,163.2 417.3,162.5 416.4,161.7 415.6,160.8 414.9,159.8 414.2,158.9 413.6,158.0 413.1,157.0 412.7,156.1 412.3,155.2 411.9,154.3 411.6,153.5 411.3,152.7 411.0,152.0 410.8,151.3 410.5,150.6 410.3,149.9 410.1,149.2 410.0,148.6 409.9,147.9 409.8,147.3 409.8,146.6 409.7,146.0 409.7,145.4 409.7,144.8 409.7,144.2 409.7,143.6 409.7,143.1" fill="rgb(92,92,92)"/>
<polygon points="410.3,142.5 410.1,142.0 410.0,141.4 409.8,140.8 409.7,140.2 409.6,139.6 409.5,138.9 409.5,138.3 409.5,137.6 409.5,136.9 409.6,136.2 409.8,135.5 410.0,134.8 410.2,134.2 410.4,133.5 410.7,132.7 411.0,132.0 411.3,131.1 411.6,130.2 411.9,129.2 412.3,128.2 412.7,127.3 413.3,126.3 413.9,125.4 414.7,124.6 415.5,123.7 416.3,123.0 417.3,122.3 418.3,121.9 419.4,121.8 420.5,121.8 421.6,121.9 422.6,122.3 423.6,123.1 424.4,124.2 425.1,125.3 425.7,126.5 426.2,127.7 426.6,128.7 427.1,129.5 427.6,130.2 428.1,130.8 428.6,131.4 429.0,131.9 429.5,132.5 429.8,133.2 430.2,133.8 430.5,134.4 430.8,135.0 431.0,135.7 431.2,136.3 431.5,136.9 431.7,137.5 431.9,138.1 432.1,138.7 432.2,139.4 432.3,140.0 432.4,140.6 432.4,141.2 432.5,141.9 432.5,142.5 432.5,143.1 432.5,143.8 432.4,144.4 432.3,145.0 432.2,145.6 432.0,146.3 431.9,146.9 431.7,147.5 431.4,148.1 431.2,148.7 431.1,149.4 431.0,150.1 430.8,150.9 430.6,151.6 430.4,152.4 430.1,153.1 429.7,153.9 429.3,154.6 428.8,155.3 428.3,156.1 427.9,157.0 427.4,158.1 426.9,159.1 426.3,160.2 425.5,161.2 424.7,162.2 423.8,163.1 422.7,163.7 421.6,163.6 420.5,163.1 419.5,162.5 418.5,161.8 417.6,161.1 416.7,160.3 415.9,159.5 415.3,158.6 414.6,157.8 414.1,156.9 413.6,156.0 413.2,155.1 412.9,154.3 412.5,153.5 412.2,152.8 411.9,152.1 411.6,151.4 411.3,150.8 411.1,150.1 410.9,149.5 410.7,148.9 410.6,148.2 410.5,147.6 410.4,147.0 410.4,146.4 410.3,145.8 410.3,145.2 410.3,144.7 410.4,144.1 410.4,143.6 410.4,143.0" fill="rgb(64,64,64)"/>
<polygon points="411.0,142.5 410.8,142.0 410.6,141.5 410.5,140.9 410.3,140.3 410.2,139.7 410.2,139.1 410.1,138.5 410.1,137.9 410.2,137.2 410.3,136.6 410.4,135.9 410.6,135.3 410.8,134.6 411.0,134.0 411.3,133.3 411.6,132.6 411.9,131.8 412.1,131.0 412.4,130.0 412.7,129.1 413.2,128.1 413.7,127.2 414.3,126.3 415.0,125.4 415.7,124.6 416.5,123.8 417.4,123.1 418.4,122.7 419.5,122.6 420.5,122.7 421.5,122.8 422.5,123.3 423.4,124.2 424.1,125.3 424.8,126.5 425.3,127.7 425.7,128.9 426.1,130.0 426.5,130.7 427.0,131.3 427.5,131.8 427.9,132.3 428.4,132.8 428.8,133.3 429.1,133.9 429.5,134.4 429.8,135.0 430.0,135.6 430.3,136.2 430.5,136.7 430.7,137.3 430.9,137.9 431.1,138.4 431.2,139.0 431.4,139.6 431.4,140.2 431.5,140.8 431.5,141.3 431.5,141.9 431.5,142.5 431.5,143.1 431.4,143.6 431.3,144.2 431.2,144.8 431.0,145.3 430.9,145.9 430.6,146.4 430.4,146.9 430.2,147.4 430.0,148.0 429.9,148.6 429.8,149.2 429.6,149.9 429.5,150.6 429.3,151.3 429.0,151.9 428.7,152.6 428.3,153.3 427.9,153.9 427.5,154.6 427.2,155.6 426.8,156.6 426.4,157.8 425.8,158.9 425.2,159.9 424.4,160.9 423.6,161.8 422.6,162.4 421.5,162.3 420.5,161.8 419.5,161.1 418.6,160.4 417.8,159.7 417.0,159.0 416.3,158.2 415.6,157.5 415.1,156.6 414.6,155.8 414.1,155.0 413.8,154.2 413.4,153.4 413.1,152.7 412.7,152.1 412.4,151.5 412.1,150.9 411.9,150.3 411.6,149.7 411.4,149.1 411.3,148.5 411.1,147.9 411.1,147.3 411.0,146.7 411.0,146.2 410.9,145.6 411.0,145.1 411.0,144.5 411.1,144.0 411.2,143.5 411.1,143.0" fill="rgb(36,36,36)"/>
<polygon points="411.7,142.5 411.5,142.0 411.3,141.5 411.1,141.0 411.0,140.5 410.9,139.9 410.8,139.4 410.8,138.8 410.8,138.2 410.8,137.6 410.9,137.0 411.0,136.3 411.2,135.7 411.4,135.1 411.6,134.5 411.9,133.9 412.2,133.2 412.5,132.6 412.7,131.7 412.9,130.8 413.2,129.9 413.6,129.0 414.1,128.1 414.6,127.2 415.2,126.3 415.9,125.5 416.7,124.7 417.6,124.0 418.5,123.5 419.5,123.5 420.5,123.6 421.5,123.8 422.4,124.3 423.2,125.3 423.9,126.5 424.5,127.7 424.9,128.9 425.2,130.1 425.5,131.2 425.9,131.9 426.4,132.4 426.8,132.8 427.3,133.2 427.7,133.6 428.0,134.1 428.4,134.6 428.7,135.1 429.0,135.6 429.3,136.1 429.5,136.6 429.7,137.2 429.9,137.7 430.1,138.2 430.3,138.7 430.4,139.3 430.5,139.8 430.6,140.4 430.6,140.9 430.6,141.4 430.6,142.0 430.5,142.5 430.4,143.0 430.3,143.5 430.2,144.0 430.0,144.5 429.9,145.0 429.7,145.5 429.4,145.9 429.2,146.4 428.9,146.8 428.7,147.2 428.6,147.8 428.5,148.3 428.4,148.9 428.3,149.5 428.1,150.1 427.9,150.7 427.7,151.4 427.4,152.0 427.0,152.5 426.7,153.2 426.4,154.1 426.2,155.2 425.8,156.4 425.4,157.5 424.8,158.6 424.1,159.6 423.4,160.5 422.5,161.1 421.5,161.1 420.5,160.5 419.6,159.8 418.8,159.1 418.0,158.4 417.3,157.7 416.6,157.0 416.0,156.3 415.5,155.5 415.0,154.8 414.6,154.0 414.3,153.2 414.0,152.5 413.7,151.9 413.3,151.4 413.0,150.9 412.7,150.3 412.4,149.8 412.2,149.2 412.0,148.7 411.9,148.1 411.7,147.6 411.6,147.0 411.6,146.5 411.6,145.9 411.6,145.4 411.6,144.9 411.7,144.4 411.8,143.9 411.9,143.4 411.8,143.0" fill="none" stroke="#fff" stroke-width="1.15"/>
<polygon points="411.7,142.5 411.5,142.0 411.3,141.5 411.1,141.0 411.0,140.5 410.9,139.9 410.8,139.4 410.8,138.8 410.8,138.2 410.8,137.6 410.9,137.0 411.0,136.3 411.2,135.7 411.4,135.1 411.6,134.5 411.9,133.9 412.2,133.2 412.5,132.6 412.7,131.7 412.9,130.8 413.2,129.9 413.6,129.0 414.1,128.1 414.6,127.2 415.2,126.3 415.9,125.5 416.7,124.7 417.6,124.0 418.5,123.5 419.5,123.5 420.5,123.6 421.5,123.8 422.4,124.3 423.2,125.3 423.9,126.5 424.5,127.7 424.9,128.9 425.2,130.1 425.5,131.2 425.9,131.9 426.4,132.4 426.8,132.8 427.3,133.2 427.7,133.6 428.0,134.1 428.4,134.6 428.7,135.1 429.0,135.6 429.3,136.1 429.5,136.6 429.7,137.2 429.9,137.7 430.1,138.2 430.3,138.7 430.4,139.3 430.5,139.8 430.6,140.4 430.6,140.9 430.6,141.4 430.6,142.0 430.5,142.5 430.4,143.0 430.3,143.5 430.2,144.0 430.0,144.5 429.9,145.0 429.7,145.5 429.4,145.9 429.2,146.4 428.9,146.8 428.7,147.2 428.6,147.8 428.5,148.3 428.4,148.9 428.3,149.5 428.1,150.1 427.9,150.7 427.7,151.4 427.4,152.0 427.0,152.5 426.7,153.2 426.4,154.1 426.2,155.2 425.8,156.4 425.4,157.5 424.8,158.6 424.1,159.6 423.4,160.5 422.5,161.1 421.5,161.1 420.5,160.5 419.6,159.8 418.8,159.1 418.0,158.4 417.3,157.7 416.6,157.0 416.0,156.3 415.5,155.5 415.0,154.8 414.6,154.0 414.3,153.2 414.0,152.5 413.7,151.9 413.3,151.4 413.0,150.9 412.7,150.3 412.4,149.8 412.2,149.2 412.0,148.7 411.9,148.1 411.7,147.6 411.6,147.0 411.6,146.5 411.6,145.9 411.6,145.4 411.6,144.9 411.7,144.4 411.8,143.9 411.9,143.4 411.8,143.0" fill="rgb(200,200,200)"/>
<polygon points="412.7,142.5 412.5,142.1 412.3,141.6 412.2,141.2 412.0,140.7 412.0,140.2 411.9,139.7 411.9,139.2 411.9,138.7 411.9,138.1 412.0,137.6 412.1,137.0 412.2,136.5 412.4,135.9 412.6,135.4 412.8,134.8 413.1,134.3 413.3,133.7 413.5,132.9 413.8,132.1 414.0,131.3 414.4,130.5 414.8,129.7 415.3,128.9 415.8,128.1 416.4,127.4 417.1,126.7 417.9,126.0 418.7,125.6 419.6,125.6 420.5,125.7 421.4,125.8 422.2,126.3 422.9,127.2 423.5,128.2 424.0,129.3 424.4,130.4 424.7,131.5 425.0,132.5 425.3,133.1 425.7,133.5 426.1,133.8 426.5,134.2 426.9,134.6 427.2,135.0 427.5,135.5 427.8,135.9 428.1,136.4 428.3,136.8 428.5,137.3 428.7,137.8 428.9,138.2 429.1,138.7 429.2,139.2 429.3,139.6 429.4,140.1 429.4,140.6 429.5,141.1 429.5,141.6 429.5,142.0 429.4,142.5 429.3,143.0 429.2,143.4 429.1,143.9 429.0,144.3 428.8,144.7 428.6,145.1 428.4,145.5 428.2,145.9 428.0,146.3 427.8,146.7 427.7,147.2 427.6,147.7 427.6,148.2 427.4,148.8 427.3,149.3 427.1,149.8 426.9,150.4 426.6,150.9 426.3,151.4 426.0,152.0 425.8,152.8 425.5,153.8 425.2,154.8 424.8,155.8 424.3,156.8 423.7,157.7 423.0,158.5 422.2,159.1 421.4,159.0 420.5,158.5 419.7,157.9 419.0,157.2 418.3,156.6 417.6,156.0 417.1,155.4 416.5,154.7 416.1,154.1 415.6,153.4 415.3,152.7 415.0,152.0 414.7,151.4 414.4,150.9 414.1,150.4 413.8,149.9 413.6,149.4 413.3,149.0 413.1,148.5 413.0,148.0 412.8,147.5 412.7,147.0 412.6,146.5 412.6,146.0 412.6,145.5 412.6,145.1 412.6,144.6 412.7,144.2 412.7,143.7 412.8,143.3 412.8,142.9" fill="rgb(136,136,136)"/>
<polygon points="413.6,142.5 413.5,142.1 413.3,141.7 413.2,141.3 413.1,140.9 413.0,140.5 413.0,140.1 412.9,139.6 412.9,139.1 413.0,138.7 413.0,138.2 413.1,137.7 413.2,137.2 413.4,136.7 413.6,136.3 413.8,135.8 414.0,135.3 414.2,134.8 414.4,134.1 414.6,133.4 414.8,132.7 415.1,132.0 415.5,131.3 415.9,130.6 416.4,129.9 417.0,129.3 417.6,128.6 418.2,128.1 418.9,127.7 419.7,127.7 420.5,127.8 421.3,127.9 422.0,128.3 422.6,129.1 423.2,130.0 423.6,131.0 423.9,131.9 424.2,132.9 424.4,133.7 424.7,134.3 425.1,134.6 425.4,134.9 425.8,135.3 426.1,135.6 426.4,136.0 426.6,136.4 426.9,136.7 427.1,137.1 427.3,137.5 427.5,137.9 427.7,138.4 427.8,138.8 428.0,139.2 428.1,139.6 428.2,140.0 428.3,140.4 428.3,140.8 428.4,141.3 428.4,141.7 428.3,142.1 428.3,142.5 428.2,142.9 428.2,143.3 428.0,143.7 427.9,144.1 427.8,144.5 427.6,144.8 427.4,145.2 427.2,145.5 427.0,145.8 426.9,146.2 426.8,146.6 426.8,147.0 426.7,147.5 426.6,148.0 426.4,148.4 426.3,148.9 426.1,149.4 425.8,149.9 425.6,150.3 425.3,150.8 425.1,151.5 424.9,152.4 424.6,153.3 424.3,154.2 423.9,155.0 423.3,155.8 422.7,156.5 422.0,157.0 421.3,156.9 420.5,156.5 419.8,156.0 419.1,155.4 418.5,154.8 418.0,154.3 417.5,153.8 417.0,153.2 416.6,152.6 416.3,152.0 415.9,151.4 415.7,150.8 415.4,150.3 415.2,149.8 414.9,149.4 414.7,149.0 414.4,148.6 414.2,148.2 414.0,147.7 413.9,147.3 413.8,146.9 413.7,146.4 413.6,146.0 413.6,145.6 413.6,145.2 413.6,144.8 413.6,144.4 413.6,144.0 413.7,143.6 413.8,143.2 413.8,142.9" fill="rgb(110,110,110)"/>
<polygon points="414.6,142.5 414.5,142.2 414.3,141.9 414.2,141.5 414.2,141.2 414.1,140.8 414.0,140.4 414.0,140.0 414.0,139.6 414.0,139.2 414.1,138.8 414.2,138.4 414.3,138.0 414.4,137.6 414.6,137.2 414.7,136.7 414.9,136.3 415.1,135.9 415.3,135.3 415.4,134.7 415.7,134.1 415.9,133.5 416.2,132.9 416.6,132.3 417.0,131.7 417.5,131.2 418.0,130.6 418.5,130.1 419.2,129.9 419.8,129.8 420.5,129.9 421.2,130.0 421.8,130.3 422.3,131.0 422.8,131.8 423.1,132.6 423.4,133.4 423.7,134.3 423.9,135.0 424.1,135.4 424.4,135.7 424.7,136.0 425.0,136.3 425.3,136.6 425.5,136.9 425.8,137.2 426.0,137.6 426.2,137.9 426.3,138.3 426.5,138.6 426.7,138.9 426.8,139.3 426.9,139.6 427.0,140.0 427.1,140.4 427.2,140.7 427.2,141.1 427.2,141.4 427.2,141.8 427.2,142.1 427.2,142.5 427.1,142.8 427.1,143.2 427.0,143.5 426.9,143.9 426.7,144.2 426.6,144.5 426.5,144.8 426.3,145.1 426.1,145.4 426.0,145.7 425.9,146.0 425.9,146.4 425.8,146.8 425.7,147.2 425.6,147.6 425.5,148.0 425.3,148.4 425.1,148.8 424.8,149.2 424.6,149.6 424.4,150.2 424.3,151.0 424.0,151.7 423.8,152.5 423.4,153.2 422.9,153.9 422.4,154.5 421.8,154.9 421.1,154.9 420.5,154.5 419.9,154.0 419.3,153.5 418.8,153.1 418.4,152.6 417.9,152.1 417.5,151.7 417.2,151.2 416.9,150.7 416.6,150.2 416.4,149.6 416.2,149.2 415.9,148.8 415.7,148.4 415.5,148.1 415.3,147.7 415.1,147.3 415.0,147.0 414.8,146.6 414.7,146.2 414.7,145.9 414.6,145.5 414.6,145.1 414.5,144.8 414.6,144.4 414.6,144.1 414.6,143.7 414.7,143.4 414.7,143.1 414.7,142.8" fill="rgb(90,90,90)"/>
<polygon points="415.6,142.5 415.5,142.2 415.4,142.0 415.3,141.7 415.2,141.4 415.2,141.1 415.1,140.8 415.1,140.4 415.1,140.1 415.1,139.8 415.2,139.4 415.2,139.1 415.3,138.7 415.4,138.4 415.5,138.0 415.7,137.7 415.9,137.4 416.0,137.0 416.2,136.5 416.3,136.0 416.5,135.5 416.7,135.0 416.9,134.5 417.2,134.0 417.6,133.5 418.0,133.0 418.4,132.6 418.9,132.2 419.4,132.0 419.9,131.9 420.5,132.0 421.0,132.1 421.6,132.4 422.0,132.9 422.4,133.6 422.7,134.3 423.0,134.9 423.1,135.6 423.3,136.2 423.5,136.6 423.8,136.9 424.0,137.1 424.3,137.3 424.5,137.6 424.7,137.8 424.9,138.1 425.1,138.4 425.2,138.7 425.4,139.0 425.5,139.2 425.6,139.5 425.7,139.8 425.8,140.1 425.9,140.4 426.0,140.7 426.1,141.0 426.1,141.3 426.1,141.6 426.1,141.9 426.1,142.2 426.1,142.5 426.0,142.8 426.0,143.1 425.9,143.4 425.8,143.6 425.7,143.9 425.6,144.2 425.5,144.4 425.3,144.6 425.2,144.9 425.0,145.1 425.0,145.4 425.0,145.7 424.9,146.1 424.8,146.4 424.7,146.7 424.6,147.1 424.5,147.4 424.3,147.8 424.1,148.1 423.9,148.5 423.8,149.0 423.6,149.6 423.5,150.2 423.2,150.8 422.9,151.4 422.5,152.0 422.1,152.5 421.6,152.9 421.0,152.8 420.5,152.5 420.0,152.1 419.5,151.7 419.1,151.3 418.7,150.9 418.3,150.5 418.0,150.1 417.7,149.7 417.5,149.3 417.2,148.9 417.1,148.5 416.9,148.1 416.7,147.7 416.5,147.4 416.3,147.1 416.2,146.8 416.0,146.5 415.9,146.2 415.8,145.9 415.7,145.6 415.6,145.3 415.6,145.0 415.5,144.7 415.5,144.4 415.5,144.1 415.6,143.8 415.6,143.5 415.7,143.3 415.7,143.0 415.7,142.8" fill="rgb(73,73,73)"/>
<polygon points="416.6,142.5 416.5,142.3 416.4,142.1 416.3,141.8 416.3,141.6 416.2,141.4 416.2,141.1 416.2,140.8 416.2,140.6 416.2,140.3 416.2,140.0 416.3,139.8 416.4,139.5 416.4,139.2 416.5,138.9 416.7,138.7 416.8,138.4 416.9,138.1 417.0,137.7 417.1,137.3 417.3,136.9 417.4,136.5 417.6,136.1 417.9,135.7 418.2,135.3 418.5,134.9 418.8,134.6 419.2,134.3 419.6,134.1 420.1,134.0 420.5,134.1 420.9,134.2 421.4,134.4 421.7,134.8 422.0,135.4 422.3,135.9 422.5,136.5 422.6,137.0 422.7,137.5 422.9,137.8 423.1,138.0 423.3,138.2 423.5,138.4 423.7,138.6 423.9,138.8 424.0,139.0 424.2,139.2 424.3,139.4 424.4,139.7 424.5,139.9 424.6,140.1 424.7,140.4 424.8,140.6 424.8,140.8 424.9,141.1 424.9,141.3 425.0,141.5 425.0,141.8 425.0,142.0 425.0,142.3 425.0,142.5 424.9,142.7 424.9,143.0 424.8,143.2 424.7,143.4 424.7,143.6 424.6,143.8 424.5,144.0 424.4,144.2 424.2,144.4 424.1,144.6 424.1,144.8 424.1,145.1 424.0,145.4 424.0,145.6 423.9,145.9 423.8,146.2 423.7,146.4 423.6,146.7 423.4,147.0 423.2,147.3 423.1,147.7 423.0,148.2 422.9,148.7 422.7,149.2 422.4,149.7 422.1,150.1 421.8,150.5 421.4,150.8 420.9,150.7 420.5,150.5 420.1,150.2 419.7,149.9 419.4,149.5 419.1,149.2 418.8,148.9 418.5,148.6 418.3,148.3 418.1,147.9 417.9,147.6 417.7,147.3 417.6,146.9 417.5,146.7 417.3,146.4 417.2,146.2 417.0,146.0 416.9,145.7 416.8,145.5 416.7,145.2 416.7,145.0 416.6,144.8 416.6,144.5 416.5,144.3 416.5,144.0 416.5,143.8 416.6,143.6 416.6,143.3 416.6,143.1 416.7,142.9 416.7,142.7" fill="rgb(58,58,58)"/>
<polygon points="417.6,142.5 417.5,142.3 417.4,142.2 417.4,142.0 417.3,141.8 417.3,141.6 417.3,141.5 417.3,141.3 417.3,141.1 417.3,140.9 417.3,140.7 417.3,140.4 417.4,140.2 417.5,140.0 417.5,139.8 417.6,139.6 417.7,139.4 417.8,139.2 417.9,138.9 418.0,138.6 418.1,138.3 418.2,138.0 418.4,137.7 418.5,137.4 418.7,137.1 419.0,136.8 419.2,136.6 419.5,136.3 419.8,136.2 420.2,136.2 420.5,136.2 420.8,136.3 421.1,136.4 421.4,136.8 421.6,137.2 421.8,137.6 422.0,138.0 422.1,138.4 422.2,138.7 422.3,139.0 422.5,139.1 422.6,139.3 422.8,139.4 422.9,139.5 423.0,139.7 423.1,139.9 423.2,140.0 423.3,140.2 423.4,140.4 423.5,140.5 423.6,140.7 423.6,140.9 423.7,141.1 423.8,141.2 423.8,141.4 423.8,141.6 423.9,141.8 423.9,142.0 423.9,142.1 423.9,142.3 423.8,142.5 423.8,142.7 423.8,142.8 423.7,143.0 423.7,143.2 423.6,143.3 423.6,143.5 423.5,143.6 423.4,143.8 423.3,143.9 423.2,144.1 423.2,144.3 423.2,144.4 423.1,144.6 423.1,144.8 423.0,145.0 423.0,145.2 422.9,145.5 422.8,145.7 422.7,145.8 422.6,146.1 422.5,146.4 422.4,146.7 422.3,147.1 422.1,147.5 421.9,147.9 421.7,148.2 421.5,148.5 421.2,148.7 420.8,148.7 420.5,148.5 420.2,148.3 419.9,148.0 419.7,147.8 419.4,147.6 419.2,147.3 419.0,147.1 418.8,146.8 418.7,146.6 418.5,146.3 418.4,146.1 418.3,145.8 418.2,145.6 418.1,145.5 418.0,145.3 417.9,145.1 417.8,144.9 417.7,144.7 417.7,144.6 417.6,144.4 417.6,144.2 417.5,144.0 417.5,143.8 417.5,143.6 417.5,143.5 417.5,143.3 417.6,143.1 417.6,143.0 417.6,142.8 417.6,142.7" fill="rgb(44,44,44)"/>
<polygon points="418.5,142.5 418.5,142.4 418.4,142.3 418.4,142.2 418.4,142.1 418.4,141.9 418.3,141.8 418.3,141.7 418.3,141.5 418.3,141.4 418.4,141.3 418.4,141.1 418.4,141.0 418.5,140.9 418.5,140.7 418.6,140.6 418.6,140.4 418.7,140.3 418.8,140.1 418.8,139.9 418.9,139.7 419.0,139.5 419.1,139.3 419.2,139.1 419.3,138.9 419.5,138.7 419.7,138.5 419.8,138.4 420.1,138.3 420.3,138.3 420.5,138.3 420.7,138.3 420.9,138.4 421.1,138.7 421.3,138.9 421.4,139.2 421.5,139.5 421.6,139.8 421.6,140.0 421.7,140.1 421.8,140.2 421.9,140.3 422.0,140.4 422.1,140.5 422.2,140.6 422.3,140.7 422.3,140.9 422.4,141.0 422.4,141.1 422.5,141.2 422.6,141.3 422.6,141.4 422.6,141.5 422.7,141.7 422.7,141.8 422.7,141.9 422.7,142.0 422.7,142.1 422.7,142.3 422.7,142.4 422.7,142.5 422.7,142.6 422.7,142.7 422.7,142.8 422.6,143.0 422.6,143.1 422.5,143.2 422.5,143.3 422.4,143.4 422.4,143.5 422.3,143.6 422.3,143.7 422.3,143.8 422.3,143.9 422.2,144.1 422.2,144.2 422.2,144.3 422.1,144.5 422.0,144.6 421.9,144.7 421.9,144.9 421.8,145.1 421.8,145.3 421.7,145.6 421.6,145.8 421.5,146.1 421.3,146.3 421.1,146.5 420.9,146.6 420.7,146.6 420.5,146.5 420.3,146.3 420.1,146.2 419.9,146.0 419.8,145.9 419.6,145.7 419.5,145.6 419.4,145.4 419.3,145.2 419.2,145.1 419.1,144.9 419.1,144.7 419.0,144.6 418.9,144.5 418.8,144.4 418.8,144.2 418.7,144.1 418.7,144.0 418.6,143.9 418.6,143.7 418.6,143.6 418.5,143.5 418.5,143.4 418.5,143.3 418.5,143.1 418.5,143.0 418.5,142.9 418.6,142.8 418.6,142.7 418.6,142.6" fill="rgb(32,32,32)"/>
<polygon points="419.5,142.5 419.5,142.4 419.5,142.4 419.5,142.3 419.4,142.3 419.4,142.2 419.4,142.2 419.4,142.1 419.4,142.0 419.4,142.0 419.4,141.9 419.4,141.8 419.5,141.7 419.5,141.7 419.5,141.6 419.5,141.5 419.6,141.5 419.6,141.4 419.6,141.3 419.7,141.2 419.7,141.1 419.7,141.0 419.8,140.9 419.8,140.8 419.9,140.7 420.0,140.6 420.1,140.5 420.2,140.4 420.3,140.4 420.4,140.4 420.5,140.4 420.6,140.4 420.7,140.5 420.8,140.6 420.9,140.7 420.9,140.9 421.0,141.0 421.0,141.1 421.1,141.2 421.1,141.3 421.2,141.4 421.2,141.4 421.3,141.5 421.3,141.5 421.3,141.6 421.4,141.6 421.4,141.7 421.4,141.7 421.5,141.8 421.5,141.8 421.5,141.9 421.5,142.0 421.6,142.0 421.6,142.1 421.6,142.1 421.6,142.2 421.6,142.3 421.6,142.3 421.6,142.4 421.6,142.4 421.6,142.5 421.6,142.6 421.6,142.6 421.6,142.7 421.6,142.7 421.5,142.8 421.5,142.8 421.5,142.9 421.5,142.9 421.4,143.0 421.4,143.0 421.4,143.1 421.4,143.1 421.4,143.2 421.4,143.3 421.3,143.3 421.3,143.4 421.3,143.5 421.3,143.6 421.2,143.6 421.2,143.7 421.2,143.8 421.1,143.9 421.1,144.0 421.0,144.2 421.0,144.3 420.9,144.4 420.8,144.5 420.7,144.6 420.6,144.6 420.5,144.5 420.4,144.4 420.3,144.3 420.2,144.3 420.1,144.2 420.1,144.1 420.0,144.0 419.9,143.9 419.9,143.9 419.8,143.8 419.8,143.7 419.8,143.6 419.7,143.5 419.7,143.5 419.7,143.4 419.6,143.4 419.6,143.3 419.6,143.2 419.6,143.2 419.5,143.1 419.5,143.1 419.5,143.0 419.5,142.9 419.5,142.9 419.5,142.8 419.5,142.8 419.5,142.7 419.5,142.7 419.5,142.6 419.5,142.6" fill="rgb(20,20,20)"/>
<rect x="357.8" y="24.4" width="245" height="244" fill="none" stroke="#333" stroke-width="1"/>
<line x1="443.3" y1="24.4" x2="443.3" y2="268.4" stroke="#000" stroke-width="1.5" />
<line x1="357.8" y1="112.8" x2="602.8" y2="112.8" stroke="#000" stroke-width="1.5" />
<text x="362.3" y="37.3" font-size="9" font-weight="normal" text-anchor="start" fill="#222" >Q3</text>
<text x="362.3" y="51.8" font-size="9" font-weight="normal" text-anchor="start" fill="#222" >2.58</text>
<text x="597.3" y="37.3" font-size="9" font-weight="normal" text-anchor="end" fill="#222" >Q2</text>
<text x="597.3" y="51.8" font-size="9" font-weight="normal" text-anchor="end" fill="#222" >0.42</text>
<text x="362.3" y="249.3" font-size="9" font-weight="normal" text-anchor="start" fill="#222" >Q4</text>
<text x="362.3" y="263.5" font-size="9" font-weight="normal" text-anchor="start" fill="#222" >80.0</text>
<text x="597.3" y="249.3" font-size="9" font-weight="normal" text-anchor="end" fill="#222" >Q1</text>
<text x="597.3" y="263.5" font-size="9" font-weight="normal" text-anchor="end" fill="#222" >17.0</text>
<line x1="363.3" y1="268.5" x2="363.3" y2="274.5" stroke="#111" stroke-width="1.0" />
<line x1="407.6" y1="268.5" x2="407.6" y2="274.5" stroke="#111" stroke-width="1.0" />
<line x1="388.6" y1="268.5" x2="388.6" y2="271.7" stroke="#111" stroke-width="0.9" />
<line x1="381.6" y1="268.5" x2="381.6" y2="271.7" stroke="#111" stroke-width="0.9" />
<line x1="391.2" y1="268.5" x2="391.2" y2="271.7" stroke="#111" stroke-width="0.9" />
<line x1="379.0" y1="268.5" x2="379.0" y2="271.7" stroke="#111" stroke-width="0.9" />
<line x1="393.6" y1="268.5" x2="393.6" y2="271.7" stroke="#111" stroke-width="0.9" />
<line x1="376.7" y1="268.5" x2="376.7" y2="271.7" stroke="#111" stroke-width="0.9" />
<line x1="395.9" y1="268.5" x2="395.9" y2="271.7" stroke="#111" stroke-width="0.9" />
<line x1="374.6" y1="268.5" x2="374.6" y2="271.7" stroke="#111" stroke-width="0.9" />
<line x1="398.0" y1="268.5" x2="398.0" y2="271.7" stroke="#111" stroke-width="0.9" />
<line x1="372.5" y1="268.5" x2="372.5" y2="271.7" stroke="#111" stroke-width="0.9" />
<line x1="400.0" y1="268.5" x2="400.0" y2="271.7" stroke="#111" stroke-width="0.9" />
<line x1="370.6" y1="268.5" x2="370.6" y2="271.7" stroke="#111" stroke-width="0.9" />
<line x1="402.0" y1="268.5" x2="402.0" y2="271.7" stroke="#111" stroke-width="0.9" />
<line x1="368.7" y1="268.5" x2="368.7" y2="271.7" stroke="#111" stroke-width="0.9" />
<line x1="403.9" y1="268.5" x2="403.9" y2="271.7" stroke="#111" stroke-width="0.9" />
<line x1="366.8" y1="268.5" x2="366.8" y2="271.7" stroke="#111" stroke-width="0.9" />
<line x1="405.8" y1="268.5" x2="405.8" y2="271.7" stroke="#111" stroke-width="0.9" />
<line x1="365.1" y1="268.5" x2="365.1" y2="271.7" stroke="#111" stroke-width="0.9" />
<rect x="382.4" y="268.5" width="5.2" height="5.5" fill="#000"/>
<line x1="425.2" y1="268.5" x2="425.2" y2="271.7" stroke="#111" stroke-width="0.9" />
<line x1="435.6" y1="268.5" x2="435.6" y2="271.7" stroke="#111" stroke-width="0.9" />
<line x1="442.9" y1="268.5" x2="442.9" y2="271.7" stroke="#111" stroke-width="0.9" />
<line x1="448.6" y1="268.5" x2="448.6" y2="271.7" stroke="#111" stroke-width="0.9" />
<line x1="453.2" y1="268.5" x2="453.2" y2="271.7" stroke="#111" stroke-width="0.9" />
<line x1="457.1" y1="268.5" x2="457.1" y2="271.7" stroke="#111" stroke-width="0.9" />
<line x1="460.5" y1="268.5" x2="460.5" y2="271.7" stroke="#111" stroke-width="0.9" />
<line x1="463.5" y1="268.5" x2="463.5" y2="271.7" stroke="#111" stroke-width="0.9" />
<line x1="466.2" y1="268.5" x2="466.2" y2="274.5" stroke="#111" stroke-width="1.1" />
<line x1="483.3" y1="268.5" x2="483.3" y2="271.7" stroke="#111" stroke-width="0.9" />
<line x1="493.3" y1="268.5" x2="493.3" y2="271.7" stroke="#111" stroke-width="0.9" />
<line x1="500.4" y1="268.5" x2="500.4" y2="271.7" stroke="#111" stroke-width="0.9" />
<line x1="505.9" y1="268.5" x2="505.9" y2="271.7" stroke="#111" stroke-width="0.9" />
<line x1="510.4" y1="268.5" x2="510.4" y2="271.7" stroke="#111" stroke-width="0.9" />
<line x1="514.2" y1="268.5" x2="514.2" y2="271.7" stroke="#111" stroke-width="0.9" />
<line x1="517.5" y1="268.5" x2="517.5" y2="271.7" stroke="#111" stroke-width="0.9" />
<line x1="520.4" y1="268.5" x2="520.4" y2="271.7" stroke="#111" stroke-width="0.9" />
<line x1="523.0" y1="268.5" x2="523.0" y2="274.5" stroke="#111" stroke-width="1.1" />
<line x1="539.7" y1="268.5" x2="539.7" y2="271.7" stroke="#111" stroke-width="0.9" />
<line x1="549.5" y1="268.5" x2="549.5" y2="271.7" stroke="#111" stroke-width="0.9" />
<line x1="556.4" y1="268.5" x2="556.4" y2="271.7" stroke="#111" stroke-width="0.9" />
<line x1="561.8" y1="268.5" x2="561.8" y2="271.7" stroke="#111" stroke-width="0.9" />
<line x1="566.2" y1="268.5" x2="566.2" y2="271.7" stroke="#111" stroke-width="0.9" />
<line x1="569.9" y1="268.5" x2="569.9" y2="271.7" stroke="#111" stroke-width="0.9" />
<line x1="573.1" y1="268.5" x2="573.1" y2="271.7" stroke="#111" stroke-width="0.9" />
<line x1="576.0" y1="268.5" x2="576.0" y2="271.7" stroke="#111" stroke-width="0.9" />
<line x1="578.5" y1="268.5" x2="578.5" y2="274.5" stroke="#111" stroke-width="1.1" />
<line x1="595.1" y1="268.5" x2="595.1" y2="271.7" stroke="#111" stroke-width="0.9" />
<text x="385.0" y="286.1" font-size="10" font-weight="normal" text-anchor="middle" fill="#111" textLength="5.4" lengthAdjust="spacingAndGlyphs" >0</text>
<text x="459.1" y="286.1" font-size="10" fill="#000" stroke="#000" stroke-width="0.2" textLength="9.6" lengthAdjust="spacingAndGlyphs">10</text>
<text x="469.7" y="280.9" font-size="6.8" fill="#000" stroke="#000" stroke-width="0.15">3</text>
<text x="515.9" y="286.1" font-size="10" fill="#000" stroke="#000" stroke-width="0.2" textLength="9.6" lengthAdjust="spacingAndGlyphs">10</text>
<text x="526.5" y="280.9" font-size="6.8" fill="#000" stroke="#000" stroke-width="0.15">4</text>
<text x="570.6" y="286.1" font-size="10" fill="#000" stroke="#000" stroke-width="0.2" textLength="9.6" lengthAdjust="spacingAndGlyphs">10</text>
<text x="581.2" y="280.9" font-size="6.8" fill="#000" stroke="#000" stroke-width="0.15">5</text>
<line x1="351.8" y1="46.9" x2="357.8" y2="46.9" stroke="#111" stroke-width="1.1" />
<line x1="354.6" y1="30.3" x2="357.8" y2="30.3" stroke="#111" stroke-width="0.9" />
<line x1="351.8" y1="102.5" x2="357.8" y2="102.5" stroke="#111" stroke-width="1.1" />
<line x1="354.6" y1="85.8" x2="357.8" y2="85.8" stroke="#111" stroke-width="0.9" />
<line x1="354.6" y1="76.0" x2="357.8" y2="76.0" stroke="#111" stroke-width="0.9" />
<line x1="354.6" y1="69.0" x2="357.8" y2="69.0" stroke="#111" stroke-width="0.9" />
<line x1="354.6" y1="63.6" x2="357.8" y2="63.6" stroke="#111" stroke-width="0.9" />
<line x1="354.6" y1="59.2" x2="357.8" y2="59.2" stroke="#111" stroke-width="0.9" />
<line x1="354.6" y1="55.5" x2="357.8" y2="55.5" stroke="#111" stroke-width="0.9" />
<line x1="354.6" y1="52.3" x2="357.8" y2="52.3" stroke="#111" stroke-width="0.9" />
<line x1="354.6" y1="49.4" x2="357.8" y2="49.4" stroke="#111" stroke-width="0.9" />
<line x1="351.8" y1="159.5" x2="357.8" y2="159.5" stroke="#111" stroke-width="1.1" />
<line x1="354.6" y1="142.3" x2="357.8" y2="142.3" stroke="#111" stroke-width="0.9" />
<line x1="354.6" y1="132.3" x2="357.8" y2="132.3" stroke="#111" stroke-width="0.9" />
<line x1="354.6" y1="125.2" x2="357.8" y2="125.2" stroke="#111" stroke-width="0.9" />
<line x1="354.6" y1="119.7" x2="357.8" y2="119.7" stroke="#111" stroke-width="0.9" />
<line x1="354.6" y1="115.1" x2="357.8" y2="115.1" stroke="#111" stroke-width="0.9" />
<line x1="354.6" y1="111.3" x2="357.8" y2="111.3" stroke="#111" stroke-width="0.9" />
<line x1="354.6" y1="108.0" x2="357.8" y2="108.0" stroke="#111" stroke-width="0.9" />
<line x1="354.6" y1="105.1" x2="357.8" y2="105.1" stroke="#111" stroke-width="0.9" />
<line x1="351.8" y1="217.7" x2="357.8" y2="217.7" stroke="#111" stroke-width="1.1" />
<line x1="354.6" y1="200.2" x2="357.8" y2="200.2" stroke="#111" stroke-width="0.9" />
<line x1="354.6" y1="189.9" x2="357.8" y2="189.9" stroke="#111" stroke-width="0.9" />
<line x1="354.6" y1="182.7" x2="357.8" y2="182.7" stroke="#111" stroke-width="0.9" />
<line x1="354.6" y1="177.0" x2="357.8" y2="177.0" stroke="#111" stroke-width="0.9" />
<line x1="354.6" y1="172.4" x2="357.8" y2="172.4" stroke="#111" stroke-width="0.9" />
<line x1="354.6" y1="168.5" x2="357.8" y2="168.5" stroke="#111" stroke-width="0.9" />
<line x1="354.6" y1="165.1" x2="357.8" y2="165.1" stroke="#111" stroke-width="0.9" />
<line x1="354.6" y1="162.2" x2="357.8" y2="162.2" stroke="#111" stroke-width="0.9" />
<line x1="354.6" y1="236.9" x2="357.8" y2="236.9" stroke="#111" stroke-width="0.9" />
<line x1="354.6" y1="243.9" x2="357.8" y2="243.9" stroke="#111" stroke-width="0.9" />
<line x1="354.6" y1="234.2" x2="357.8" y2="234.2" stroke="#111" stroke-width="0.9" />
<line x1="354.6" y1="246.4" x2="357.8" y2="246.4" stroke="#111" stroke-width="0.9" />
<line x1="354.6" y1="231.8" x2="357.8" y2="231.8" stroke="#111" stroke-width="0.9" />
<line x1="354.6" y1="248.6" x2="357.8" y2="248.6" stroke="#111" stroke-width="0.9" />
<line x1="354.6" y1="229.5" x2="357.8" y2="229.5" stroke="#111" stroke-width="0.9" />
<line x1="354.6" y1="250.7" x2="357.8" y2="250.7" stroke="#111" stroke-width="0.9" />
<line x1="354.6" y1="227.4" x2="357.8" y2="227.4" stroke="#111" stroke-width="0.9" />
<line x1="354.6" y1="252.7" x2="357.8" y2="252.7" stroke="#111" stroke-width="0.9" />
<line x1="354.6" y1="225.3" x2="357.8" y2="225.3" stroke="#111" stroke-width="0.9" />
<line x1="354.6" y1="254.6" x2="357.8" y2="254.6" stroke="#111" stroke-width="0.9" />
<line x1="354.6" y1="223.4" x2="357.8" y2="223.4" stroke="#111" stroke-width="0.9" />
<line x1="354.6" y1="256.4" x2="357.8" y2="256.4" stroke="#111" stroke-width="0.9" />
<line x1="354.6" y1="221.4" x2="357.8" y2="221.4" stroke="#111" stroke-width="0.9" />
<line x1="354.6" y1="258.2" x2="357.8" y2="258.2" stroke="#111" stroke-width="0.9" />
<line x1="354.6" y1="219.5" x2="357.8" y2="219.5" stroke="#111" stroke-width="0.9" />
<line x1="354.6" y1="260.0" x2="357.8" y2="260.0" stroke="#111" stroke-width="0.9" />
<line x1="351.8" y1="261.7" x2="357.8" y2="261.7" stroke="#111" stroke-width="1.1" />
<rect x="351.8" y="237.7" width="6" height="5.6" fill="#000"/>
<text x="336.8" y="54.2" font-size="10" fill="#000" stroke="#000" stroke-width="0.2" textLength="9.6" lengthAdjust="spacingAndGlyphs">10</text>
<text x="347.2" y="49.0" font-size="6.8" fill="#000" stroke="#000" stroke-width="0.15">5</text>
<text x="336.8" y="108.7" font-size="10" fill="#000" stroke="#000" stroke-width="0.2" textLength="9.6" lengthAdjust="spacingAndGlyphs">10</text>
<text x="347.2" y="103.5" font-size="6.8" fill="#000" stroke="#000" stroke-width="0.15">4</text>
<text x="336.8" y="165.0" font-size="10" fill="#000" stroke="#000" stroke-width="0.2" textLength="9.6" lengthAdjust="spacingAndGlyphs">10</text>
<text x="347.2" y="159.8" font-size="6.8" fill="#000" stroke="#000" stroke-width="0.15">3</text>
<text x="336.8" y="222.3" font-size="10" fill="#000" stroke="#000" stroke-width="0.2" textLength="9.6" lengthAdjust="spacingAndGlyphs">10</text>
<text x="347.2" y="217.1" font-size="6.8" fill="#000" stroke="#000" stroke-width="0.15">2</text>
<text x="344.4" y="242.2" font-size="10" font-weight="normal" text-anchor="middle" fill="#111" textLength="5.4" lengthAdjust="spacingAndGlyphs" >0</text>
<text x="333.2" y="265.6" font-size="10" fill="#111" textLength="13" lengthAdjust="spacingAndGlyphs">-10</text>
<text x="347.2" y="260.4" font-size="6.8" fill="#000" stroke="#000" stroke-width="0.15">2</text>
<text x="2.0" y="326.9" font-size="15" font-weight="bold" text-anchor="start" fill="#000" >B</text>
<polygon points="100.0,561.7 105.1,559.6 111.4,553.4 117.7,540.8 122.7,515.6 129.0,485.3 132.8,460.2 135.3,446.0 137.8,437.1 140.0,438.5 143.0,431.0 146.6,425.8 149.0,419.5 150.9,415.2 152.5,421.0 154.2,428.3 156.0,429.5 157.9,435.9 161.7,451.0 165.6,465.2 171.9,477.8 174.4,490.4 179.4,510.5 185.7,533.2 190.8,545.8 198.3,553.4 208.4,558.9 221.0,561.4 240.0,561.7" fill="#dedede" stroke="#b0b0b0" stroke-width="1.8" stroke-linejoin="round"/>
<polygon points="92.5,561.7 97.6,560.4 103.9,554.6 108.9,540.8 112.7,515.6 116.4,477.8 119.7,440.0 122.2,395.6 123.4,369.1 125.2,365.3 126.0,366.5 127.7,347.7 130.7,335.1 132.2,340.0 134.0,350.2 137.8,375.4 140.3,403.1 144.2,440.0 147.9,453.5 150.5,460.2 153.0,482.8 156.0,503.0 158.0,507.5 160.5,510.5 165.6,525.6 173.1,538.2 183.2,550.8 190.8,555.9 203.4,558.9 216.0,560.9 231.0,561.7" fill="rgba(60,60,60,0.45)" stroke="#404040" stroke-width="1.8" stroke-linejoin="round"/>
<path d="M66,561.7 V318.3 H311 V561.7" fill="none" stroke="#4a4a4a" stroke-width="1.2"/>
<line x1="60.0" y1="561.7" x2="311.0" y2="561.7" stroke="#111" stroke-width="1.2" />
<line x1="59.5" y1="561.7" x2="66.0" y2="561.7" stroke="#111" stroke-width="1.2" />
<text x="56.4" y="565.2" font-size="9" font-weight="normal" text-anchor="end" fill="#000" stroke="#000" stroke-width="0.2">0</text>
<line x1="63.0" y1="550.0" x2="66.0" y2="550.0" stroke="#111" stroke-width="1.1" />
<line x1="63.0" y1="538.3" x2="66.0" y2="538.3" stroke="#111" stroke-width="1.1" />
<line x1="63.0" y1="526.6" x2="66.0" y2="526.6" stroke="#111" stroke-width="1.1" />
<line x1="63.0" y1="514.9" x2="66.0" y2="514.9" stroke="#111" stroke-width="1.1" />
<line x1="59.5" y1="503.2" x2="66.0" y2="503.2" stroke="#111" stroke-width="1.2" />
<text x="56.4" y="506.7" font-size="9" font-weight="normal" text-anchor="end" fill="#000" stroke="#000" stroke-width="0.2">50</text>
<line x1="63.0" y1="491.5" x2="66.0" y2="491.5" stroke="#111" stroke-width="1.1" />
<line x1="63.0" y1="479.8" x2="66.0" y2="479.8" stroke="#111" stroke-width="1.1" />
<line x1="63.0" y1="468.1" x2="66.0" y2="468.1" stroke="#111" stroke-width="1.1" />
<line x1="63.0" y1="456.4" x2="66.0" y2="456.4" stroke="#111" stroke-width="1.1" />
<line x1="59.5" y1="444.7" x2="66.0" y2="444.7" stroke="#111" stroke-width="1.2" />
<text x="56.4" y="448.2" font-size="9" font-weight="normal" text-anchor="end" fill="#000" stroke="#000" stroke-width="0.2">100</text>
<line x1="63.0" y1="432.9" x2="66.0" y2="432.9" stroke="#111" stroke-width="1.1" />
<line x1="63.0" y1="421.2" x2="66.0" y2="421.2" stroke="#111" stroke-width="1.1" />
<line x1="63.0" y1="409.5" x2="66.0" y2="409.5" stroke="#111" stroke-width="1.1" />
<line x1="63.0" y1="397.8" x2="66.0" y2="397.8" stroke="#111" stroke-width="1.1" />
<line x1="59.5" y1="386.1" x2="66.0" y2="386.1" stroke="#111" stroke-width="1.2" />
<text x="56.4" y="389.6" font-size="9" font-weight="normal" text-anchor="end" fill="#000" stroke="#000" stroke-width="0.2">150</text>
<line x1="63.0" y1="374.4" x2="66.0" y2="374.4" stroke="#111" stroke-width="1.1" />
<line x1="63.0" y1="362.7" x2="66.0" y2="362.7" stroke="#111" stroke-width="1.1" />
<line x1="63.0" y1="351.0" x2="66.0" y2="351.0" stroke="#111" stroke-width="1.1" />
<line x1="63.0" y1="339.3" x2="66.0" y2="339.3" stroke="#111" stroke-width="1.1" />
<line x1="59.5" y1="327.6" x2="66.0" y2="327.6" stroke="#111" stroke-width="1.2" />
<text x="56.4" y="331.1" font-size="9" font-weight="normal" text-anchor="end" fill="#000" stroke="#000" stroke-width="0.2">200</text>
<text transform="translate(24.9,432.2) rotate(-90)" font-size="11.5" font-weight="bold" fill="#111" text-anchor="middle" textLength="32.8" lengthAdjust="spacingAndGlyphs">Count</text>
<line x1="71.5" y1="561.7" x2="71.5" y2="567.7" stroke="#111" stroke-width="1.0" />
<line x1="115.8" y1="561.7" x2="115.8" y2="567.7" stroke="#111" stroke-width="1.0" />
<line x1="96.8" y1="561.7" x2="96.8" y2="564.9" stroke="#111" stroke-width="0.9" />
<line x1="89.8" y1="561.7" x2="89.8" y2="564.9" stroke="#111" stroke-width="0.9" />
<line x1="99.4" y1="561.7" x2="99.4" y2="564.9" stroke="#111" stroke-width="0.9" />
<line x1="87.2" y1="561.7" x2="87.2" y2="564.9" stroke="#111" stroke-width="0.9" />
<line x1="101.8" y1="561.7" x2="101.8" y2="564.9" stroke="#111" stroke-width="0.9" />
<line x1="84.9" y1="561.7" x2="84.9" y2="564.9" stroke="#111" stroke-width="0.9" />
<line x1="104.1" y1="561.7" x2="104.1" y2="564.9" stroke="#111" stroke-width="0.9" />
<line x1="82.8" y1="561.7" x2="82.8" y2="564.9" stroke="#111" stroke-width="0.9" />
<line x1="106.2" y1="561.7" x2="106.2" y2="564.9" stroke="#111" stroke-width="0.9" />
<line x1="80.7" y1="561.7" x2="80.7" y2="564.9" stroke="#111" stroke-width="0.9" />
<line x1="108.2" y1="561.7" x2="108.2" y2="564.9" stroke="#111" stroke-width="0.9" />
<line x1="78.8" y1="561.7" x2="78.8" y2="564.9" stroke="#111" stroke-width="0.9" />
<line x1="110.2" y1="561.7" x2="110.2" y2="564.9" stroke="#111" stroke-width="0.9" />
<line x1="76.9" y1="561.7" x2="76.9" y2="564.9" stroke="#111" stroke-width="0.9" />
<line x1="112.1" y1="561.7" x2="112.1" y2="564.9" stroke="#111" stroke-width="0.9" />
<line x1="75.0" y1="561.7" x2="75.0" y2="564.9" stroke="#111" stroke-width="0.9" />
<line x1="114.0" y1="561.7" x2="114.0" y2="564.9" stroke="#111" stroke-width="0.9" />
<line x1="73.3" y1="561.7" x2="73.3" y2="564.9" stroke="#111" stroke-width="0.9" />
<rect x="90.6" y="561.7" width="5.2" height="5.5" fill="#000"/>
<line x1="133.4" y1="561.7" x2="133.4" y2="564.9" stroke="#111" stroke-width="0.9" />
<line x1="143.8" y1="561.7" x2="143.8" y2="564.9" stroke="#111" stroke-width="0.9" />
<line x1="151.1" y1="561.7" x2="151.1" y2="564.9" stroke="#111" stroke-width="0.9" />
<line x1="156.8" y1="561.7" x2="156.8" y2="564.9" stroke="#111" stroke-width="0.9" />
<line x1="161.4" y1="561.7" x2="161.4" y2="564.9" stroke="#111" stroke-width="0.9" />
<line x1="165.3" y1="561.7" x2="165.3" y2="564.9" stroke="#111" stroke-width="0.9" />
<line x1="168.7" y1="561.7" x2="168.7" y2="564.9" stroke="#111" stroke-width="0.9" />
<line x1="171.7" y1="561.7" x2="171.7" y2="564.9" stroke="#111" stroke-width="0.9" />
<line x1="174.4" y1="561.7" x2="174.4" y2="567.7" stroke="#111" stroke-width="1.1" />
<line x1="191.5" y1="561.7" x2="191.5" y2="564.9" stroke="#111" stroke-width="0.9" />
<line x1="201.5" y1="561.7" x2="201.5" y2="564.9" stroke="#111" stroke-width="0.9" />
<line x1="208.6" y1="561.7" x2="208.6" y2="564.9" stroke="#111" stroke-width="0.9" />
<line x1="214.1" y1="561.7" x2="214.1" y2="564.9" stroke="#111" stroke-width="0.9" />
<line x1="218.6" y1="561.7" x2="218.6" y2="564.9" stroke="#111" stroke-width="0.9" />
<line x1="222.4" y1="561.7" x2="222.4" y2="564.9" stroke="#111" stroke-width="0.9" />
<line x1="225.7" y1="561.7" x2="225.7" y2="564.9" stroke="#111" stroke-width="0.9" />
<line x1="228.6" y1="561.7" x2="228.6" y2="564.9" stroke="#111" stroke-width="0.9" />
<line x1="231.2" y1="561.7" x2="231.2" y2="567.7" stroke="#111" stroke-width="1.1" />
<line x1="247.9" y1="561.7" x2="247.9" y2="564.9" stroke="#111" stroke-width="0.9" />
<line x1="257.7" y1="561.7" x2="257.7" y2="564.9" stroke="#111" stroke-width="0.9" />
<line x1="264.6" y1="561.7" x2="264.6" y2="564.9" stroke="#111" stroke-width="0.9" />
<line x1="270.0" y1="561.7" x2="270.0" y2="564.9" stroke="#111" stroke-width="0.9" />
<line x1="274.4" y1="561.7" x2="274.4" y2="564.9" stroke="#111" stroke-width="0.9" />
<line x1="278.1" y1="561.7" x2="278.1" y2="564.9" stroke="#111" stroke-width="0.9" />
<line x1="281.3" y1="561.7" x2="281.3" y2="564.9" stroke="#111" stroke-width="0.9" />
<line x1="284.2" y1="561.7" x2="284.2" y2="564.9" stroke="#111" stroke-width="0.9" />
<line x1="286.7" y1="561.7" x2="286.7" y2="567.7" stroke="#111" stroke-width="1.1" />
<line x1="303.3" y1="561.7" x2="303.3" y2="564.9" stroke="#111" stroke-width="0.9" />
<text x="97.7" y="581.7" font-size="10" font-weight="normal" text-anchor="middle" fill="#111" textLength="5.4" lengthAdjust="spacingAndGlyphs" >0</text>
<text x="172.4" y="581.7" font-size="10" fill="#000" stroke="#000" stroke-width="0.2" textLength="9.6" lengthAdjust="spacingAndGlyphs">10</text>
<text x="183.0" y="576.5" font-size="6.8" fill="#000" stroke="#000" stroke-width="0.15">3</text>
<text x="229.2" y="581.7" font-size="10" fill="#000" stroke="#000" stroke-width="0.2" textLength="9.6" lengthAdjust="spacingAndGlyphs">10</text>
<text x="239.8" y="576.5" font-size="6.8" fill="#000" stroke="#000" stroke-width="0.15">4</text>
<text x="283.9" y="581.7" font-size="10" fill="#000" stroke="#000" stroke-width="0.2" textLength="9.6" lengthAdjust="spacingAndGlyphs">10</text>
<text x="294.5" y="576.5" font-size="6.8" fill="#000" stroke="#000" stroke-width="0.15">5</text>
<text x="65.5" y="592.7" font-size="11.5" font-weight="bold" text-anchor="start" fill="#111" textLength="54.0" lengthAdjust="spacingAndGlyphs" >Ter119-PE</text>
<line x1="127.0" y1="588.6" x2="300.0" y2="588.6" stroke="#111" stroke-width="1.3" marker-end="url(#ah)"/>
<text x="206.6" y="333.3" font-size="11" font-weight="bold" text-anchor="start" fill="#b4b4b4" textLength="71.0" lengthAdjust="spacingAndGlyphs" >MEL+GST only</text>
<text x="206.6" y="349.7" font-size="11" font-weight="bold" text-anchor="start" fill="#333" textLength="98.0" lengthAdjust="spacingAndGlyphs" >MEL+GST-KLF1 DBD</text>
<text x="320.0" y="326.9" font-size="15" font-weight="bold" text-anchor="start" fill="#000" >C</text>
<line x1="370.7" y1="336.5" x2="370.7" y2="408.0" stroke="#000" stroke-width="1.6" />
<line x1="370.7" y1="424.0" x2="370.7" y2="495.2" stroke="#000" stroke-width="1.6" />
<line x1="364.7" y1="336.5" x2="370.7" y2="336.5" stroke="#000" stroke-width="1.6" />
<text x="362.7" y="340.2" font-size="10.5" font-weight="bold" text-anchor="end" fill="#111" >2500</text>
<line x1="364.7" y1="360.5" x2="370.7" y2="360.5" stroke="#000" stroke-width="1.6" />
<text x="362.7" y="364.2" font-size="10.5" font-weight="bold" text-anchor="end" fill="#111" >2000</text>
<line x1="364.7" y1="384.3" x2="370.7" y2="384.3" stroke="#000" stroke-width="1.6" />
<text x="362.7" y="388.0" font-size="10.5" font-weight="bold" text-anchor="end" fill="#111" >1500</text>
<line x1="364.7" y1="408.0" x2="370.7" y2="408.0" stroke="#000" stroke-width="1.6" />
<text x="362.7" y="411.7" font-size="10.5" font-weight="bold" text-anchor="end" fill="#111" >1000</text>
<line x1="364.7" y1="424.0" x2="370.7" y2="424.0" stroke="#000" stroke-width="1.6" />
<text x="362.7" y="427.7" font-size="10.5" font-weight="bold" text-anchor="end" fill="#111" >500</text>
<line x1="364.7" y1="441.9" x2="370.7" y2="441.9" stroke="#000" stroke-width="1.6" />
<text x="362.7" y="445.6" font-size="10.5" font-weight="bold" text-anchor="end" fill="#111" >375</text>
<line x1="364.7" y1="459.5" x2="370.7" y2="459.5" stroke="#000" stroke-width="1.6" />
<text x="362.7" y="463.2" font-size="10.5" font-weight="bold" text-anchor="end" fill="#111" >250</text>
<line x1="364.7" y1="477.6" x2="370.7" y2="477.6" stroke="#000" stroke-width="1.6" />
<text x="362.7" y="481.3" font-size="10.5" font-weight="bold" text-anchor="end" fill="#111" >125</text>
<line x1="364.7" y1="495.2" x2="370.7" y2="495.2" stroke="#000" stroke-width="1.6" />
<text x="362.7" y="498.9" font-size="10.5" font-weight="bold" text-anchor="end" fill="#111" >0</text>
<line x1="370.7" y1="408.0" x2="376.2" y2="408.0" stroke="#000" stroke-width="1.6" />
<line x1="370.7" y1="424.0" x2="376.2" y2="424.0" stroke="#000" stroke-width="1.6" />
<line x1="364.7" y1="495.2" x2="602.7" y2="495.2" stroke="#000" stroke-width="1.6" />
<line x1="399.5" y1="495.2" x2="399.5" y2="500.8" stroke="#000" stroke-width="1.6" />
<line x1="457.3" y1="495.2" x2="457.3" y2="500.8" stroke="#000" stroke-width="1.6" />
<line x1="514.7" y1="495.2" x2="514.7" y2="500.8" stroke="#000" stroke-width="1.6" />
<line x1="572.5" y1="495.2" x2="572.5" y2="500.8" stroke="#000" stroke-width="1.6" />
<text transform="translate(330,410.7) rotate(-90)" font-size="11.5" font-weight="bold" fill="#111" text-anchor="middle" textLength="20" lengthAdjust="spacingAndGlyphs">MFI</text>
<line x1="380.2" y1="371.7" x2="418.8" y2="371.7" stroke="#000" stroke-width="1.5" />
<line x1="399.5" y1="368.5" x2="399.5" y2="375.0" stroke="#000" stroke-width="1.5" />
<line x1="395.5" y1="368.5" x2="403.5" y2="368.5" stroke="#000" stroke-width="1.5" />
<line x1="395.5" y1="375.0" x2="403.5" y2="375.0" stroke="#000" stroke-width="1.5" />
<circle cx="391.3" cy="369.0" r="6.1" fill="#000"/>
<circle cx="406.8" cy="368.0" r="6.1" fill="#000"/>
<circle cx="394.5" cy="379.1" r="6.1" fill="#000"/>
<circle cx="404.0" cy="372.6" r="6.1" fill="#000"/>
<line x1="397.0" y1="369.3" x2="399.0" y2="369.3" stroke="#fff" stroke-width="0.9" />
<line x1="397.0" y1="374.3" x2="399.0" y2="374.3" stroke="#fff" stroke-width="0.9" />
<line x1="398.0" y1="369.3" x2="398.0" y2="374.3" stroke="#fff" stroke-width="0.8" />
<line x1="437.5" y1="376.5" x2="476.1" y2="376.5" stroke="#000" stroke-width="1.5" />
<line x1="456.8" y1="356.8" x2="456.8" y2="396.5" stroke="#000" stroke-width="1.5" />
<line x1="447.5" y1="356.8" x2="466.1" y2="356.8" stroke="#000" stroke-width="1.5" />
<line x1="447.5" y1="396.5" x2="466.1" y2="396.5" stroke="#000" stroke-width="1.5" />
<circle cx="456.8" cy="350.1" r="5.0" fill="none" stroke="#000" stroke-width="1.6"/>
<circle cx="456.8" cy="376.0" r="5.0" fill="none" stroke="#000" stroke-width="1.6"/>
<circle cx="465.3" cy="385.3" r="5.0" fill="none" stroke="#000" stroke-width="1.6"/>
<circle cx="448.8" cy="396.0" r="5.0" fill="none" stroke="#000" stroke-width="1.6"/>
<line x1="495.4" y1="438.9" x2="534.0" y2="438.9" stroke="#000" stroke-width="1.5" />
<line x1="514.7" y1="430.1" x2="514.7" y2="448.0" stroke="#000" stroke-width="1.5" />
<line x1="505.7" y1="430.1" x2="523.7" y2="430.1" stroke="#000" stroke-width="1.5" />
<line x1="505.7" y1="448.0" x2="523.7" y2="448.0" stroke="#000" stroke-width="1.5" />
<polygon points="506.1,428.2 512.1,439.0 500.1,439.0" fill="#000"/>
<polygon points="530.1,428.2 536.1,439.0 524.1,439.0" fill="#000"/>
<polygon points="522.1,432.8 528.1,443.6 516.1,443.6" fill="#000"/>
<polygon points="506.1,446.6 512.1,457.4 500.1,457.4" fill="#000"/>
<line x1="553.2" y1="462.1" x2="591.8" y2="462.1" stroke="#000" stroke-width="1.5" />
<line x1="572.5" y1="459.7" x2="572.5" y2="464.8" stroke="#000" stroke-width="1.5" />
<line x1="567.5" y1="459.7" x2="577.5" y2="459.7" stroke="#000" stroke-width="1.5" />
<line x1="567.5" y1="464.8" x2="577.5" y2="464.8" stroke="#000" stroke-width="1.5" />
<polygon points="563.5,456.4 568.5,465.4 558.5,465.4" fill="none" stroke="#000" stroke-width="1.5" stroke-linejoin="miter"/>
<polygon points="579.2,454.2 584.2,463.2 574.2,463.2" fill="none" stroke="#000" stroke-width="1.5" stroke-linejoin="miter"/>
<polygon points="566.7,461.2 571.7,470.2 561.7,470.2" fill="none" stroke="#000" stroke-width="1.5" stroke-linejoin="miter"/>
<polygon points="576.0,457.8 581.0,466.8 571.0,466.8" fill="none" stroke="#000" stroke-width="1.5" stroke-linejoin="miter"/>
<line x1="516.0" y1="352.3" x2="572.0" y2="352.3" stroke="#000" stroke-width="1.6" />
<text x="544.0" y="351.8" font-size="12.5" font-weight="normal" text-anchor="middle" fill="#000" >**</text>
<g transform="translate(418,513) rotate(-30.5)"><text x="0" y="0" font-size="10.8" text-anchor="end" fill="#111" textLength="47" lengthAdjust="spacingAndGlyphs">MEL+GST</text><text x="-12" y="14.5" font-size="10.8" text-anchor="end" fill="#111" textLength="21" lengthAdjust="spacingAndGlyphs">only</text></g>
<g transform="translate(476.5,511.5) rotate(-30.5)"><text x="0" y="0" font-size="10.8" text-anchor="end" fill="#111" textLength="50" lengthAdjust="spacingAndGlyphs">MEL+GST-</text><text x="0" y="14.5" font-size="10.8" text-anchor="end" fill="#111" textLength="48" lengthAdjust="spacingAndGlyphs">KLF1 DBD</text></g>
<g transform="translate(533.2,513) rotate(-30.5)"><text x="0" y="0" font-size="10.8" text-anchor="end" fill="#111" textLength="47" lengthAdjust="spacingAndGlyphs">MEL+GST</text><text x="-12" y="14.5" font-size="10.8" text-anchor="end" fill="#111" textLength="21" lengthAdjust="spacingAndGlyphs">only</text></g>
<g transform="translate(591.7,511.5) rotate(-30.5)"><text x="0" y="0" font-size="10.8" text-anchor="end" fill="#111" textLength="50" lengthAdjust="spacingAndGlyphs">MEL+GST-</text><text x="0" y="14.5" font-size="10.8" text-anchor="end" fill="#111" textLength="48" lengthAdjust="spacingAndGlyphs">KLF1 DBD</text></g>
<path d="M390,550 V558 H466 V550" fill="none" stroke="#000" stroke-width="1.6"/>
<path d="M506.8,550 V558 H582.8 V550" fill="none" stroke="#000" stroke-width="1.6"/>
<text x="422.0" y="574.0" font-size="11" font-weight="bold" text-anchor="middle" fill="#111" textLength="26.0" lengthAdjust="spacingAndGlyphs" >CD71</text>
<text x="541.2" y="574.0" font-size="11" font-weight="bold" text-anchor="middle" fill="#111" textLength="36.0" lengthAdjust="spacingAndGlyphs" >TER119</text>
<text x="486.0" y="592.3" font-size="12" font-weight="bold" text-anchor="middle" fill="#111" textLength="112.0" lengthAdjust="spacingAndGlyphs" >Erythrocyte markers</text>
<text x="2.0" y="628.0" font-size="15" font-weight="bold" text-anchor="start" fill="#000" >D</text>
<text x="198.2" y="615.3" font-size="12.5" font-weight="bold" text-anchor="middle" fill="#111" textLength="86.0" lengthAdjust="spacingAndGlyphs" >MEL+GST only</text>
<text x="486.0" y="615.3" font-size="12.5" font-weight="bold" text-anchor="middle" fill="#111" textLength="119.4" lengthAdjust="spacingAndGlyphs" >MEL+GST-KLF1 DBD</text>
<line x1="66.3" y1="622.2" x2="329.3" y2="622.2" stroke="#111" stroke-width="1.4" />
<line x1="369.3" y1="622.2" x2="602.6" y2="622.2" stroke="#111" stroke-width="1.4" />
<defs>
<filter id="noise" x="0" y="0" width="100%" height="100%"><feTurbulence type="fractalNoise" baseFrequency="0.55" numOctaves="2" seed="3" result="n"/><feColorMatrix type="matrix" values="0 0 0 0 0.5  0 0 0 0 0.5  0 0 0 0 0.5  0.6 0.6 0.6 0 -0.55"/><feComposite in2="SourceGraphic" operator="in"/></filter>
<linearGradient id="tube0" x1="0" x2="1" y1="0" y2="0"><stop offset="0" stop-color="#e0dcdd"/><stop offset="0.1" stop-color="#d3cdcf"/><stop offset="0.45" stop-color="#c9c2c4"/><stop offset="0.8" stop-color="#c1b9bd"/><stop offset="0.95" stop-color="#cbc5c8"/><stop offset="1" stop-color="#d6d2d3"/></linearGradient>
<linearGradient id="tube1" x1="0" x2="1" y1="0" y2="0"><stop offset="0" stop-color="#e2e2e4"/><stop offset="0.1" stop-color="#d4d4d7"/><stop offset="0.45" stop-color="#cbcbcf"/><stop offset="0.8" stop-color="#c3c3c8"/><stop offset="0.95" stop-color="#cdcdd0"/><stop offset="1" stop-color="#d8d8da"/></linearGradient>
<linearGradient id="tubev" x1="0" x2="0" y1="0" y2="1"><stop offset="0" stop-color="#fff" stop-opacity="0.12"/><stop offset="0.6" stop-color="#fff" stop-opacity="0"/><stop offset="1" stop-color="#000" stop-opacity="0.06"/></linearGradient>
<radialGradient id="shadow"><stop offset="0" stop-color="#0a0a0a" stop-opacity="0.7"/><stop offset="0.55" stop-color="#111" stop-opacity="0.4"/><stop offset="1" stop-color="#111" stop-opacity="0"/></radialGradient>
<filter id="blur1" x="-20%" y="-20%" width="140%" height="140%"><feGaussianBlur stdDeviation="0.7"/></filter>
<clipPath id="photo"><rect x="60.4" y="633.5" width="543.6" height="113.8"/></clipPath>
</defs>
<g clip-path="url(#photo)">
<rect x="60.4" y="633.5" width="543.6" height="113.8" fill="#353530"/>
<rect x="60.4" y="633.5" width="543.6" height="113.8" fill="#888" filter="url(#noise)" opacity="0.2"/>
<ellipse cx="102.6" cy="724.2" rx="18" ry="19" fill="url(#shadow)"/>
<clipPath id="tc0"><path d="M67.3,633 L84.0,712.7 A12.6,11.5 0 0 0 109.2,712.7 L119.0,633 Z"/></clipPath>
<path d="M67.3,633 L84.0,712.7 A12.6,11.5 0 0 0 109.2,712.7 L119.0,633 Z" fill="url(#tube0)"/>
<path d="M67.3,633 L84.0,712.7 A12.6,11.5 0 0 0 109.2,712.7 L119.0,633 Z" fill="url(#tubev)"/>
<g clip-path="url(#tc0)" filter="url(#blur1)"><ellipse cx="96.6" cy="719.2" rx="15" ry="11.5" fill="#cc7b76"/><ellipse cx="95.6" cy="711.2" rx="13" ry="3.6" fill="#e6aaa0"/></g>
<ellipse cx="97.4" cy="723.5" rx="1.4" ry="1.1" fill="#f4f0f0"/>
<rect x="107.6" y="661.2" width="5" height="1.6" fill="#fff" opacity="0.55" transform="rotate(-20 109.6 662.2)"/>
<rect x="109.6" y="679.2" width="1.4" height="9" rx="0.7" fill="#fff" opacity="0.5"/>
<ellipse cx="168.6" cy="725.4" rx="18" ry="19" fill="url(#shadow)"/>
<clipPath id="tc1"><path d="M135.9,633 L150.0,713.9 A12.6,11.5 0 0 0 175.2,713.9 L186.9,633 Z"/></clipPath>
<path d="M135.9,633 L150.0,713.9 A12.6,11.5 0 0 0 175.2,713.9 L186.9,633 Z" fill="url(#tube0)"/>
<path d="M135.9,633 L150.0,713.9 A12.6,11.5 0 0 0 175.2,713.9 L186.9,633 Z" fill="url(#tubev)"/>
<g clip-path="url(#tc1)" filter="url(#blur1)"><ellipse cx="162.6" cy="720.4" rx="15" ry="11.5" fill="#cc7b76"/><ellipse cx="161.6" cy="712.4" rx="13" ry="3.6" fill="#e6aaa0"/></g>
<ellipse cx="163.4" cy="724.7" rx="1.4" ry="1.1" fill="#f4f0f0"/>
<rect x="173.6" y="662.4" width="5" height="1.6" fill="#fff" opacity="0.55" transform="rotate(-20 175.6 663.4)"/>
<rect x="175.6" y="680.4" width="1.4" height="9" rx="0.7" fill="#fff" opacity="0.5"/>
<ellipse cx="240.6" cy="724.0" rx="18" ry="19" fill="url(#shadow)"/>
<clipPath id="tc2"><path d="M210.6,633 L222.0,712.5 A12.6,11.5 0 0 0 247.2,712.5 L260.5,633 Z"/></clipPath>
<path d="M210.6,633 L222.0,712.5 A12.6,11.5 0 0 0 247.2,712.5 L260.5,633 Z" fill="url(#tube0)"/>
<path d="M210.6,633 L222.0,712.5 A12.6,11.5 0 0 0 247.2,712.5 L260.5,633 Z" fill="url(#tubev)"/>
<g clip-path="url(#tc2)" filter="url(#blur1)"><ellipse cx="234.6" cy="719.0" rx="15" ry="11.5" fill="#cf807a"/><ellipse cx="233.6" cy="711.0" rx="13" ry="3.6" fill="#e6aaa0"/></g>
<ellipse cx="235.4" cy="723.3" rx="1.4" ry="1.1" fill="#f4f0f0"/>
<rect x="245.6" y="661.0" width="5" height="1.6" fill="#fff" opacity="0.55" transform="rotate(-20 247.6 662.0)"/>
<rect x="247.6" y="679.0" width="1.4" height="9" rx="0.7" fill="#fff" opacity="0.5"/>
<ellipse cx="308.6" cy="724.9" rx="18" ry="19" fill="url(#shadow)"/>
<clipPath id="tc3"><path d="M280.4,633 L290.0,713.4 A12.6,11.5 0 0 0 315.2,713.4 L329.9,633 Z"/></clipPath>
<path d="M280.4,633 L290.0,713.4 A12.6,11.5 0 0 0 315.2,713.4 L329.9,633 Z" fill="url(#tube0)"/>
<path d="M280.4,633 L290.0,713.4 A12.6,11.5 0 0 0 315.2,713.4 L329.9,633 Z" fill="url(#tubev)"/>
<g clip-path="url(#tc3)" filter="url(#blur1)"><ellipse cx="302.6" cy="719.9" rx="15" ry="11.5" fill="#cf807a"/><ellipse cx="301.6" cy="711.9" rx="13" ry="3.6" fill="#e6aaa0"/></g>
<ellipse cx="303.4" cy="724.2" rx="1.4" ry="1.1" fill="#f4f0f0"/>
<rect x="313.6" y="661.9" width="5" height="1.6" fill="#fff" opacity="0.55" transform="rotate(-20 315.6 662.9)"/>
<rect x="315.6" y="679.9" width="1.4" height="9" rx="0.7" fill="#fff" opacity="0.5"/>
<ellipse cx="390.0" cy="722.5" rx="18" ry="19" fill="url(#shadow)"/>
<clipPath id="tc4"><path d="M357.7,633 L371.4,711.0 A12.6,11.5 0 0 0 396.6,711.0 L407.4,633 Z"/></clipPath>
<path d="M357.7,633 L371.4,711.0 A12.6,11.5 0 0 0 396.6,711.0 L407.4,633 Z" fill="url(#tube1)"/>
<path d="M357.7,633 L371.4,711.0 A12.6,11.5 0 0 0 396.6,711.0 L407.4,633 Z" fill="url(#tubev)"/>
<g clip-path="url(#tc4)" filter="url(#blur1)"><ellipse cx="384.0" cy="717.5" rx="15" ry="11.5" fill="#e3c9a2"/><ellipse cx="383.0" cy="709.5" rx="13" ry="3.6" fill="#eedcc0"/></g>
<ellipse cx="384.8" cy="721.8" rx="1.4" ry="1.1" fill="#f4f0f0"/>
<rect x="395.0" y="659.5" width="5" height="1.6" fill="#fff" opacity="0.55" transform="rotate(-20 397.0 660.5)"/>
<rect x="397.0" y="677.5" width="1.4" height="9" rx="0.7" fill="#fff" opacity="0.5"/>
<ellipse cx="447.5" cy="720.0" rx="18" ry="19" fill="url(#shadow)"/>
<clipPath id="tc5"><path d="M422.8,633 L428.9,708.5 A12.6,11.5 0 0 0 454.1,708.5 L471.8,633 Z"/></clipPath>
<path d="M422.8,633 L428.9,708.5 A12.6,11.5 0 0 0 454.1,708.5 L471.8,633 Z" fill="url(#tube1)"/>
<path d="M422.8,633 L428.9,708.5 A12.6,11.5 0 0 0 454.1,708.5 L471.8,633 Z" fill="url(#tubev)"/>
<g clip-path="url(#tc5)" filter="url(#blur1)"><ellipse cx="441.5" cy="715.0" rx="15" ry="11.5" fill="#e6b68e"/><ellipse cx="440.5" cy="707.0" rx="13" ry="3.6" fill="#f0d0b0"/></g>
<ellipse cx="442.3" cy="719.3" rx="1.4" ry="1.1" fill="#f4f0f0"/>
<rect x="452.5" y="657.0" width="5" height="1.6" fill="#fff" opacity="0.55" transform="rotate(-20 454.5 658.0)"/>
<rect x="454.5" y="675.0" width="1.4" height="9" rx="0.7" fill="#fff" opacity="0.5"/>
<ellipse cx="507.9" cy="720.0" rx="18" ry="19" fill="url(#shadow)"/>
<clipPath id="tc6"><path d="M484.0,633 L489.3,708.5 A12.6,11.5 0 0 0 514.5,708.5 L534.4,633 Z"/></clipPath>
<path d="M484.0,633 L489.3,708.5 A12.6,11.5 0 0 0 514.5,708.5 L534.4,633 Z" fill="url(#tube1)"/>
<path d="M484.0,633 L489.3,708.5 A12.6,11.5 0 0 0 514.5,708.5 L534.4,633 Z" fill="url(#tubev)"/>
<g clip-path="url(#tc6)" filter="url(#blur1)"><ellipse cx="501.9" cy="715.0" rx="15" ry="11.5" fill="#ecdcb6"/><ellipse cx="500.9" cy="707.0" rx="13" ry="3.6" fill="#f3e8cc"/></g>
<ellipse cx="502.7" cy="719.3" rx="1.4" ry="1.1" fill="#f4f0f0"/>
<rect x="512.9" y="657.0" width="5" height="1.6" fill="#fff" opacity="0.55" transform="rotate(-20 514.9 658.0)"/>
<rect x="514.9" y="675.0" width="1.4" height="9" rx="0.7" fill="#fff" opacity="0.5"/>
<ellipse cx="571.6" cy="724.0" rx="18" ry="19" fill="url(#shadow)"/>
<clipPath id="tc7"><path d="M546.9,633 L553.0,712.5 A12.6,11.5 0 0 0 578.2,712.5 L599.6,633 Z"/></clipPath>
<path d="M546.9,633 L553.0,712.5 A12.6,11.5 0 0 0 578.2,712.5 L599.6,633 Z" fill="url(#tube1)"/>
<path d="M546.9,633 L553.0,712.5 A12.6,11.5 0 0 0 578.2,712.5 L599.6,633 Z" fill="url(#tubev)"/>
<g clip-path="url(#tc7)" filter="url(#blur1)"><ellipse cx="565.6" cy="719.0" rx="15" ry="11.5" fill="#e6c49c"/><ellipse cx="564.6" cy="711.0" rx="13" ry="3.6" fill="#efd6b4"/></g>
<ellipse cx="566.4" cy="723.3" rx="1.4" ry="1.1" fill="#f4f0f0"/>
<rect x="576.6" y="661.0" width="5" height="1.6" fill="#fff" opacity="0.55" transform="rotate(-20 578.6 662.0)"/>
<rect x="578.6" y="679.0" width="1.4" height="9" rx="0.7" fill="#fff" opacity="0.5"/>
</g>
<text x="2.0" y="766.0" font-size="15" font-weight="bold" text-anchor="start" fill="#000" >E</text>
<text transform="translate(24.8,867.3) rotate(-90)" font-size="12.5" font-weight="bold" fill="#111" text-anchor="middle" textLength="173" lengthAdjust="spacingAndGlyphs"><tspan font-style="italic">Globins/18S</tspan> (arbitrary units)</text>
<rect x="71.5" y="768.7" width="198.4" height="198.9" fill="#e9e9e9" stroke="#585858" stroke-width="1.1"/>
<line x1="171.5" y1="768.7" x2="171.5" y2="967.6" stroke="#555" stroke-width="1" />
<rect x="311.3" y="768.7" width="293" height="199.6" fill="#e9e9e9" stroke="#585858" stroke-width="1.1"/>
<line x1="408.5" y1="768.7" x2="408.5" y2="968.3" stroke="#555" stroke-width="1" />
<line x1="505.5" y1="768.7" x2="505.5" y2="968.3" stroke="#555" stroke-width="1" />
<line x1="71.5" y1="768.7" x2="71.5" y2="865.2" stroke="#000" stroke-width="1.6" />
<line x1="71.5" y1="879.9" x2="71.5" y2="967.6" stroke="#000" stroke-width="1.6" />
<rect x="70.5" y="866.2" width="5" height="12.6" fill="#f1f1f1"/>
<line x1="65.5" y1="777.5" x2="71.5" y2="777.5" stroke="#000" stroke-width="1.5" />
<text x="62.5" y="781.5" font-size="11" font-weight="bold" text-anchor="end" fill="#111" textLength="30.0" lengthAdjust="spacingAndGlyphs" >40000</text>
<line x1="65.5" y1="806.5" x2="71.5" y2="806.5" stroke="#000" stroke-width="1.5" />
<text x="62.5" y="810.5" font-size="11" font-weight="bold" text-anchor="end" fill="#111" textLength="30.0" lengthAdjust="spacingAndGlyphs" >30000</text>
<line x1="65.5" y1="835.9" x2="71.5" y2="835.9" stroke="#000" stroke-width="1.5" />
<text x="62.5" y="839.9" font-size="11" font-weight="bold" text-anchor="end" fill="#111" textLength="30.0" lengthAdjust="spacingAndGlyphs" >20000</text>
<line x1="65.5" y1="865.2" x2="71.5" y2="865.2" stroke="#000" stroke-width="1.5" />
<text x="62.5" y="869.2" font-size="11" font-weight="bold" text-anchor="end" fill="#111" textLength="30.0" lengthAdjust="spacingAndGlyphs" >10000</text>
<line x1="65.5" y1="879.9" x2="71.5" y2="879.9" stroke="#000" stroke-width="1.5" />
<text x="62.5" y="883.9" font-size="11" font-weight="bold" text-anchor="end" fill="#111" textLength="14.6" lengthAdjust="spacingAndGlyphs" >2.0</text>
<line x1="65.5" y1="901.5" x2="71.5" y2="901.5" stroke="#000" stroke-width="1.5" />
<text x="62.5" y="905.5" font-size="11" font-weight="bold" text-anchor="end" fill="#111" textLength="14.6" lengthAdjust="spacingAndGlyphs" >1.5</text>
<line x1="65.5" y1="923.6" x2="71.5" y2="923.6" stroke="#000" stroke-width="1.5" />
<text x="62.5" y="927.6" font-size="11" font-weight="bold" text-anchor="end" fill="#111" textLength="14.6" lengthAdjust="spacingAndGlyphs" >1.0</text>
<line x1="65.5" y1="945.5" x2="71.5" y2="945.5" stroke="#000" stroke-width="1.5" />
<text x="62.5" y="949.5" font-size="11" font-weight="bold" text-anchor="end" fill="#111" textLength="14.6" lengthAdjust="spacingAndGlyphs" >0.5</text>
<line x1="71.5" y1="865.2" x2="77.3" y2="865.2" stroke="#000" stroke-width="1.5" />
<line x1="71.5" y1="879.9" x2="77.3" y2="879.9" stroke="#000" stroke-width="1.5" />
<line x1="65.0" y1="967.6" x2="269.9" y2="967.6" stroke="#000" stroke-width="1.3" />
<line x1="311.3" y1="768.7" x2="311.3" y2="866.5" stroke="#000" stroke-width="1.6" />
<line x1="311.3" y1="880.9" x2="311.3" y2="968.3" stroke="#000" stroke-width="1.6" />
<rect x="310.3" y="867.5" width="5" height="12.4" fill="#f1f1f1"/>
<line x1="305.3" y1="778.5" x2="311.3" y2="778.5" stroke="#000" stroke-width="1.5" />
<text x="302.3" y="782.5" font-size="11" font-weight="bold" text-anchor="end" fill="#111" textLength="24.0" lengthAdjust="spacingAndGlyphs" >5000</text>
<line x1="305.3" y1="796.7" x2="311.3" y2="796.7" stroke="#000" stroke-width="1.5" />
<text x="302.3" y="800.7" font-size="11" font-weight="bold" text-anchor="end" fill="#111" textLength="24.0" lengthAdjust="spacingAndGlyphs" >4000</text>
<line x1="305.3" y1="814.8" x2="311.3" y2="814.8" stroke="#000" stroke-width="1.5" />
<text x="302.3" y="818.8" font-size="11" font-weight="bold" text-anchor="end" fill="#111" textLength="24.0" lengthAdjust="spacingAndGlyphs" >3000</text>
<line x1="305.3" y1="832.9" x2="311.3" y2="832.9" stroke="#000" stroke-width="1.5" />
<text x="302.3" y="836.9" font-size="11" font-weight="bold" text-anchor="end" fill="#111" textLength="24.0" lengthAdjust="spacingAndGlyphs" >2000</text>
<line x1="305.3" y1="851.3" x2="311.3" y2="851.3" stroke="#000" stroke-width="1.5" />
<text x="302.3" y="855.3" font-size="11" font-weight="bold" text-anchor="end" fill="#111" textLength="24.0" lengthAdjust="spacingAndGlyphs" >1000</text>
<line x1="305.3" y1="880.9" x2="311.3" y2="880.9" stroke="#000" stroke-width="1.5" />
<text x="302.3" y="884.9" font-size="11" font-weight="bold" text-anchor="end" fill="#111" textLength="12.0" lengthAdjust="spacingAndGlyphs" >25</text>
<line x1="305.3" y1="898.3" x2="311.3" y2="898.3" stroke="#000" stroke-width="1.5" />
<text x="302.3" y="902.3" font-size="11" font-weight="bold" text-anchor="end" fill="#111" textLength="12.0" lengthAdjust="spacingAndGlyphs" >20</text>
<line x1="305.3" y1="915.9" x2="311.3" y2="915.9" stroke="#000" stroke-width="1.5" />
<text x="302.3" y="919.9" font-size="11" font-weight="bold" text-anchor="end" fill="#111" textLength="12.0" lengthAdjust="spacingAndGlyphs" >15</text>
<line x1="305.3" y1="933.5" x2="311.3" y2="933.5" stroke="#000" stroke-width="1.5" />
<text x="302.3" y="937.5" font-size="11" font-weight="bold" text-anchor="end" fill="#111" textLength="12.0" lengthAdjust="spacingAndGlyphs" >10</text>
<line x1="305.3" y1="951.1" x2="311.3" y2="951.1" stroke="#000" stroke-width="1.5" />
<text x="302.3" y="955.1" font-size="11" font-weight="bold" text-anchor="end" fill="#111" textLength="6.0" lengthAdjust="spacingAndGlyphs" >5</text>
<line x1="305.3" y1="866.5" x2="317.1" y2="866.5" stroke="#000" stroke-width="1.5" />
<line x1="311.3" y1="880.9" x2="317.1" y2="880.9" stroke="#000" stroke-width="1.5" />
<line x1="304.8" y1="968.3" x2="604.3" y2="968.3" stroke="#000" stroke-width="1.3" />
<line x1="80.0" y1="926.5" x2="112.0" y2="926.5" stroke="#000" stroke-width="1.7" />
<line x1="96.0" y1="908.9" x2="96.0" y2="945.2" stroke="#000" stroke-width="1.7" />
<line x1="88.0" y1="908.9" x2="104.0" y2="908.9" stroke="#000" stroke-width="1.7" />
<line x1="88.0" y1="945.2" x2="104.0" y2="945.2" stroke="#000" stroke-width="1.7" />
<circle cx="96.0" cy="900.7" r="5.2" fill="#000"/>
<circle cx="86.7" cy="930.7" r="5.2" fill="#000"/>
<circle cx="104.8" cy="932.7" r="5.2" fill="#000"/>
<circle cx="96.0" cy="942.5" r="5.2" fill="#000"/>
<line x1="128.6" y1="941.7" x2="160.6" y2="941.7" stroke="#000" stroke-width="1.7" />
<line x1="144.6" y1="933.2" x2="144.6" y2="951.3" stroke="#000" stroke-width="1.7" />
<line x1="137.0" y1="933.2" x2="152.2" y2="933.2" stroke="#000" stroke-width="1.7" />
<line x1="137.0" y1="951.3" x2="152.2" y2="951.3" stroke="#000" stroke-width="1.7" />
<circle cx="144.5" cy="929.2" r="4.3999999999999995" fill="none" stroke="#000" stroke-width="1.8"/>
<circle cx="136.8" cy="941.5" r="4.3999999999999995" fill="none" stroke="#000" stroke-width="1.8"/>
<circle cx="154.1" cy="947.9" r="4.3999999999999995" fill="none" stroke="#000" stroke-width="1.8"/>
<circle cx="144.8" cy="948.7" r="4.3999999999999995" fill="none" stroke="#000" stroke-width="1.8"/>
<line x1="178.1" y1="812.9" x2="210.1" y2="812.9" stroke="#000" stroke-width="1.7" />
<line x1="194.1" y1="796.7" x2="194.1" y2="829.2" stroke="#000" stroke-width="1.7" />
<line x1="186.8" y1="796.7" x2="201.4" y2="796.7" stroke="#000" stroke-width="1.7" />
<line x1="186.8" y1="829.2" x2="201.4" y2="829.2" stroke="#000" stroke-width="1.7" />
<polygon points="186.7,789.7 191.9,799.0 181.5,799.0" fill="#000"/>
<polygon points="201.3,800.4 206.5,809.7 196.1,809.7" fill="#000"/>
<polygon points="186.7,824.1 191.9,833.4 181.5,833.4" fill="#000"/>
<polygon points="200.8,820.9 206.0,830.2 195.6,830.2" fill="#000"/>
<line x1="227.2" y1="858.8" x2="259.2" y2="858.8" stroke="#000" stroke-width="1.7" />
<line x1="243.2" y1="856.6" x2="243.2" y2="861.6" stroke="#000" stroke-width="1.7" />
<line x1="236.2" y1="856.6" x2="250.2" y2="856.6" stroke="#000" stroke-width="1.7" />
<line x1="236.2" y1="861.6" x2="250.2" y2="861.6" stroke="#000" stroke-width="1.7" />
<polygon points="236.5,851.7 240.7,859.3 232.3,859.3" fill="none" stroke="#000" stroke-width="1.8" stroke-linejoin="miter"/>
<polygon points="250.7,851.1 254.9,858.7 246.5,858.7" fill="none" stroke="#000" stroke-width="1.8" stroke-linejoin="miter"/>
<polygon points="238.7,860.5 242.9,868.1 234.5,868.1" fill="none" stroke="#000" stroke-width="1.8" stroke-linejoin="miter"/>
<polygon points="246.7,855.1 250.9,862.7 242.5,862.7" fill="none" stroke="#000" stroke-width="1.8" stroke-linejoin="miter"/>
<text x="217.9" y="783.3" font-size="12.5" font-weight="normal" text-anchor="middle" fill="#000" >**</text>
<line x1="319.5" y1="943.9" x2="351.5" y2="943.9" stroke="#000" stroke-width="1.7" />
<line x1="335.5" y1="937.2" x2="335.5" y2="950.8" stroke="#000" stroke-width="1.7" />
<line x1="328.2" y1="937.2" x2="342.8" y2="937.2" stroke="#000" stroke-width="1.7" />
<line x1="328.2" y1="950.8" x2="342.8" y2="950.8" stroke="#000" stroke-width="1.7" />
<rect x="331.8" y="934.2" width="7.5" height="7.5" fill="#000" transform="rotate(45 335.5 938.0)"/>
<rect x="322.4" y="938.2" width="7.5" height="7.5" fill="#000" transform="rotate(45 326.1 942.0)"/>
<rect x="341.1" y="937.8" width="7.5" height="7.5" fill="#000" transform="rotate(45 344.8 941.5)"/>
<rect x="331.8" y="951.0" width="7.5" height="7.5" fill="#000" transform="rotate(45 335.5 954.8)"/>
<line x1="368.5" y1="963.1" x2="400.5" y2="963.1" stroke="#000" stroke-width="1.7" />
<line x1="384.5" y1="961.0" x2="384.5" y2="965.5" stroke="#000" stroke-width="1.7" />
<line x1="380.5" y1="961.0" x2="388.5" y2="961.0" stroke="#000" stroke-width="1.7" />
<line x1="380.5" y1="965.5" x2="388.5" y2="965.5" stroke="#000" stroke-width="1.7" />
<rect x="388.5" y="952.3" width="6.0" height="6.0" fill="none" stroke="#000" stroke-width="1.7" transform="rotate(45 391.5 955.3)"/>
<rect x="374.9" y="959.8" width="6.0" height="6.0" fill="none" stroke="#000" stroke-width="1.7" transform="rotate(45 377.9 962.8)"/>
<rect x="385.0" y="962.5" width="6.0" height="6.0" fill="none" stroke="#000" stroke-width="1.7" transform="rotate(45 388.0 965.5)"/>
<rect x="377.5" y="964.3" width="6.0" height="6.0" fill="none" stroke="#000" stroke-width="1.7" transform="rotate(45 380.5 967.3)"/>
<text x="360.0" y="783.3" font-size="12.5" font-weight="normal" text-anchor="middle" fill="#000" >**</text>
<line x1="416.8" y1="895.3" x2="448.8" y2="895.3" stroke="#000" stroke-width="1.7" />
<line x1="432.8" y1="886.8" x2="432.8" y2="903.9" stroke="#000" stroke-width="1.7" />
<line x1="425.1" y1="886.8" x2="440.5" y2="886.8" stroke="#000" stroke-width="1.7" />
<line x1="425.1" y1="903.9" x2="440.5" y2="903.9" stroke="#000" stroke-width="1.7" />
<rect x="427.8" y="879.1" width="10" height="10" fill="#000"/>
<rect x="419.0" y="887.1" width="10" height="10" fill="#000"/>
<rect x="437.1" y="894.9" width="10" height="10" fill="#000"/>
<rect x="427.8" y="898.9" width="10" height="10" fill="#000"/>
<line x1="465.8" y1="930.4" x2="497.8" y2="930.4" stroke="#000" stroke-width="1.7" />
<line x1="481.8" y1="911.9" x2="481.8" y2="948.5" stroke="#000" stroke-width="1.7" />
<line x1="474.3" y1="911.9" x2="489.3" y2="911.9" stroke="#000" stroke-width="1.7" />
<line x1="474.3" y1="948.5" x2="489.3" y2="948.5" stroke="#000" stroke-width="1.7" />
<rect x="472.1" y="907.1" width="7.6" height="7.6" fill="none" stroke="#000" stroke-width="2"/>
<rect x="484.2" y="918.2" width="7.6" height="7.6" fill="none" stroke="#000" stroke-width="2"/>
<rect x="484.2" y="937.7" width="7.6" height="7.6" fill="none" stroke="#000" stroke-width="2"/>
<rect x="472.8" y="940.1" width="7.6" height="7.6" fill="none" stroke="#000" stroke-width="2"/>
<text x="457.9" y="783.3" font-size="12.5" font-weight="normal" text-anchor="middle" fill="#000" >*</text>
<line x1="514.2" y1="818.6" x2="546.8" y2="818.6" stroke="#000" stroke-width="1.7" />
<line x1="530.5" y1="797.7" x2="530.5" y2="839.5" stroke="#000" stroke-width="1.7" />
<line x1="522.7" y1="797.7" x2="538.3" y2="797.7" stroke="#000" stroke-width="1.7" />
<line x1="522.7" y1="839.5" x2="538.3" y2="839.5" stroke="#000" stroke-width="1.7" />
<polygon points="523.6,801.4 528.8,792.1 518.4,792.1" fill="#000"/>
<polygon points="538.2,809.1 543.4,799.8 533.0,799.8" fill="#000"/>
<polygon points="537.5,836.9 542.7,827.6 532.3,827.6" fill="#000"/>
<polygon points="523.6,844.9 528.8,835.6 518.4,835.6" fill="#000"/>
<line x1="563.6" y1="858.6" x2="595.6" y2="858.6" stroke="#000" stroke-width="1.7" />
<line x1="579.6" y1="851.3" x2="579.6" y2="862.5" stroke="#000" stroke-width="1.7" />
<line x1="571.6" y1="851.3" x2="587.6" y2="851.3" stroke="#000" stroke-width="1.7" />
<line x1="571.6" y1="862.5" x2="587.6" y2="862.5" stroke="#000" stroke-width="1.7" />
<polygon points="579.3,852.0 583.9,843.7 574.7,843.7" fill="none" stroke="#000" stroke-width="1.8" stroke-linejoin="miter"/>
<polygon points="571.6,866.3 576.2,858.0 567.0,858.0" fill="none" stroke="#000" stroke-width="1.8" stroke-linejoin="miter"/>
<polygon points="579.3,868.6 583.9,860.3 574.7,860.3" fill="none" stroke="#000" stroke-width="1.8" stroke-linejoin="miter"/>
<polygon points="588.0,866.8 592.6,858.5 583.4,858.5" fill="none" stroke="#000" stroke-width="1.8" stroke-linejoin="miter"/>
<text x="555.6" y="783.3" font-size="12.5" font-weight="normal" text-anchor="middle" fill="#000" >**</text>
<text x="122.7" y="983.7" font-size="11" font-weight="bold" text-anchor="middle" fill="#111" font-style="italic" textLength="33.0" lengthAdjust="spacingAndGlyphs" >Hba-x</text>
<text x="218.1" y="983.7" font-size="11" font-weight="bold" text-anchor="middle" fill="#111" font-style="italic" textLength="33.0" lengthAdjust="spacingAndGlyphs" >Hba-a</text>
<text x="360.0" y="983.7" font-size="11" font-weight="bold" text-anchor="middle" fill="#111" font-style="italic" textLength="33.0" lengthAdjust="spacingAndGlyphs" >Hbb-y</text>
<text x="456.0" y="983.7" font-size="11" font-weight="bold" text-anchor="middle" fill="#111" font-style="italic" textLength="46.0" lengthAdjust="spacingAndGlyphs" >Hbb-bh1</text>
<text x="555.6" y="983.7" font-size="11" font-weight="bold" text-anchor="middle" fill="#111" font-style="italic" textLength="33.0" lengthAdjust="spacingAndGlyphs" >Hbb-b</text>
<circle cx="615.8" cy="843.3" r="4.2" fill="#000"/>
<circle cx="615.8" cy="873.6" r="3.5500000000000003" fill="none" stroke="#000" stroke-width="1.3"/>
<text x="624.5" y="839.8" font-size="10.8" font-weight="normal" text-anchor="start" fill="#111" textLength="46.0" lengthAdjust="spacingAndGlyphs" >MEL+GST</text>
<text x="624.5" y="854.8" font-size="10.8" font-weight="normal" text-anchor="start" fill="#111" textLength="20.0" lengthAdjust="spacingAndGlyphs" >only</text>
<text x="624.5" y="869.4" font-size="10.8" font-weight="normal" text-anchor="start" fill="#111" textLength="48.0" lengthAdjust="spacingAndGlyphs" >MEL+GST-</text>
<text x="624.5" y="884.4" font-size="10.8" font-weight="normal" text-anchor="start" fill="#111" textLength="46.0" lengthAdjust="spacingAndGlyphs" >KLF1 DBD</text>
</svg></body></html>
